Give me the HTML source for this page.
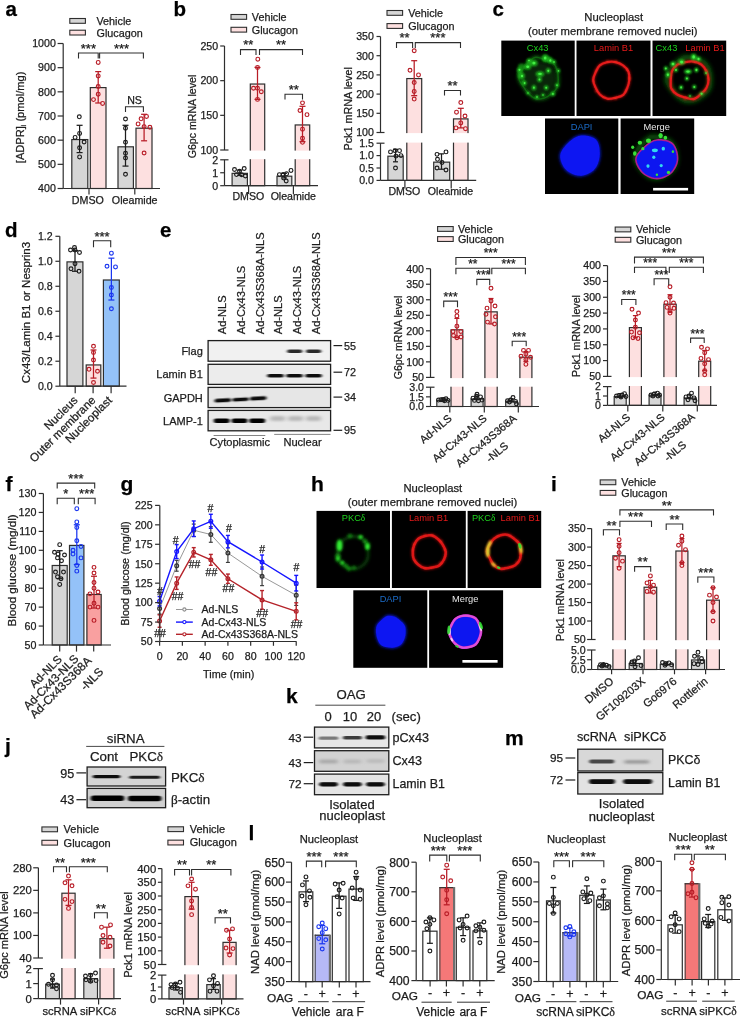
<!DOCTYPE html>
<html><head><meta charset="utf-8"><title>Figure</title>
<style>
html,body{margin:0;padding:0;background:#fff;}
body{width:740px;height:1018px;overflow:hidden;}
svg{display:block;will-change:transform;}
text{stroke-linejoin:round;}
</style></head>
<body>
<svg width="740" height="1018" viewBox="0 0 740 1018">
<defs>
<filter id="b06" x="-50%" y="-50%" width="200%" height="200%"><feGaussianBlur stdDeviation="0.6"/></filter>
<filter id="b1" x="-50%" y="-50%" width="200%" height="200%"><feGaussianBlur stdDeviation="1.0"/></filter>
<filter id="b15" x="-50%" y="-50%" width="200%" height="200%"><feGaussianBlur stdDeviation="1.5"/></filter>
<filter id="b2" x="-50%" y="-50%" width="200%" height="200%"><feGaussianBlur stdDeviation="2.2"/></filter>
<filter id="bband" x="-30%" y="-100%" width="160%" height="300%"><feGaussianBlur stdDeviation="1.6 0.7"/></filter>
<filter id="bband2" x="-30%" y="-100%" width="160%" height="300%"><feGaussianBlur stdDeviation="2.2 1.2"/></filter>
</defs>
<rect x="0" y="0" width="740" height="1018" fill="#ffffff"/>
<text x="5.5" y="16.3" style="font-family:'Liberation Sans', sans-serif;font-size:20.5px;fill:#000;stroke:#000;stroke-width:0.25px;font-weight:bold">a</text>
<rect x="69.8" y="18.5" width="15.6" height="4.8" fill="#d6d6d6" stroke="#2e2e2e" stroke-width="1.1"/>
<text x="96.5" y="24.9" style="font-family:'Liberation Sans', sans-serif;font-size:10.8px;fill:#1c1c1c;stroke:#1c1c1c;stroke-width:0.25px">Vehicle</text>
<rect x="69.8" y="30.2" width="15.6" height="4.8" fill="#fde0e0" stroke="#2e2e2e" stroke-width="1.1"/>
<text x="96.5" y="36.6" style="font-family:'Liberation Sans', sans-serif;font-size:10.8px;fill:#1c1c1c;stroke:#1c1c1c;stroke-width:0.25px">Glucagon</text>
<rect x="71.8" y="139.56" width="16" height="48.94" fill="#d6d6d6" stroke="#2e2e2e" stroke-width="1.2"/>
<rect x="90.3" y="87.6" width="15.7" height="100.9" fill="#fde0e0" stroke="#2e2e2e" stroke-width="1.2"/>
<rect x="118" y="146.81" width="15.4" height="41.69" fill="#d6d6d6" stroke="#2e2e2e" stroke-width="1.2"/>
<rect x="136" y="128.2" width="16" height="60.3" fill="#fde0e0" stroke="#2e2e2e" stroke-width="1.2"/>
<line x1="79.6" y1="125.3" x2="79.6" y2="152.6" stroke="#1c1c1c" stroke-width="1.25"/>
<line x1="76.6" y1="125.3" x2="82.6" y2="125.3" stroke="#1c1c1c" stroke-width="1.25"/>
<line x1="76.6" y1="152.6" x2="82.6" y2="152.6" stroke="#1c1c1c" stroke-width="1.25"/>
<circle cx="79.3" cy="116.8" r="1.9" fill="none" stroke="#1c1c1c" stroke-width="1.15"/>
<circle cx="75.1" cy="137.4" r="1.9" fill="none" stroke="#1c1c1c" stroke-width="1.15"/>
<circle cx="79.6" cy="133.4" r="1.9" fill="none" stroke="#1c1c1c" stroke-width="1.15"/>
<circle cx="84.1" cy="142" r="1.9" fill="none" stroke="#1c1c1c" stroke-width="1.15"/>
<circle cx="79.6" cy="147.8" r="1.9" fill="none" stroke="#1c1c1c" stroke-width="1.15"/>
<circle cx="79.6" cy="156.9" r="1.9" fill="none" stroke="#1c1c1c" stroke-width="1.15"/>
<line x1="98.2" y1="71.6" x2="98.2" y2="103" stroke="#b81c26" stroke-width="1.25"/>
<line x1="95.2" y1="71.6" x2="101.2" y2="71.6" stroke="#b81c26" stroke-width="1.25"/>
<line x1="95.2" y1="103" x2="101.2" y2="103" stroke="#b81c26" stroke-width="1.25"/>
<circle cx="98.2" cy="62.4" r="1.9" fill="none" stroke="#b81c26" stroke-width="1.15"/>
<circle cx="98.2" cy="75.9" r="1.9" fill="none" stroke="#b81c26" stroke-width="1.15"/>
<circle cx="98.2" cy="86.5" r="1.9" fill="none" stroke="#b81c26" stroke-width="1.15"/>
<circle cx="98.2" cy="94.2" r="1.9" fill="none" stroke="#b81c26" stroke-width="1.15"/>
<circle cx="93.5" cy="99.6" r="1.9" fill="none" stroke="#b81c26" stroke-width="1.15"/>
<circle cx="102.6" cy="103.4" r="1.9" fill="none" stroke="#b81c26" stroke-width="1.15"/>
<line x1="125.5" y1="125.3" x2="125.5" y2="166.1" stroke="#1c1c1c" stroke-width="1.25"/>
<line x1="122.5" y1="125.3" x2="128.5" y2="125.3" stroke="#1c1c1c" stroke-width="1.25"/>
<line x1="122.5" y1="166.1" x2="128.5" y2="166.1" stroke="#1c1c1c" stroke-width="1.25"/>
<circle cx="125.5" cy="119" r="1.9" fill="none" stroke="#1c1c1c" stroke-width="1.15"/>
<circle cx="125.5" cy="128.2" r="1.9" fill="none" stroke="#1c1c1c" stroke-width="1.15"/>
<circle cx="125.5" cy="142.2" r="1.9" fill="none" stroke="#1c1c1c" stroke-width="1.15"/>
<circle cx="125.5" cy="153.2" r="1.9" fill="none" stroke="#1c1c1c" stroke-width="1.15"/>
<circle cx="125.5" cy="158" r="1.9" fill="none" stroke="#1c1c1c" stroke-width="1.15"/>
<circle cx="125.5" cy="174.2" r="1.9" fill="none" stroke="#1c1c1c" stroke-width="1.15"/>
<line x1="144.1" y1="114.3" x2="144.1" y2="140.8" stroke="#b81c26" stroke-width="1.25"/>
<line x1="141.1" y1="114.3" x2="147.1" y2="114.3" stroke="#b81c26" stroke-width="1.25"/>
<line x1="141.1" y1="140.8" x2="147.1" y2="140.8" stroke="#b81c26" stroke-width="1.25"/>
<circle cx="146.5" cy="116.4" r="1.9" fill="none" stroke="#b81c26" stroke-width="1.15"/>
<circle cx="141.1" cy="118.8" r="1.9" fill="none" stroke="#b81c26" stroke-width="1.15"/>
<circle cx="138.1" cy="123.9" r="1.9" fill="none" stroke="#b81c26" stroke-width="1.15"/>
<circle cx="144.1" cy="126.6" r="1.9" fill="none" stroke="#b81c26" stroke-width="1.15"/>
<circle cx="149.9" cy="127.3" r="1.9" fill="none" stroke="#b81c26" stroke-width="1.15"/>
<circle cx="144.1" cy="153" r="1.9" fill="none" stroke="#b81c26" stroke-width="1.15"/>
<line x1="63.2" y1="43.5" x2="63.2" y2="188.5" stroke="#2e2e2e" stroke-width="1.2"/>
<line x1="57.6" y1="188.5" x2="63.2" y2="188.5" stroke="#2e2e2e" stroke-width="1.2"/>
<text x="55.8" y="192.29" text-anchor="end" style="font-family:'Liberation Sans', sans-serif;font-size:10.6px;fill:#1c1c1c;stroke:#1c1c1c;stroke-width:0.25px">400</text>
<line x1="57.6" y1="164.33" x2="63.2" y2="164.33" stroke="#2e2e2e" stroke-width="1.2"/>
<text x="55.8" y="168.13" text-anchor="end" style="font-family:'Liberation Sans', sans-serif;font-size:10.6px;fill:#1c1c1c;stroke:#1c1c1c;stroke-width:0.25px">500</text>
<line x1="57.6" y1="140.17" x2="63.2" y2="140.17" stroke="#2e2e2e" stroke-width="1.2"/>
<text x="55.8" y="143.96" text-anchor="end" style="font-family:'Liberation Sans', sans-serif;font-size:10.6px;fill:#1c1c1c;stroke:#1c1c1c;stroke-width:0.25px">600</text>
<line x1="57.6" y1="116" x2="63.2" y2="116" stroke="#2e2e2e" stroke-width="1.2"/>
<text x="55.8" y="119.79" text-anchor="end" style="font-family:'Liberation Sans', sans-serif;font-size:10.6px;fill:#1c1c1c;stroke:#1c1c1c;stroke-width:0.25px">700</text>
<line x1="57.6" y1="91.83" x2="63.2" y2="91.83" stroke="#2e2e2e" stroke-width="1.2"/>
<text x="55.8" y="95.63" text-anchor="end" style="font-family:'Liberation Sans', sans-serif;font-size:10.6px;fill:#1c1c1c;stroke:#1c1c1c;stroke-width:0.25px">800</text>
<line x1="57.6" y1="67.67" x2="63.2" y2="67.67" stroke="#2e2e2e" stroke-width="1.2"/>
<text x="55.8" y="71.46" text-anchor="end" style="font-family:'Liberation Sans', sans-serif;font-size:10.6px;fill:#1c1c1c;stroke:#1c1c1c;stroke-width:0.25px">900</text>
<line x1="57.6" y1="43.5" x2="63.2" y2="43.5" stroke="#2e2e2e" stroke-width="1.2"/>
<text x="55.8" y="47.29" text-anchor="end" style="font-family:'Liberation Sans', sans-serif;font-size:10.6px;fill:#1c1c1c;stroke:#1c1c1c;stroke-width:0.25px">1000</text>
<line x1="63.2" y1="188.5" x2="160" y2="188.5" stroke="#2e2e2e" stroke-width="1.2"/>
<line x1="89" y1="188.5" x2="89" y2="194.5" stroke="#2e2e2e" stroke-width="1.2"/>
<line x1="134.8" y1="188.5" x2="134.8" y2="194.5" stroke="#2e2e2e" stroke-width="1.2"/>
<text x="87.9" y="204" text-anchor="middle" style="font-family:'Liberation Sans', sans-serif;font-size:10.7px;fill:#1c1c1c;stroke:#1c1c1c;stroke-width:0.25px">DMSO</text>
<text x="134.7" y="204" text-anchor="middle" style="font-family:'Liberation Sans', sans-serif;font-size:10.7px;fill:#1c1c1c;stroke:#1c1c1c;stroke-width:0.25px">Oleamide</text>
<text transform="translate(24.2,117.4) rotate(-90)" text-anchor="middle" style="font-family:'Liberation Sans', sans-serif;font-size:11.1px;fill:#1c1c1c;stroke:#1c1c1c;stroke-width:0.25px">[ADPR]<tspan style="font-size:6.5px" dy="2">i</tspan><tspan dy="-2"> (pmol/mg)</tspan></text>
<polyline points="78.5,58.4 78.5,53 98.2,53 98.2,58.4" stroke="#2e2e2e" stroke-width="1.1" fill="none" stroke-linejoin="miter"/>
<text x="88.4" y="52.8" text-anchor="middle" style="font-family:'Liberation Sans', sans-serif;font-size:13px;fill:#1c1c1c;stroke:#1c1c1c;stroke-width:0.25px">***</text>
<polyline points="99.6,58.4 99.6,53 143.4,53 143.4,58.4" stroke="#2e2e2e" stroke-width="1.1" fill="none" stroke-linejoin="miter"/>
<text x="121.5" y="52.8" text-anchor="middle" style="font-family:'Liberation Sans', sans-serif;font-size:13px;fill:#1c1c1c;stroke:#1c1c1c;stroke-width:0.25px">***</text>
<polyline points="125.5,112 125.5,106.8 143.4,106.8 143.4,112" stroke="#2e2e2e" stroke-width="1.1" fill="none" stroke-linejoin="miter"/>
<text x="134.5" y="104.3" text-anchor="middle" style="font-family:'Liberation Sans', sans-serif;font-size:10.6px;fill:#1c1c1c;stroke:#1c1c1c;stroke-width:0.25px">NS</text>
<text x="173.5" y="15.6" style="font-family:'Liberation Sans', sans-serif;font-size:20.5px;fill:#000;stroke:#000;stroke-width:0.25px;font-weight:bold">b</text>
<rect x="231" y="14.5" width="15.6" height="4.8" fill="#d6d6d6" stroke="#2e2e2e" stroke-width="1.1"/>
<text x="251.8" y="20.9" style="font-family:'Liberation Sans', sans-serif;font-size:10.8px;fill:#1c1c1c;stroke:#1c1c1c;stroke-width:0.25px">Vehicle</text>
<rect x="231" y="27.3" width="15.6" height="4.8" fill="#fde0e0" stroke="#2e2e2e" stroke-width="1.1"/>
<text x="251.8" y="33.7" style="font-family:'Liberation Sans', sans-serif;font-size:10.8px;fill:#1c1c1c;stroke:#1c1c1c;stroke-width:0.25px">Glucagon</text>
<rect x="232.1" y="173.35" width="15.3" height="12.35" fill="#d6d6d6" stroke="#2e2e2e" stroke-width="1.2"/>
<rect x="250.3" y="84.04" width="14.4" height="101.66" fill="#fde0e0" stroke="#2e2e2e" stroke-width="1.2"/>
<rect x="277" y="176.2" width="14.8" height="9.5" fill="#d6d6d6" stroke="#2e2e2e" stroke-width="1.2"/>
<rect x="295.2" y="124.95" width="14.5" height="60.75" fill="#fde0e0" stroke="#2e2e2e" stroke-width="1.2"/>
<rect x="225.5" y="150.6" width="92.5" height="8.6" fill="#fff" stroke="none" stroke-width="1"/>
<line x1="239.8" y1="170.16" x2="239.8" y2="175.34" stroke="#1c1c1c" stroke-width="1.25"/>
<line x1="237.3" y1="170.16" x2="242.3" y2="170.16" stroke="#1c1c1c" stroke-width="1.25"/>
<line x1="237.3" y1="175.34" x2="242.3" y2="175.34" stroke="#1c1c1c" stroke-width="1.25"/>
<circle cx="234.5" cy="169.5" r="1.9" fill="none" stroke="#1c1c1c" stroke-width="1.15"/>
<circle cx="239.5" cy="171.3" r="1.9" fill="none" stroke="#1c1c1c" stroke-width="1.15"/>
<circle cx="244.2" cy="168.5" r="1.9" fill="none" stroke="#1c1c1c" stroke-width="1.15"/>
<circle cx="236.5" cy="174.6" r="1.9" fill="none" stroke="#1c1c1c" stroke-width="1.15"/>
<circle cx="241.6" cy="174.7" r="1.9" fill="none" stroke="#1c1c1c" stroke-width="1.15"/>
<circle cx="245.4" cy="176" r="1.9" fill="none" stroke="#1c1c1c" stroke-width="1.15"/>
<line x1="257.5" y1="67.49" x2="257.5" y2="99.39" stroke="#b81c26" stroke-width="1.25"/>
<line x1="254.5" y1="67.49" x2="260.5" y2="67.49" stroke="#b81c26" stroke-width="1.25"/>
<line x1="254.5" y1="99.39" x2="260.5" y2="99.39" stroke="#b81c26" stroke-width="1.25"/>
<circle cx="257.8" cy="59.17" r="1.9" fill="none" stroke="#b81c26" stroke-width="1.15"/>
<circle cx="257.5" cy="67.49" r="1.9" fill="none" stroke="#b81c26" stroke-width="1.15"/>
<circle cx="253.5" cy="88.29" r="1.9" fill="none" stroke="#b81c26" stroke-width="1.15"/>
<circle cx="257.5" cy="88.29" r="1.9" fill="none" stroke="#b81c26" stroke-width="1.15"/>
<circle cx="261.3" cy="91.76" r="1.9" fill="none" stroke="#b81c26" stroke-width="1.15"/>
<circle cx="257.5" cy="99.39" r="1.9" fill="none" stroke="#b81c26" stroke-width="1.15"/>
<line x1="284.4" y1="173.4" x2="284.4" y2="177.93" stroke="#1c1c1c" stroke-width="1.25"/>
<line x1="281.9" y1="173.4" x2="286.9" y2="173.4" stroke="#1c1c1c" stroke-width="1.25"/>
<line x1="281.9" y1="177.93" x2="286.9" y2="177.93" stroke="#1c1c1c" stroke-width="1.25"/>
<circle cx="279.4" cy="174.6" r="1.9" fill="none" stroke="#1c1c1c" stroke-width="1.15"/>
<circle cx="283.2" cy="174.4" r="1.9" fill="none" stroke="#1c1c1c" stroke-width="1.15"/>
<circle cx="286.6" cy="173.8" r="1.9" fill="none" stroke="#1c1c1c" stroke-width="1.15"/>
<circle cx="291" cy="170.4" r="1.9" fill="none" stroke="#1c1c1c" stroke-width="1.15"/>
<circle cx="283.6" cy="178" r="1.9" fill="none" stroke="#1c1c1c" stroke-width="1.15"/>
<circle cx="286.2" cy="181" r="1.9" fill="none" stroke="#1c1c1c" stroke-width="1.15"/>
<line x1="302.5" y1="106.32" x2="302.5" y2="141.68" stroke="#b81c26" stroke-width="1.25"/>
<line x1="299.5" y1="106.32" x2="305.5" y2="106.32" stroke="#b81c26" stroke-width="1.25"/>
<line x1="299.5" y1="141.68" x2="305.5" y2="141.68" stroke="#b81c26" stroke-width="1.25"/>
<circle cx="302.5" cy="102.85" r="1.9" fill="none" stroke="#b81c26" stroke-width="1.15"/>
<circle cx="300" cy="110.48" r="1.9" fill="none" stroke="#b81c26" stroke-width="1.15"/>
<circle cx="307" cy="114.64" r="1.9" fill="none" stroke="#b81c26" stroke-width="1.15"/>
<circle cx="302.5" cy="129.2" r="1.9" fill="none" stroke="#b81c26" stroke-width="1.15"/>
<circle cx="302.5" cy="138.21" r="1.9" fill="none" stroke="#b81c26" stroke-width="1.15"/>
<circle cx="302.5" cy="142.37" r="1.9" fill="none" stroke="#b81c26" stroke-width="1.15"/>
<line x1="224.5" y1="46" x2="224.5" y2="150" stroke="#2e2e2e" stroke-width="1.2"/>
<line x1="224.5" y1="159.8" x2="224.5" y2="185.7" stroke="#2e2e2e" stroke-width="1.2"/>
<line x1="220.2" y1="46" x2="224.5" y2="46" stroke="#2e2e2e" stroke-width="1.2"/>
<text x="218.1" y="49.8" text-anchor="end" style="font-family:'Liberation Sans', sans-serif;font-size:10.6px;fill:#1c1c1c;stroke:#1c1c1c;stroke-width:0.25px">250</text>
<line x1="220.2" y1="80.67" x2="224.5" y2="80.67" stroke="#2e2e2e" stroke-width="1.2"/>
<text x="218.1" y="84.47" text-anchor="end" style="font-family:'Liberation Sans', sans-serif;font-size:10.6px;fill:#1c1c1c;stroke:#1c1c1c;stroke-width:0.25px">200</text>
<line x1="220.2" y1="115.33" x2="224.5" y2="115.33" stroke="#2e2e2e" stroke-width="1.2"/>
<text x="218.1" y="119.13" text-anchor="end" style="font-family:'Liberation Sans', sans-serif;font-size:10.6px;fill:#1c1c1c;stroke:#1c1c1c;stroke-width:0.25px">150</text>
<line x1="220.2" y1="150" x2="228.5" y2="150" stroke="#2e2e2e" stroke-width="1.2"/>
<text x="218.1" y="153.8" text-anchor="end" style="font-family:'Liberation Sans', sans-serif;font-size:10.6px;fill:#1c1c1c;stroke:#1c1c1c;stroke-width:0.25px">100</text>
<line x1="220.2" y1="159.8" x2="228.5" y2="159.8" stroke="#2e2e2e" stroke-width="1.2"/>
<text x="218.1" y="163.6" text-anchor="end" style="font-family:'Liberation Sans', sans-serif;font-size:10.6px;fill:#1c1c1c;stroke:#1c1c1c;stroke-width:0.25px">2</text>
<line x1="220.2" y1="172.75" x2="224.5" y2="172.75" stroke="#2e2e2e" stroke-width="1.2"/>
<text x="218.1" y="176.55" text-anchor="end" style="font-family:'Liberation Sans', sans-serif;font-size:10.6px;fill:#1c1c1c;stroke:#1c1c1c;stroke-width:0.25px">1</text>
<line x1="220.2" y1="185.7" x2="224.5" y2="185.7" stroke="#2e2e2e" stroke-width="1.2"/>
<text x="218.1" y="189.5" text-anchor="end" style="font-family:'Liberation Sans', sans-serif;font-size:10.6px;fill:#1c1c1c;stroke:#1c1c1c;stroke-width:0.25px">0</text>
<line x1="224.5" y1="185.7" x2="318" y2="185.7" stroke="#2e2e2e" stroke-width="1.2"/>
<line x1="248.6" y1="185.7" x2="248.6" y2="194" stroke="#2e2e2e" stroke-width="1.2"/>
<line x1="293.4" y1="185.7" x2="293.4" y2="194" stroke="#2e2e2e" stroke-width="1.2"/>
<text x="248.3" y="200" text-anchor="middle" style="font-family:'Liberation Sans', sans-serif;font-size:10.6px;fill:#1c1c1c;stroke:#1c1c1c;stroke-width:0.25px">DMSO</text>
<text x="293.3" y="200" text-anchor="middle" style="font-family:'Liberation Sans', sans-serif;font-size:10.6px;fill:#1c1c1c;stroke:#1c1c1c;stroke-width:0.25px">Oleamide</text>
<text transform="translate(195.8,116.5) rotate(-90)" text-anchor="middle" style="font-family:'Liberation Sans', sans-serif;font-size:10.6px;fill:#1c1c1c;stroke:#1c1c1c;stroke-width:0.25px">G6pc mRNA level</text>
<polyline points="240.5,55.1 240.5,49.6 256,49.6 256,55.1" stroke="#2e2e2e" stroke-width="1.1" fill="none" stroke-linejoin="miter"/>
<text x="248.25" y="49.4" text-anchor="middle" style="font-family:'Liberation Sans', sans-serif;font-size:13px;fill:#1c1c1c;stroke:#1c1c1c;stroke-width:0.25px">**</text>
<polyline points="259.5,55.1 259.5,49.6 302.5,49.6 302.5,55.1" stroke="#2e2e2e" stroke-width="1.1" fill="none" stroke-linejoin="miter"/>
<text x="281" y="49.4" text-anchor="middle" style="font-family:'Liberation Sans', sans-serif;font-size:13px;fill:#1c1c1c;stroke:#1c1c1c;stroke-width:0.25px">**</text>
<polyline points="285,99.5 285,94.2 302.5,94.2 302.5,99.5" stroke="#2e2e2e" stroke-width="1.1" fill="none" stroke-linejoin="miter"/>
<text x="293.75" y="94" text-anchor="middle" style="font-family:'Liberation Sans', sans-serif;font-size:13px;fill:#1c1c1c;stroke:#1c1c1c;stroke-width:0.25px">**</text>
<rect x="387" y="10.5" width="15.6" height="4.8" fill="#d6d6d6" stroke="#2e2e2e" stroke-width="1.1"/>
<text x="408.2" y="16.9" style="font-family:'Liberation Sans', sans-serif;font-size:10.8px;fill:#1c1c1c;stroke:#1c1c1c;stroke-width:0.25px">Vehicle</text>
<rect x="387" y="23.6" width="15.6" height="4.8" fill="#fde0e0" stroke="#2e2e2e" stroke-width="1.1"/>
<text x="408.2" y="30" style="font-family:'Liberation Sans', sans-serif;font-size:10.8px;fill:#1c1c1c;stroke:#1c1c1c;stroke-width:0.25px">Glucagon</text>
<rect x="387.9" y="156.2" width="15.3" height="24.2" fill="#d6d6d6" stroke="#2e2e2e" stroke-width="1.2"/>
<rect x="406.8" y="78.57" width="14.9" height="101.83" fill="#fde0e0" stroke="#2e2e2e" stroke-width="1.2"/>
<rect x="433.7" y="162.15" width="16" height="18.25" fill="#d6d6d6" stroke="#2e2e2e" stroke-width="1.2"/>
<rect x="453.5" y="118.89" width="14.5" height="61.51" fill="#fde0e0" stroke="#2e2e2e" stroke-width="1.2"/>
<rect x="381.5" y="133.1" width="95" height="9.5" fill="#fff" stroke="none" stroke-width="1"/>
<line x1="395.5" y1="149.4" x2="395.5" y2="161.8" stroke="#1c1c1c" stroke-width="1.25"/>
<line x1="393" y1="149.4" x2="398" y2="149.4" stroke="#1c1c1c" stroke-width="1.25"/>
<line x1="393" y1="161.8" x2="398" y2="161.8" stroke="#1c1c1c" stroke-width="1.25"/>
<circle cx="390.5" cy="151.88" r="1.9" fill="none" stroke="#1c1c1c" stroke-width="1.15"/>
<circle cx="395" cy="150.64" r="1.9" fill="none" stroke="#1c1c1c" stroke-width="1.15"/>
<circle cx="399.5" cy="150.64" r="1.9" fill="none" stroke="#1c1c1c" stroke-width="1.15"/>
<circle cx="401" cy="155.6" r="1.9" fill="none" stroke="#1c1c1c" stroke-width="1.15"/>
<circle cx="396" cy="156.1" r="1.9" fill="none" stroke="#1c1c1c" stroke-width="1.15"/>
<circle cx="395.5" cy="168" r="1.9" fill="none" stroke="#1c1c1c" stroke-width="1.15"/>
<line x1="414.2" y1="60.69" x2="414.2" y2="95.64" stroke="#b81c26" stroke-width="1.25"/>
<line x1="411.2" y1="60.69" x2="417.2" y2="60.69" stroke="#b81c26" stroke-width="1.25"/>
<line x1="411.2" y1="95.64" x2="417.2" y2="95.64" stroke="#b81c26" stroke-width="1.25"/>
<circle cx="414.2" cy="50.71" r="1.9" fill="none" stroke="#b81c26" stroke-width="1.15"/>
<circle cx="410" cy="70.29" r="1.9" fill="none" stroke="#b81c26" stroke-width="1.15"/>
<circle cx="418.5" cy="74.9" r="1.9" fill="none" stroke="#b81c26" stroke-width="1.15"/>
<circle cx="414.2" cy="82.58" r="1.9" fill="none" stroke="#b81c26" stroke-width="1.15"/>
<circle cx="414.2" cy="91.41" r="1.9" fill="none" stroke="#b81c26" stroke-width="1.15"/>
<circle cx="414.2" cy="99.09" r="1.9" fill="none" stroke="#b81c26" stroke-width="1.15"/>
<line x1="441.5" y1="153.86" x2="441.5" y2="169.24" stroke="#1c1c1c" stroke-width="1.25"/>
<line x1="439" y1="153.86" x2="444" y2="153.86" stroke="#1c1c1c" stroke-width="1.25"/>
<line x1="439" y1="169.24" x2="444" y2="169.24" stroke="#1c1c1c" stroke-width="1.25"/>
<circle cx="437" cy="154.36" r="1.9" fill="none" stroke="#1c1c1c" stroke-width="1.15"/>
<circle cx="446" cy="151.88" r="1.9" fill="none" stroke="#1c1c1c" stroke-width="1.15"/>
<circle cx="437.5" cy="159.32" r="1.9" fill="none" stroke="#1c1c1c" stroke-width="1.15"/>
<circle cx="442" cy="162.54" r="1.9" fill="none" stroke="#1c1c1c" stroke-width="1.15"/>
<circle cx="437" cy="168" r="1.9" fill="none" stroke="#1c1c1c" stroke-width="1.15"/>
<circle cx="446" cy="169.98" r="1.9" fill="none" stroke="#1c1c1c" stroke-width="1.15"/>
<line x1="460.8" y1="108.31" x2="460.8" y2="127.89" stroke="#b81c26" stroke-width="1.25"/>
<line x1="457.8" y1="108.31" x2="463.8" y2="108.31" stroke="#b81c26" stroke-width="1.25"/>
<line x1="457.8" y1="127.89" x2="463.8" y2="127.89" stroke="#b81c26" stroke-width="1.25"/>
<circle cx="460.8" cy="102.55" r="1.9" fill="none" stroke="#b81c26" stroke-width="1.15"/>
<circle cx="456.5" cy="112.15" r="1.9" fill="none" stroke="#b81c26" stroke-width="1.15"/>
<circle cx="465" cy="115.99" r="1.9" fill="none" stroke="#b81c26" stroke-width="1.15"/>
<circle cx="460.8" cy="122.9" r="1.9" fill="none" stroke="#b81c26" stroke-width="1.15"/>
<circle cx="456" cy="127.89" r="1.9" fill="none" stroke="#b81c26" stroke-width="1.15"/>
<circle cx="465.5" cy="128.66" r="1.9" fill="none" stroke="#b81c26" stroke-width="1.15"/>
<line x1="380.5" y1="36.5" x2="380.5" y2="132.5" stroke="#2e2e2e" stroke-width="1.2"/>
<line x1="380.5" y1="143.2" x2="380.5" y2="180.4" stroke="#2e2e2e" stroke-width="1.2"/>
<line x1="376.5" y1="36.5" x2="380.5" y2="36.5" stroke="#2e2e2e" stroke-width="1.2"/>
<text x="373.9" y="40.3" text-anchor="end" style="font-family:'Liberation Sans', sans-serif;font-size:10.6px;fill:#1c1c1c;stroke:#1c1c1c;stroke-width:0.25px">350</text>
<line x1="376.5" y1="55.7" x2="380.5" y2="55.7" stroke="#2e2e2e" stroke-width="1.2"/>
<text x="373.9" y="59.5" text-anchor="end" style="font-family:'Liberation Sans', sans-serif;font-size:10.6px;fill:#1c1c1c;stroke:#1c1c1c;stroke-width:0.25px">300</text>
<line x1="376.5" y1="74.9" x2="380.5" y2="74.9" stroke="#2e2e2e" stroke-width="1.2"/>
<text x="373.9" y="78.7" text-anchor="end" style="font-family:'Liberation Sans', sans-serif;font-size:10.6px;fill:#1c1c1c;stroke:#1c1c1c;stroke-width:0.25px">250</text>
<line x1="376.5" y1="94.1" x2="380.5" y2="94.1" stroke="#2e2e2e" stroke-width="1.2"/>
<text x="373.9" y="97.9" text-anchor="end" style="font-family:'Liberation Sans', sans-serif;font-size:10.6px;fill:#1c1c1c;stroke:#1c1c1c;stroke-width:0.25px">200</text>
<line x1="376.5" y1="113.3" x2="380.5" y2="113.3" stroke="#2e2e2e" stroke-width="1.2"/>
<text x="373.9" y="117.1" text-anchor="end" style="font-family:'Liberation Sans', sans-serif;font-size:10.6px;fill:#1c1c1c;stroke:#1c1c1c;stroke-width:0.25px">150</text>
<line x1="376.5" y1="132.5" x2="384.5" y2="132.5" stroke="#2e2e2e" stroke-width="1.2"/>
<text x="373.9" y="136.3" text-anchor="end" style="font-family:'Liberation Sans', sans-serif;font-size:10.6px;fill:#1c1c1c;stroke:#1c1c1c;stroke-width:0.25px">100</text>
<line x1="376.5" y1="143.2" x2="384.5" y2="143.2" stroke="#2e2e2e" stroke-width="1.2"/>
<text x="373.9" y="147" text-anchor="end" style="font-family:'Liberation Sans', sans-serif;font-size:10.6px;fill:#1c1c1c;stroke:#1c1c1c;stroke-width:0.25px">1.5</text>
<line x1="376.5" y1="155.6" x2="380.5" y2="155.6" stroke="#2e2e2e" stroke-width="1.2"/>
<text x="373.9" y="159.4" text-anchor="end" style="font-family:'Liberation Sans', sans-serif;font-size:10.6px;fill:#1c1c1c;stroke:#1c1c1c;stroke-width:0.25px">1.0</text>
<line x1="376.5" y1="168" x2="380.5" y2="168" stroke="#2e2e2e" stroke-width="1.2"/>
<text x="373.9" y="171.8" text-anchor="end" style="font-family:'Liberation Sans', sans-serif;font-size:10.6px;fill:#1c1c1c;stroke:#1c1c1c;stroke-width:0.25px">0.5</text>
<line x1="376.5" y1="180.4" x2="380.5" y2="180.4" stroke="#2e2e2e" stroke-width="1.2"/>
<text x="373.9" y="184.2" text-anchor="end" style="font-family:'Liberation Sans', sans-serif;font-size:10.6px;fill:#1c1c1c;stroke:#1c1c1c;stroke-width:0.25px">0.0</text>
<line x1="380.5" y1="180.4" x2="476.2" y2="180.4" stroke="#2e2e2e" stroke-width="1.2"/>
<line x1="404.9" y1="180.4" x2="404.9" y2="188.5" stroke="#2e2e2e" stroke-width="1.2"/>
<line x1="451.2" y1="180.4" x2="451.2" y2="188.5" stroke="#2e2e2e" stroke-width="1.2"/>
<text x="404.3" y="194.6" text-anchor="middle" style="font-family:'Liberation Sans', sans-serif;font-size:10.6px;fill:#1c1c1c;stroke:#1c1c1c;stroke-width:0.25px">DMSO</text>
<text x="450.5" y="194.6" text-anchor="middle" style="font-family:'Liberation Sans', sans-serif;font-size:10.6px;fill:#1c1c1c;stroke:#1c1c1c;stroke-width:0.25px">Oleamide</text>
<text transform="translate(352,108.8) rotate(-90)" text-anchor="middle" style="font-family:'Liberation Sans', sans-serif;font-size:10.8px;fill:#1c1c1c;stroke:#1c1c1c;stroke-width:0.25px">Pck1 mRNA level</text>
<polyline points="396.5,48 396.5,42.6 412.6,42.6 412.6,48" stroke="#2e2e2e" stroke-width="1.1" fill="none" stroke-linejoin="miter"/>
<text x="404.55" y="42.4" text-anchor="middle" style="font-family:'Liberation Sans', sans-serif;font-size:13px;fill:#1c1c1c;stroke:#1c1c1c;stroke-width:0.25px">**</text>
<polyline points="415.3,48 415.3,42.6 460.5,42.6 460.5,48" stroke="#2e2e2e" stroke-width="1.1" fill="none" stroke-linejoin="miter"/>
<text x="437.9" y="42.4" text-anchor="middle" style="font-family:'Liberation Sans', sans-serif;font-size:13px;fill:#1c1c1c;stroke:#1c1c1c;stroke-width:0.25px">***</text>
<polyline points="444.5,95.5 444.5,90.5 460.5,90.5 460.5,95.5" stroke="#2e2e2e" stroke-width="1.1" fill="none" stroke-linejoin="miter"/>
<text x="452.5" y="90.3" text-anchor="middle" style="font-family:'Liberation Sans', sans-serif;font-size:13px;fill:#1c1c1c;stroke:#1c1c1c;stroke-width:0.25px">**</text>
<text x="492.5" y="16.2" style="font-family:'Liberation Sans', sans-serif;font-size:20.5px;fill:#000;stroke:#000;stroke-width:0.25px;font-weight:bold">c</text>
<text x="613.7" y="21.1" text-anchor="middle" style="font-family:'Liberation Sans', sans-serif;font-size:11.25px;fill:#1c1c1c;stroke:#1c1c1c;stroke-width:0.25px">Nucleoplast</text>
<text x="612.8" y="34.6" text-anchor="middle" style="font-family:'Liberation Sans', sans-serif;font-size:11.25px;fill:#1c1c1c;stroke:#1c1c1c;stroke-width:0.25px">(outer membrane removed nuclei)</text>
<rect x="501.3" y="40.6" width="73.4" height="75.4" fill="#000" stroke="none" stroke-width="1"/>
<path d="M556.71,78.5 C556.84,80.97 556.29,83.77 555.27,86.09 C554.25,88.42 552.56,90.73 550.61,92.43 C548.65,94.12 546.07,95.7 543.56,96.29 C541.05,96.88 538.07,96.56 535.52,95.94 C532.97,95.33 530.04,94.33 528.26,92.6 C526.48,90.87 525.78,87.92 524.83,85.57 C523.88,83.22 522.79,80.97 522.56,78.5 C522.32,76.03 522.42,73.04 523.42,70.76 C524.42,68.47 526.55,66.43 528.55,64.77 C530.56,63.11 533.01,61.22 535.46,60.78 C537.9,60.34 540.77,61.42 543.24,62.12 C545.7,62.83 548.37,63.49 550.25,65.02 C552.13,66.54 553.43,69.03 554.51,71.27 C555.58,73.52 556.58,76.03 556.71,78.5Z" fill="#0a2e0a" opacity="0.8" filter="url(#b2)"/>
<path d="M558.18,78.5 C558.21,81.34 558.37,84.53 557.28,87.06 C556.18,89.59 553.8,91.79 551.59,93.66 C549.38,95.53 546.79,97.51 544.02,98.3 C541.25,99.08 537.63,99.26 534.97,98.37 C532.3,97.47 529.97,94.91 528.01,92.9 C526.06,90.9 524.73,88.74 523.22,86.34 C521.71,83.94 519.06,81.17 518.95,78.5 C518.83,75.83 521.07,72.8 522.53,70.33 C523.98,67.86 525.65,65.82 527.68,63.68 C529.71,61.54 532,58.24 534.7,57.48 C537.41,56.72 540.96,58.34 543.92,59.12 C546.89,59.9 550.32,60.37 552.51,62.19 C554.7,64 556.14,67.31 557.08,70.03 C558.03,72.75 558.15,75.66 558.18,78.5Z" fill="none" stroke="#0b4f0b" stroke-width="4.5" opacity="0.8" filter="url(#b15)"/>
<path d="M558.18,78.5 C558.21,81.34 558.37,84.53 557.28,87.06 C556.18,89.59 553.8,91.79 551.59,93.66 C549.38,95.53 546.79,97.51 544.02,98.3 C541.25,99.08 537.63,99.26 534.97,98.37 C532.3,97.47 529.97,94.91 528.01,92.9 C526.06,90.9 524.73,88.74 523.22,86.34 C521.71,83.94 519.06,81.17 518.95,78.5 C518.83,75.83 521.07,72.8 522.53,70.33 C523.98,67.86 525.65,65.82 527.68,63.68 C529.71,61.54 532,58.24 534.7,57.48 C537.41,56.72 540.96,58.34 543.92,59.12 C546.89,59.9 550.32,60.37 552.51,62.19 C554.7,64 556.14,67.31 557.08,70.03 C558.03,72.75 558.15,75.66 558.18,78.5Z" fill="none" stroke="#128012" stroke-width="1.6" opacity="0.6" filter="url(#b06)"/>
<g fill="#149a14" opacity="0.8" filter="url(#b1)"><ellipse cx="521.5" cy="66.5" rx="3.5" ry="3"/><ellipse cx="519.5" cy="74" rx="2.5" ry="4.5"/><ellipse cx="523" cy="82" rx="2" ry="3"/><ellipse cx="530" cy="62.5" rx="4" ry="2.5"/><ellipse cx="547" cy="59" rx="4" ry="3"/></g>
<g fill="#1cae1c" opacity="1.0" filter="url(#b1)"><ellipse cx="545.2" cy="58" rx="3.19" ry="3.77"/><ellipse cx="550.3" cy="60.5" rx="2.61" ry="2.9"/><ellipse cx="533.9" cy="63.1" rx="3.77" ry="3.19"/><ellipse cx="527.7" cy="66.7" rx="3.48" ry="2.9"/><ellipse cx="519.5" cy="69.8" rx="2.61" ry="2.61"/><ellipse cx="522" cy="76" rx="2.9" ry="3.19"/><ellipse cx="540" cy="73.9" rx="4.35" ry="2.75"/><ellipse cx="548.3" cy="70.8" rx="2.46" ry="2.75"/><ellipse cx="539.5" cy="79.5" rx="2.32" ry="2.61"/><ellipse cx="533.9" cy="87.7" rx="2.32" ry="2.61"/><ellipse cx="546.2" cy="87.7" rx="2.32" ry="2.46"/><ellipse cx="552.9" cy="93.9" rx="2.46" ry="2.32"/><ellipse cx="537" cy="97" rx="2.17" ry="1.89"/><ellipse cx="524.6" cy="83.1" rx="2.17" ry="2.61"/><ellipse cx="558.5" cy="70.8" rx="1.74" ry="2.03"/><ellipse cx="557" cy="85.2" rx="1.89" ry="2.17"/><ellipse cx="529" cy="60.5" rx="2.32" ry="2.03"/><ellipse cx="554" cy="62" rx="1.89" ry="2.32"/><ellipse cx="543" cy="95" rx="2.03" ry="1.74"/><ellipse cx="528" cy="93" rx="1.74" ry="1.74"/></g>
<g fill="#50ff50" opacity="0.8" filter="url(#b06)"><ellipse cx="545.2" cy="58" rx="1.32" ry="1.56"/><ellipse cx="550.3" cy="60.5" rx="1.08" ry="1.2"/><ellipse cx="533.9" cy="63.1" rx="1.56" ry="1.32"/><ellipse cx="527.7" cy="66.7" rx="1.44" ry="1.2"/><ellipse cx="519.5" cy="69.8" rx="1.08" ry="1.08"/><ellipse cx="522" cy="76" rx="1.2" ry="1.32"/><ellipse cx="540" cy="73.9" rx="1.8" ry="1.14"/><ellipse cx="548.3" cy="70.8" rx="1.02" ry="1.14"/><ellipse cx="539.5" cy="79.5" rx="0.96" ry="1.08"/><ellipse cx="533.9" cy="87.7" rx="0.96" ry="1.08"/><ellipse cx="546.2" cy="87.7" rx="0.96" ry="1.02"/><ellipse cx="552.9" cy="93.9" rx="1.02" ry="0.96"/><ellipse cx="537" cy="97" rx="0.9" ry="0.78"/><ellipse cx="524.6" cy="83.1" rx="0.9" ry="1.08"/><ellipse cx="558.5" cy="70.8" rx="0.72" ry="0.84"/><ellipse cx="557" cy="85.2" rx="0.78" ry="0.9"/><ellipse cx="529" cy="60.5" rx="0.96" ry="0.84"/><ellipse cx="554" cy="62" rx="0.78" ry="0.96"/><ellipse cx="543" cy="95" rx="0.84" ry="0.72"/><ellipse cx="528" cy="93" rx="0.72" ry="0.72"/></g>
<text x="537.7" y="51.3" text-anchor="middle" style="font-family:'Liberation Sans', sans-serif;font-size:9.3px;fill:#1ed21e">Cx43</text>
<rect x="576.5" y="40.6" width="74" height="75.4" fill="#000" stroke="none" stroke-width="1"/>
<path d="M629.28,80 C629.09,82.65 628.38,85.21 627.38,87.69 C626.38,90.18 625.28,93.22 623.29,94.91 C621.31,96.61 618.17,97.23 615.48,97.87 C612.78,98.5 609.73,99.3 607.12,98.73 C604.52,98.17 601.77,96.35 599.84,94.49 C597.92,92.64 596.68,90.04 595.58,87.62 C594.47,85.2 593.18,82.54 593.19,80 C593.19,77.46 594.51,74.83 595.61,72.4 C596.71,69.96 597.81,67.12 599.76,65.41 C601.71,63.7 604.7,62.69 607.32,62.14 C609.94,61.59 612.87,61.55 615.49,62.1 C618.1,62.64 620.86,63.81 623.03,65.42 C625.2,67.03 627.46,69.34 628.5,71.77 C629.54,74.2 629.47,77.35 629.28,80Z" fill="none" stroke="#a01010" stroke-width="3.8" opacity="0.75" filter="url(#b1)"/>
<path d="M629.28,80 C629.09,82.65 628.38,85.21 627.38,87.69 C626.38,90.18 625.28,93.22 623.29,94.91 C621.31,96.61 618.17,97.23 615.48,97.87 C612.78,98.5 609.73,99.3 607.12,98.73 C604.52,98.17 601.77,96.35 599.84,94.49 C597.92,92.64 596.68,90.04 595.58,87.62 C594.47,85.2 593.18,82.54 593.19,80 C593.19,77.46 594.51,74.83 595.61,72.4 C596.71,69.96 597.81,67.12 599.76,65.41 C601.71,63.7 604.7,62.69 607.32,62.14 C609.94,61.59 612.87,61.55 615.49,62.1 C618.1,62.64 620.86,63.81 623.03,65.42 C625.2,67.03 627.46,69.34 628.5,71.77 C629.54,74.2 629.47,77.35 629.28,80Z" fill="none" stroke="#e41a1a" stroke-width="2.3" opacity="1.0" filter="url(#b06)"/>
<g fill="#ff3020" opacity="0.6" filter="url(#b1)"><ellipse cx="629.64" cy="78.53" rx="1.39" ry="1.47"/><ellipse cx="626.01" cy="91.08" rx="0.97" ry="1.16"/><ellipse cx="615.62" cy="98.38" rx="1.2" ry="1.3"/><ellipse cx="603.81" cy="97.17" rx="1.06" ry="0.92"/><ellipse cx="596.01" cy="91.14" rx="1.27" ry="1.08"/><ellipse cx="593.68" cy="80.72" rx="0.98" ry="0.98"/><ellipse cx="595.86" cy="70.52" rx="1.02" ry="0.99"/><ellipse cx="607.71" cy="61.51" rx="1.21" ry="1.16"/><ellipse cx="615.88" cy="61.63" rx="1.29" ry="1.47"/><ellipse cx="627.19" cy="69.59" rx="1.26" ry="1.16"/></g>
<text x="613.5" y="50.9" text-anchor="middle" style="font-family:'Liberation Sans', sans-serif;font-size:9.3px;fill:#e81a1a">Lamin B1</text>
<rect x="652.5" y="40.6" width="73.7" height="75.4" fill="#000" stroke="none" stroke-width="1"/>
<path d="M710.12,79.3 C710.15,82.4 709.99,85.92 708.69,88.64 C707.38,91.35 704.75,93.71 702.31,95.61 C699.86,97.51 697,99.3 694.04,100.05 C691.08,100.8 687.43,100.95 684.55,100.11 C681.67,99.26 679.01,97.01 676.78,95 C674.54,92.99 672.78,90.66 671.14,88.04 C669.5,85.43 667.02,82.26 666.93,79.3 C666.83,76.34 668.98,72.95 670.57,70.28 C672.17,67.61 674.21,65.38 676.51,63.26 C678.8,61.14 681.43,58.31 684.34,57.58 C687.25,56.85 690.84,58.13 693.96,58.88 C697.08,59.62 700.62,60.2 703.05,62.06 C705.47,63.92 707.35,67.17 708.53,70.04 C709.71,72.91 710.1,76.2 710.12,79.3Z" fill="none" stroke="#0c5a0c" stroke-width="5" opacity="1.0" filter="url(#b2)"/>
<path d="M708.53,79.8 C708.51,82.56 707.71,85.64 706.42,88.04 C705.13,90.44 702.91,92.38 700.79,94.2 C698.67,96.03 696.27,98.48 693.69,99.02 C691.1,99.55 688,98.13 685.28,97.42 C682.56,96.71 679.71,96.24 677.38,94.75 C675.04,93.26 672.37,90.97 671.27,88.48 C670.18,85.99 670.71,82.65 670.81,79.8 C670.91,76.95 670.8,73.93 671.87,71.41 C672.94,68.89 675.01,66.23 677.24,64.68 C679.48,63.13 682.56,62.65 685.26,62.11 C687.97,61.58 690.78,61.08 693.48,61.49 C696.18,61.89 699.28,62.88 701.46,64.55 C703.64,66.22 705.38,68.95 706.55,71.49 C707.73,74.03 708.55,77.04 708.53,79.8Z" fill="none" stroke="#a01010" stroke-width="3.8" opacity="0.75" filter="url(#b1)"/>
<path d="M708.53,79.8 C708.51,82.56 707.71,85.64 706.42,88.04 C705.13,90.44 702.91,92.38 700.79,94.2 C698.67,96.03 696.27,98.48 693.69,99.02 C691.1,99.55 688,98.13 685.28,97.42 C682.56,96.71 679.71,96.24 677.38,94.75 C675.04,93.26 672.37,90.97 671.27,88.48 C670.18,85.99 670.71,82.65 670.81,79.8 C670.91,76.95 670.8,73.93 671.87,71.41 C672.94,68.89 675.01,66.23 677.24,64.68 C679.48,63.13 682.56,62.65 685.26,62.11 C687.97,61.58 690.78,61.08 693.48,61.49 C696.18,61.89 699.28,62.88 701.46,64.55 C703.64,66.22 705.38,68.95 706.55,71.49 C707.73,74.03 708.55,77.04 708.53,79.8Z" fill="none" stroke="#e41a1a" stroke-width="2.3" opacity="1.0" filter="url(#b06)"/>
<g fill="#ff3020" opacity="0.6" filter="url(#b1)"><ellipse cx="708.51" cy="78.55" rx="1.17" ry="0.99"/><ellipse cx="705.33" cy="91.28" rx="1.18" ry="1.19"/><ellipse cx="693.63" cy="98.26" rx="1.04" ry="1.18"/><ellipse cx="685.1" cy="98.8" rx="1.34" ry="1.37"/><ellipse cx="674.04" cy="90.6" rx="0.99" ry="1.09"/><ellipse cx="669.9" cy="78.49" rx="0.97" ry="1.06"/><ellipse cx="675.21" cy="66.21" rx="1.23" ry="1.21"/><ellipse cx="683.05" cy="62.24" rx="0.92" ry="1.09"/><ellipse cx="694.66" cy="61.68" rx="1.14" ry="1.36"/><ellipse cx="706.39" cy="70.52" rx="1.29" ry="1.31"/></g>
<g fill="#22c022" opacity="1.0" filter="url(#b1)"><ellipse cx="693.7" cy="56.9" rx="2.75" ry="3.25"/><ellipse cx="681.6" cy="62.1" rx="3.25" ry="2.75"/><ellipse cx="688" cy="71.6" rx="3.75" ry="2.38"/><ellipse cx="696.4" cy="70" rx="2.12" ry="2.38"/><ellipse cx="686.9" cy="78.5" rx="2" ry="2.25"/><ellipse cx="681.1" cy="87.4" rx="2" ry="2.25"/><ellipse cx="694.3" cy="86.9" rx="2" ry="2.12"/><ellipse cx="667.9" cy="74.8" rx="2.25" ry="2.75"/><ellipse cx="665.8" cy="68.5" rx="2" ry="2.25"/><ellipse cx="701.6" cy="93.7" rx="2.12" ry="2"/><ellipse cx="698.5" cy="59" rx="2.25" ry="2.5"/><ellipse cx="673" cy="64" rx="2.75" ry="2.5"/><ellipse cx="676" cy="70" rx="2" ry="2"/><ellipse cx="706" cy="73" rx="1.5" ry="1.75"/><ellipse cx="690" cy="96" rx="1.5" ry="1.5"/></g>
<g fill="#50ff50" opacity="0.8" filter="url(#b06)"><ellipse cx="693.7" cy="56.9" rx="1.32" ry="1.56"/><ellipse cx="681.6" cy="62.1" rx="1.56" ry="1.32"/><ellipse cx="688" cy="71.6" rx="1.8" ry="1.14"/><ellipse cx="696.4" cy="70" rx="1.02" ry="1.14"/><ellipse cx="686.9" cy="78.5" rx="0.96" ry="1.08"/><ellipse cx="681.1" cy="87.4" rx="0.96" ry="1.08"/><ellipse cx="694.3" cy="86.9" rx="0.96" ry="1.02"/><ellipse cx="667.9" cy="74.8" rx="1.08" ry="1.32"/><ellipse cx="665.8" cy="68.5" rx="0.96" ry="1.08"/><ellipse cx="701.6" cy="93.7" rx="1.02" ry="0.96"/><ellipse cx="698.5" cy="59" rx="1.08" ry="1.2"/><ellipse cx="673" cy="64" rx="1.32" ry="1.2"/><ellipse cx="676" cy="70" rx="0.96" ry="0.96"/><ellipse cx="706" cy="73" rx="0.72" ry="0.84"/><ellipse cx="690" cy="96" rx="0.72" ry="0.72"/></g>
<text x="655.6" y="50.9" style="font-family:'Liberation Sans', sans-serif;font-size:9.3px;fill:#1ed21e">Cx43</text>
<text x="685.3" y="50.9" style="font-family:'Liberation Sans', sans-serif;font-size:9.3px;fill:#e81a1a">Lamin B1</text>
<rect x="545" y="118.5" width="73.3" height="75.5" fill="#000" stroke="none" stroke-width="1"/>
<path d="M600.5,155.7 C600.17,160.86 598.08,166.73 594.7,170.2 C591.31,173.66 585.07,176.46 580.2,176.5 C575.33,176.54 568.96,173.87 565.49,170.41 C562.03,166.94 559.11,160.31 559.4,155.7 C559.69,151.09 563.79,146.23 567.26,142.76 C570.73,139.29 575.3,135.49 580.2,134.9 C585.1,134.31 593.29,135.76 596.68,139.22 C600.06,142.69 600.83,150.54 600.5,155.7Z" fill="#0a12c0" filter="url(#b15)"/>
<path d="M599.7,155.7 C599.37,160.67 597.38,166.3 594.13,169.63 C590.88,172.96 584.88,175.66 580.2,175.7 C575.52,175.74 569.39,173.18 566.06,169.84 C562.72,166.51 559.91,160.12 560.2,155.7 C560.49,151.28 564.49,146.66 567.83,143.33 C571.16,139.99 575.49,136.29 580.2,135.7 C584.91,135.11 592.86,136.46 596.11,139.79 C599.36,143.12 600.03,150.73 599.7,155.7Z" fill="#0a14f2" filter="url(#b06)"/>
<text x="581.6" y="129.9" text-anchor="middle" style="font-family:'Liberation Sans', sans-serif;font-size:9.3px;fill:#1c6cc8">DAPI</text>
<rect x="620.6" y="118.5" width="73.6" height="75.5" fill="#000" stroke="none" stroke-width="1"/>
<path d="M676.06,157.5 C676.08,160.45 675.92,163.81 674.68,166.4 C673.44,168.99 670.92,171.23 668.59,173.04 C666.26,174.85 663.53,176.55 660.71,177.27 C657.89,177.98 654.42,178.12 651.68,177.32 C648.94,176.52 646.4,174.38 644.27,172.46 C642.14,170.55 640.46,168.33 638.89,165.84 C637.33,163.34 634.96,160.32 634.87,157.5 C634.78,154.68 636.82,151.45 638.35,148.9 C639.87,146.36 641.82,144.23 644.01,142.22 C646.2,140.2 648.71,137.51 651.48,136.82 C654.25,136.12 657.67,137.34 660.64,138.05 C663.61,138.76 666.98,139.31 669.3,141.08 C671.61,142.85 673.4,145.94 674.53,148.67 C675.66,151.41 676.03,154.55 676.06,157.5Z" fill="none" stroke="#0c5a0c" stroke-width="4.5" opacity="1.0" filter="url(#b2)"/>
<path d="M678.4,159 C678.16,164.09 675.13,170.17 671.57,173.57 C668,176.97 661.86,179.4 657,179.4 C652.14,179.4 646.08,176.97 642.43,173.57 C638.78,170.17 634.81,163.56 635.1,159 C635.39,154.44 640.55,149.5 644.2,146.2 C647.85,142.9 652.2,139.73 657,139.2 C661.8,138.67 669.41,139.72 672.98,143.02 C676.55,146.32 678.64,153.91 678.4,159Z" fill="#b01c90" filter="url(#b06)"/>
<path d="M676.8,159 C676.56,163.71 673.74,169.3 670.44,172.44 C667.14,175.57 661.48,177.8 657,177.8 C652.52,177.8 646.95,175.57 643.56,172.44 C640.18,169.3 636.41,163.18 636.7,159 C636.99,154.82 641.95,150.37 645.33,147.33 C648.72,144.3 652.58,141.33 657,140.8 C661.42,140.27 668.55,141.12 671.85,144.15 C675.15,147.18 677.04,154.29 676.8,159Z" fill="#0a14f0" filter="url(#b06)"/>
<g fill="#30d8f0" opacity="1.0" filter="url(#b06)"><ellipse cx="654.9" cy="150.3" rx="3" ry="1.9"/><ellipse cx="663.3" cy="148.7" rx="1.7" ry="1.9"/><ellipse cx="653.8" cy="157.2" rx="1.6" ry="1.8"/><ellipse cx="648" cy="166.1" rx="1.6" ry="1.8"/><ellipse cx="661.2" cy="165.6" rx="1.6" ry="1.7"/></g>
<g fill="#38e038" opacity="1.0" filter="url(#b06)"><ellipse cx="660.6" cy="135.6" rx="2.2" ry="2.6"/><ellipse cx="648.5" cy="140.8" rx="2.6" ry="2.2"/><ellipse cx="634.8" cy="153.5" rx="1.8" ry="2.2"/><ellipse cx="632.7" cy="147.2" rx="1.6" ry="1.8"/><ellipse cx="668.5" cy="172.4" rx="1.7" ry="1.6"/><ellipse cx="665.4" cy="137.7" rx="1.8" ry="2"/><ellipse cx="639.9" cy="142.7" rx="2.2" ry="2"/><ellipse cx="642.9" cy="148.7" rx="1.6" ry="1.6"/><ellipse cx="672.9" cy="151.7" rx="1.2" ry="1.4"/><ellipse cx="656.9" cy="174.7" rx="1.2" ry="1.2"/></g>
<text x="656.8" y="129.9" text-anchor="middle" style="font-family:'Liberation Sans', sans-serif;font-size:9.3px;fill:#e8e8e8">Merge</text>
<rect x="653.1" y="187.9" width="35" height="2.6" fill="#fff" stroke="none" stroke-width="1"/>
<text x="5" y="236.5" style="font-family:'Liberation Sans', sans-serif;font-size:20.5px;fill:#000;stroke:#000;stroke-width:0.25px;font-weight:bold">d</text>
<rect x="67" y="261.88" width="15.9" height="124.32" fill="#d6d6d6" stroke="#2e2e2e" stroke-width="1.2"/>
<rect x="86.2" y="364.94" width="14.6" height="21.26" fill="#fde0e0" stroke="#2e2e2e" stroke-width="1.2"/>
<rect x="103.4" y="280" width="15.9" height="106.2" fill="#94c2f8" stroke="#2e2e2e" stroke-width="1.2"/>
<line x1="75" y1="250.67" x2="75" y2="271.28" stroke="#1c1c1c" stroke-width="1.25"/>
<line x1="72" y1="250.67" x2="78" y2="250.67" stroke="#1c1c1c" stroke-width="1.25"/>
<line x1="72" y1="271.28" x2="78" y2="271.28" stroke="#1c1c1c" stroke-width="1.25"/>
<circle cx="70.5" cy="250.04" r="1.9" fill="none" stroke="#1c1c1c" stroke-width="1.15"/>
<circle cx="74.5" cy="247.54" r="1.9" fill="none" stroke="#1c1c1c" stroke-width="1.15"/>
<circle cx="79.5" cy="252.54" r="1.9" fill="none" stroke="#1c1c1c" stroke-width="1.15"/>
<circle cx="75" cy="263.78" r="1.9" fill="none" stroke="#1c1c1c" stroke-width="1.15"/>
<circle cx="71" cy="268.78" r="1.9" fill="none" stroke="#1c1c1c" stroke-width="1.15"/>
<circle cx="79" cy="271.28" r="1.9" fill="none" stroke="#1c1c1c" stroke-width="1.15"/>
<circle cx="75" cy="250.04" r="1.9" fill="none" stroke="#1c1c1c" stroke-width="1.15"/>
<line x1="93.5" y1="349.97" x2="93.5" y2="378.08" stroke="#b81c26" stroke-width="1.25"/>
<line x1="90.5" y1="349.97" x2="96.5" y2="349.97" stroke="#b81c26" stroke-width="1.25"/>
<line x1="90.5" y1="378.08" x2="96.5" y2="378.08" stroke="#b81c26" stroke-width="1.25"/>
<circle cx="93.5" cy="346.23" r="1.9" fill="none" stroke="#b81c26" stroke-width="1.15"/>
<circle cx="93.5" cy="352.47" r="1.9" fill="none" stroke="#b81c26" stroke-width="1.15"/>
<circle cx="93.5" cy="359.97" r="1.9" fill="none" stroke="#b81c26" stroke-width="1.15"/>
<circle cx="89" cy="369.34" r="1.9" fill="none" stroke="#b81c26" stroke-width="1.15"/>
<circle cx="97.5" cy="371.21" r="1.9" fill="none" stroke="#b81c26" stroke-width="1.15"/>
<circle cx="93.5" cy="382.45" r="1.9" fill="none" stroke="#b81c26" stroke-width="1.15"/>
<line x1="111.4" y1="258.16" x2="111.4" y2="300.01" stroke="#1a36f0" stroke-width="1.25"/>
<line x1="108.4" y1="258.16" x2="114.4" y2="258.16" stroke="#1a36f0" stroke-width="1.25"/>
<line x1="108.4" y1="300.01" x2="114.4" y2="300.01" stroke="#1a36f0" stroke-width="1.25"/>
<circle cx="111.4" cy="253.16" r="1.9" fill="none" stroke="#1a36f0" stroke-width="1.15"/>
<circle cx="107" cy="266.28" r="1.9" fill="none" stroke="#1a36f0" stroke-width="1.15"/>
<circle cx="115.5" cy="266.9" r="1.9" fill="none" stroke="#1a36f0" stroke-width="1.15"/>
<circle cx="111.4" cy="287.52" r="1.9" fill="none" stroke="#1a36f0" stroke-width="1.15"/>
<circle cx="111.4" cy="295.01" r="1.9" fill="none" stroke="#1a36f0" stroke-width="1.15"/>
<circle cx="111.4" cy="308.75" r="1.9" fill="none" stroke="#1a36f0" stroke-width="1.15"/>
<line x1="59.8" y1="236.3" x2="59.8" y2="386.2" stroke="#2e2e2e" stroke-width="1.2"/>
<line x1="55.4" y1="236.3" x2="59.8" y2="236.3" stroke="#2e2e2e" stroke-width="1.2"/>
<text x="52.7" y="240.09" text-anchor="end" style="font-family:'Liberation Sans', sans-serif;font-size:10.6px;fill:#1c1c1c;stroke:#1c1c1c;stroke-width:0.25px">1.2</text>
<line x1="55.4" y1="261.28" x2="59.8" y2="261.28" stroke="#2e2e2e" stroke-width="1.2"/>
<text x="52.7" y="265.08" text-anchor="end" style="font-family:'Liberation Sans', sans-serif;font-size:10.6px;fill:#1c1c1c;stroke:#1c1c1c;stroke-width:0.25px">1.0</text>
<line x1="55.4" y1="286.27" x2="59.8" y2="286.27" stroke="#2e2e2e" stroke-width="1.2"/>
<text x="52.7" y="290.06" text-anchor="end" style="font-family:'Liberation Sans', sans-serif;font-size:10.6px;fill:#1c1c1c;stroke:#1c1c1c;stroke-width:0.25px">0.8</text>
<line x1="55.4" y1="311.25" x2="59.8" y2="311.25" stroke="#2e2e2e" stroke-width="1.2"/>
<text x="52.7" y="315.04" text-anchor="end" style="font-family:'Liberation Sans', sans-serif;font-size:10.6px;fill:#1c1c1c;stroke:#1c1c1c;stroke-width:0.25px">0.6</text>
<line x1="55.4" y1="336.23" x2="59.8" y2="336.23" stroke="#2e2e2e" stroke-width="1.2"/>
<text x="52.7" y="340.03" text-anchor="end" style="font-family:'Liberation Sans', sans-serif;font-size:10.6px;fill:#1c1c1c;stroke:#1c1c1c;stroke-width:0.25px">0.4</text>
<line x1="55.4" y1="361.22" x2="59.8" y2="361.22" stroke="#2e2e2e" stroke-width="1.2"/>
<text x="52.7" y="365.01" text-anchor="end" style="font-family:'Liberation Sans', sans-serif;font-size:10.6px;fill:#1c1c1c;stroke:#1c1c1c;stroke-width:0.25px">0.2</text>
<line x1="55.4" y1="386.2" x2="59.8" y2="386.2" stroke="#2e2e2e" stroke-width="1.2"/>
<text x="52.7" y="389.99" text-anchor="end" style="font-family:'Liberation Sans', sans-serif;font-size:10.6px;fill:#1c1c1c;stroke:#1c1c1c;stroke-width:0.25px">0.0</text>
<line x1="59.8" y1="386.2" x2="126.5" y2="386.2" stroke="#2e2e2e" stroke-width="1.2"/>
<line x1="75.2" y1="386.2" x2="75.2" y2="393.3" stroke="#2e2e2e" stroke-width="1.2"/>
<line x1="93.1" y1="386.2" x2="93.1" y2="393.3" stroke="#2e2e2e" stroke-width="1.2"/>
<line x1="111.1" y1="386.2" x2="111.1" y2="393.3" stroke="#2e2e2e" stroke-width="1.2"/>
<polyline points="93.5,247.2 93.5,240.7 110.7,240.7 110.7,247.2" stroke="#2e2e2e" stroke-width="1.1" fill="none" stroke-linejoin="miter"/>
<text x="102.1" y="240.5" text-anchor="middle" style="font-family:'Liberation Sans', sans-serif;font-size:13px;fill:#1c1c1c;stroke:#1c1c1c;stroke-width:0.25px">***</text>
<text transform="translate(30,312.5) rotate(-90)" text-anchor="middle" style="font-family:'Liberation Sans', sans-serif;font-size:11.5px;fill:#1c1c1c;stroke:#1c1c1c;stroke-width:0.25px">Cx43/Lamin B1 or Nesprin3</text>
<text transform="translate(78.4,401) rotate(-45)" text-anchor="end" style="font-family:'Liberation Sans', sans-serif;font-size:11.6px;fill:#1c1c1c;stroke:#1c1c1c;stroke-width:0.25px">Nucleus</text>
<text transform="translate(96.3,401) rotate(-45)" text-anchor="end" style="font-family:'Liberation Sans', sans-serif;font-size:11.6px;fill:#1c1c1c;stroke:#1c1c1c;stroke-width:0.25px">Outer membrane</text>
<text transform="translate(112.8,401) rotate(-45)" text-anchor="end" style="font-family:'Liberation Sans', sans-serif;font-size:11.6px;fill:#1c1c1c;stroke:#1c1c1c;stroke-width:0.25px">Nucleoplast</text>
<text x="160" y="236.5" style="font-family:'Liberation Sans', sans-serif;font-size:20.5px;fill:#000;stroke:#000;stroke-width:0.25px;font-weight:bold">e</text>
<text transform="translate(225.6,334.2) rotate(-90)" style="font-family:'Liberation Sans', sans-serif;font-size:11.1px;fill:#1c1c1c;stroke:#1c1c1c;stroke-width:0.25px">Ad-NLS</text>
<text transform="translate(244.55,334.2) rotate(-90)" style="font-family:'Liberation Sans', sans-serif;font-size:11.1px;fill:#1c1c1c;stroke:#1c1c1c;stroke-width:0.25px">Ad-Cx43-NLS</text>
<text transform="translate(263.5,334.2) rotate(-90)" style="font-family:'Liberation Sans', sans-serif;font-size:11.1px;fill:#1c1c1c;stroke:#1c1c1c;stroke-width:0.25px">Ad-Cx43S368A-NLS</text>
<text transform="translate(282.45,334.2) rotate(-90)" style="font-family:'Liberation Sans', sans-serif;font-size:11.1px;fill:#1c1c1c;stroke:#1c1c1c;stroke-width:0.25px">Ad-NLS</text>
<text transform="translate(301.4,334.2) rotate(-90)" style="font-family:'Liberation Sans', sans-serif;font-size:11.1px;fill:#1c1c1c;stroke:#1c1c1c;stroke-width:0.25px">Ad-Cx43-NLS</text>
<text transform="translate(320.35,334.2) rotate(-90)" style="font-family:'Liberation Sans', sans-serif;font-size:11.1px;fill:#1c1c1c;stroke:#1c1c1c;stroke-width:0.25px">Ad-Cx43S368A-NLS</text>
<rect x="208.1" y="340.6" width="122.5" height="20.6" fill="#f1f1f1" stroke="#1e1e1e" stroke-width="1.3"/>
<text x="202.8" y="354.9" text-anchor="end" style="font-family:'Liberation Sans', sans-serif;font-size:11px;fill:#1c1c1c;stroke:#1c1c1c;stroke-width:0.25px">Flag</text>
<rect x="208.1" y="364.3" width="122.5" height="20.1" fill="#ececec" stroke="#1e1e1e" stroke-width="1.3"/>
<text x="202.8" y="378.35" text-anchor="end" style="font-family:'Liberation Sans', sans-serif;font-size:11px;fill:#1c1c1c;stroke:#1c1c1c;stroke-width:0.25px">Lamin B1</text>
<rect x="208.1" y="387.4" width="122.5" height="20.2" fill="#e6e6e6" stroke="#1e1e1e" stroke-width="1.3"/>
<text x="202.8" y="401.5" text-anchor="end" style="font-family:'Liberation Sans', sans-serif;font-size:11px;fill:#1c1c1c;stroke:#1c1c1c;stroke-width:0.25px">GAPDH</text>
<rect x="208.1" y="410.4" width="122.5" height="20.4" fill="#e8e8e8" stroke="#1e1e1e" stroke-width="1.3"/>
<text x="202.8" y="424.6" text-anchor="end" style="font-family:'Liberation Sans', sans-serif;font-size:11px;fill:#1c1c1c;stroke:#1c1c1c;stroke-width:0.25px">LAMP-1</text>
<rect x="287.2" y="349.6" width="15" height="3.4" rx="1.7" fill="#2a2a2a" opacity="1.0" filter="url(#bband)"/>
<rect x="306.1" y="349.6" width="15" height="3.4" rx="1.7" fill="#2a2a2a" opacity="1.0" filter="url(#bband)"/>
<rect x="267.25" y="374" width="16.5" height="3.6" rx="1.8" fill="#0e0e0e" opacity="1.0" filter="url(#bband)"/>
<rect x="286.25" y="374" width="16.5" height="3.6" rx="1.8" fill="#0e0e0e" opacity="1.0" filter="url(#bband)"/>
<rect x="305.35" y="374" width="16.5" height="3.6" rx="1.8" fill="#0e0e0e" opacity="1.0" filter="url(#bband)"/>
<rect x="214.55" y="398.6" width="16.5" height="3.6" rx="1.8" fill="#0a0a0a" opacity="1.0" filter="url(#bband)" transform="rotate(-3 222.8 400.4)"/>
<rect x="232.35" y="397.7" width="16.5" height="3.6" rx="1.8" fill="#0a0a0a" opacity="1.0" filter="url(#bband)" transform="rotate(-3 240.6 399.5)"/>
<rect x="249.95" y="396.6" width="16.5" height="3.6" rx="1.8" fill="#0a0a0a" opacity="1.0" filter="url(#bband)" transform="rotate(-3 258.2 398.4)"/>
<rect x="213.7" y="418.5" width="16" height="4.4" rx="2.2" fill="#050505" opacity="1.0" filter="url(#bband)"/>
<rect x="231.5" y="418.5" width="16" height="4.4" rx="2.2" fill="#050505" opacity="1.0" filter="url(#bband)"/>
<rect x="249.2" y="418.5" width="16" height="4.4" rx="2.2" fill="#050505" opacity="1.0" filter="url(#bband)"/>
<rect x="270.1" y="416.1" width="15" height="5" rx="2.5" fill="#9a9a9a" opacity="0.6" filter="url(#bband2)"/>
<rect x="288" y="416.1" width="15" height="5" rx="2.5" fill="#9a9a9a" opacity="0.6" filter="url(#bband2)"/>
<rect x="306" y="416.1" width="15" height="5" rx="2.5" fill="#9a9a9a" opacity="0.6" filter="url(#bband2)"/>
<line x1="333.5" y1="345.6" x2="342.2" y2="345.6" stroke="#1e1e1e" stroke-width="1.2"/>
<text x="344" y="349.7" style="font-family:'Liberation Sans', sans-serif;font-size:10.8px;fill:#1c1c1c;stroke:#1c1c1c;stroke-width:0.25px">55</text>
<line x1="333.5" y1="372.2" x2="342.2" y2="372.2" stroke="#1e1e1e" stroke-width="1.2"/>
<text x="344" y="376.3" style="font-family:'Liberation Sans', sans-serif;font-size:10.8px;fill:#1c1c1c;stroke:#1c1c1c;stroke-width:0.25px">72</text>
<line x1="333.5" y1="397.1" x2="342.2" y2="397.1" stroke="#1e1e1e" stroke-width="1.2"/>
<text x="344" y="401.2" style="font-family:'Liberation Sans', sans-serif;font-size:10.8px;fill:#1c1c1c;stroke:#1c1c1c;stroke-width:0.25px">34</text>
<line x1="333.5" y1="430.3" x2="342.2" y2="430.3" stroke="#1e1e1e" stroke-width="1.2"/>
<text x="344" y="434.4" style="font-family:'Liberation Sans', sans-serif;font-size:10.8px;fill:#1c1c1c;stroke:#1c1c1c;stroke-width:0.25px">95</text>
<line x1="213.6" y1="435.5" x2="265.3" y2="435.5" stroke="#777" stroke-width="0.9"/>
<line x1="274.2" y1="434.4" x2="330.5" y2="434.4" stroke="#777" stroke-width="0.9"/>
<text x="239.8" y="446.3" text-anchor="middle" style="font-family:'Liberation Sans', sans-serif;font-size:11.1px;fill:#1c1c1c;stroke:#1c1c1c;stroke-width:0.25px">Cytoplasmic</text>
<text x="302.5" y="446.3" text-anchor="middle" style="font-family:'Liberation Sans', sans-serif;font-size:11.1px;fill:#1c1c1c;stroke:#1c1c1c;stroke-width:0.25px">Nuclear</text>
<rect x="437.6" y="226.55" width="15.6" height="4.8" fill="#d6d6d6" stroke="#2e2e2e" stroke-width="1.1"/>
<text x="457.9" y="232.95" style="font-family:'Liberation Sans', sans-serif;font-size:10.8px;fill:#1c1c1c;stroke:#1c1c1c;stroke-width:0.25px">Vehicle</text>
<rect x="437.6" y="236.65" width="15.6" height="4.8" fill="#fde0e0" stroke="#2e2e2e" stroke-width="1.1"/>
<text x="457.9" y="243.05" style="font-family:'Liberation Sans', sans-serif;font-size:10.8px;fill:#1c1c1c;stroke:#1c1c1c;stroke-width:0.25px">Glucagon</text>
<rect x="436.8" y="400.35" width="12" height="6.15" fill="#d6d6d6" stroke="#2e2e2e" stroke-width="1.2"/>
<rect x="451" y="329.86" width="11.8" height="76.64" fill="#fde0e0" stroke="#2e2e2e" stroke-width="1.2"/>
<rect x="471.1" y="399.06" width="12" height="7.44" fill="#d6d6d6" stroke="#2e2e2e" stroke-width="1.2"/>
<rect x="484.9" y="311.85" width="12.3" height="94.65" fill="#fde0e0" stroke="#2e2e2e" stroke-width="1.2"/>
<rect x="505.7" y="401.31" width="11.8" height="5.19" fill="#d6d6d6" stroke="#2e2e2e" stroke-width="1.2"/>
<rect x="519.9" y="357.19" width="12" height="49.31" fill="#fde0e0" stroke="#2e2e2e" stroke-width="1.2"/>
<rect x="431.5" y="378.1" width="108" height="8.6" fill="#fff" stroke="none" stroke-width="1"/>
<line x1="456.9" y1="318.39" x2="456.9" y2="337.65" stroke="#b81c26" stroke-width="1.25"/>
<line x1="454.4" y1="318.39" x2="459.4" y2="318.39" stroke="#b81c26" stroke-width="1.25"/>
<line x1="454.4" y1="337.65" x2="459.4" y2="337.65" stroke="#b81c26" stroke-width="1.25"/>
<circle cx="456.9" cy="311.56" r="1.9" fill="none" stroke="#b81c26" stroke-width="1.15"/>
<circle cx="456.9" cy="315.91" r="1.9" fill="none" stroke="#b81c26" stroke-width="1.15"/>
<circle cx="456.9" cy="326.16" r="1.9" fill="none" stroke="#b81c26" stroke-width="1.15"/>
<circle cx="453" cy="331.44" r="1.9" fill="none" stroke="#b81c26" stroke-width="1.15"/>
<circle cx="460.8" cy="331.44" r="1.9" fill="none" stroke="#b81c26" stroke-width="1.15"/>
<circle cx="453.5" cy="335.47" r="1.9" fill="none" stroke="#b81c26" stroke-width="1.15"/>
<circle cx="461" cy="337.03" r="1.9" fill="none" stroke="#b81c26" stroke-width="1.15"/>
<circle cx="456.9" cy="337.65" r="1.9" fill="none" stroke="#b81c26" stroke-width="1.15"/>
<line x1="491" y1="298.51" x2="491" y2="323.98" stroke="#b81c26" stroke-width="1.25"/>
<line x1="488.5" y1="298.51" x2="493.5" y2="298.51" stroke="#b81c26" stroke-width="1.25"/>
<line x1="488.5" y1="323.98" x2="493.5" y2="323.98" stroke="#b81c26" stroke-width="1.25"/>
<circle cx="491" cy="288.27" r="1.9" fill="none" stroke="#b81c26" stroke-width="1.15"/>
<circle cx="491" cy="301" r="1.9" fill="none" stroke="#b81c26" stroke-width="1.15"/>
<circle cx="487" cy="308.14" r="1.9" fill="none" stroke="#b81c26" stroke-width="1.15"/>
<circle cx="495" cy="305.97" r="1.9" fill="none" stroke="#b81c26" stroke-width="1.15"/>
<circle cx="486" cy="314.35" r="1.9" fill="none" stroke="#b81c26" stroke-width="1.15"/>
<circle cx="495.5" cy="316.84" r="1.9" fill="none" stroke="#b81c26" stroke-width="1.15"/>
<circle cx="487.5" cy="322.12" r="1.9" fill="none" stroke="#b81c26" stroke-width="1.15"/>
<circle cx="494.5" cy="323.98" r="1.9" fill="none" stroke="#b81c26" stroke-width="1.15"/>
<line x1="525.9" y1="351.62" x2="525.9" y2="361.56" stroke="#b81c26" stroke-width="1.25"/>
<line x1="523.4" y1="351.62" x2="528.4" y2="351.62" stroke="#b81c26" stroke-width="1.25"/>
<line x1="523.4" y1="361.56" x2="528.4" y2="361.56" stroke="#b81c26" stroke-width="1.25"/>
<circle cx="523.5" cy="350.38" r="1.9" fill="none" stroke="#b81c26" stroke-width="1.15"/>
<circle cx="528.5" cy="350.38" r="1.9" fill="none" stroke="#b81c26" stroke-width="1.15"/>
<circle cx="525.9" cy="354.11" r="1.9" fill="none" stroke="#b81c26" stroke-width="1.15"/>
<circle cx="521" cy="356.28" r="1.9" fill="none" stroke="#b81c26" stroke-width="1.15"/>
<circle cx="530.5" cy="357.21" r="1.9" fill="none" stroke="#b81c26" stroke-width="1.15"/>
<circle cx="525.9" cy="359.39" r="1.9" fill="none" stroke="#b81c26" stroke-width="1.15"/>
<circle cx="525.9" cy="364.36" r="1.9" fill="none" stroke="#b81c26" stroke-width="1.15"/>
<line x1="442.8" y1="398.14" x2="442.8" y2="401.35" stroke="#1c1c1c" stroke-width="1.25"/>
<line x1="440.8" y1="398.14" x2="444.8" y2="398.14" stroke="#1c1c1c" stroke-width="1.25"/>
<line x1="440.8" y1="401.35" x2="444.8" y2="401.35" stroke="#1c1c1c" stroke-width="1.25"/>
<line x1="477.1" y1="396.53" x2="477.1" y2="399.75" stroke="#1c1c1c" stroke-width="1.25"/>
<line x1="475.1" y1="396.53" x2="479.1" y2="396.53" stroke="#1c1c1c" stroke-width="1.25"/>
<line x1="475.1" y1="399.75" x2="479.1" y2="399.75" stroke="#1c1c1c" stroke-width="1.25"/>
<line x1="511.6" y1="398.78" x2="511.6" y2="402" stroke="#1c1c1c" stroke-width="1.25"/>
<line x1="509.6" y1="398.78" x2="513.6" y2="398.78" stroke="#1c1c1c" stroke-width="1.25"/>
<line x1="509.6" y1="402" x2="513.6" y2="402" stroke="#1c1c1c" stroke-width="1.25"/>
<circle cx="438.5" cy="400.07" r="1.9" fill="none" stroke="#1c1c1c" stroke-width="1.15"/>
<circle cx="441" cy="399.75" r="1.9" fill="none" stroke="#1c1c1c" stroke-width="1.15"/>
<circle cx="443.5" cy="399.42" r="1.9" fill="none" stroke="#1c1c1c" stroke-width="1.15"/>
<circle cx="446" cy="398.78" r="1.9" fill="none" stroke="#1c1c1c" stroke-width="1.15"/>
<circle cx="448" cy="400.39" r="1.9" fill="none" stroke="#1c1c1c" stroke-width="1.15"/>
<circle cx="444.5" cy="400.71" r="1.9" fill="none" stroke="#1c1c1c" stroke-width="1.15"/>
<circle cx="473" cy="398.14" r="1.9" fill="none" stroke="#1c1c1c" stroke-width="1.15"/>
<circle cx="477" cy="394.28" r="1.9" fill="none" stroke="#1c1c1c" stroke-width="1.15"/>
<circle cx="480.5" cy="396.85" r="1.9" fill="none" stroke="#1c1c1c" stroke-width="1.15"/>
<circle cx="474.5" cy="400.39" r="1.9" fill="none" stroke="#1c1c1c" stroke-width="1.15"/>
<circle cx="478.5" cy="400.71" r="1.9" fill="none" stroke="#1c1c1c" stroke-width="1.15"/>
<circle cx="482" cy="400.07" r="1.9" fill="none" stroke="#1c1c1c" stroke-width="1.15"/>
<circle cx="476.5" cy="396.21" r="1.9" fill="none" stroke="#1c1c1c" stroke-width="1.15"/>
<circle cx="507.5" cy="400.71" r="1.9" fill="none" stroke="#1c1c1c" stroke-width="1.15"/>
<circle cx="510.5" cy="400.07" r="1.9" fill="none" stroke="#1c1c1c" stroke-width="1.15"/>
<circle cx="513" cy="397.49" r="1.9" fill="none" stroke="#1c1c1c" stroke-width="1.15"/>
<circle cx="515.5" cy="401.35" r="1.9" fill="none" stroke="#1c1c1c" stroke-width="1.15"/>
<circle cx="509.5" cy="402" r="1.9" fill="none" stroke="#1c1c1c" stroke-width="1.15"/>
<circle cx="516.5" cy="403.93" r="1.9" fill="none" stroke="#1c1c1c" stroke-width="1.15"/>
<line x1="430.5" y1="268.7" x2="430.5" y2="377.4" stroke="#2e2e2e" stroke-width="1.2"/>
<line x1="430.5" y1="387.2" x2="430.5" y2="406.5" stroke="#2e2e2e" stroke-width="1.2"/>
<line x1="426" y1="268.7" x2="430.5" y2="268.7" stroke="#2e2e2e" stroke-width="1.2"/>
<text x="424" y="272.5" text-anchor="end" style="font-family:'Liberation Sans', sans-serif;font-size:10.6px;fill:#1c1c1c;stroke:#1c1c1c;stroke-width:0.25px">400</text>
<line x1="426" y1="284.23" x2="430.5" y2="284.23" stroke="#2e2e2e" stroke-width="1.2"/>
<text x="424" y="288.03" text-anchor="end" style="font-family:'Liberation Sans', sans-serif;font-size:10.6px;fill:#1c1c1c;stroke:#1c1c1c;stroke-width:0.25px">350</text>
<line x1="426" y1="299.76" x2="430.5" y2="299.76" stroke="#2e2e2e" stroke-width="1.2"/>
<text x="424" y="303.56" text-anchor="end" style="font-family:'Liberation Sans', sans-serif;font-size:10.6px;fill:#1c1c1c;stroke:#1c1c1c;stroke-width:0.25px">300</text>
<line x1="426" y1="315.29" x2="430.5" y2="315.29" stroke="#2e2e2e" stroke-width="1.2"/>
<text x="424" y="319.09" text-anchor="end" style="font-family:'Liberation Sans', sans-serif;font-size:10.6px;fill:#1c1c1c;stroke:#1c1c1c;stroke-width:0.25px">250</text>
<line x1="426" y1="330.81" x2="430.5" y2="330.81" stroke="#2e2e2e" stroke-width="1.2"/>
<text x="424" y="334.61" text-anchor="end" style="font-family:'Liberation Sans', sans-serif;font-size:10.6px;fill:#1c1c1c;stroke:#1c1c1c;stroke-width:0.25px">200</text>
<line x1="426" y1="346.34" x2="430.5" y2="346.34" stroke="#2e2e2e" stroke-width="1.2"/>
<text x="424" y="350.14" text-anchor="end" style="font-family:'Liberation Sans', sans-serif;font-size:10.6px;fill:#1c1c1c;stroke:#1c1c1c;stroke-width:0.25px">150</text>
<line x1="426" y1="361.87" x2="430.5" y2="361.87" stroke="#2e2e2e" stroke-width="1.2"/>
<text x="424" y="365.67" text-anchor="end" style="font-family:'Liberation Sans', sans-serif;font-size:10.6px;fill:#1c1c1c;stroke:#1c1c1c;stroke-width:0.25px">100</text>
<line x1="426" y1="377.4" x2="434.5" y2="377.4" stroke="#2e2e2e" stroke-width="1.2"/>
<text x="424" y="381.2" text-anchor="end" style="font-family:'Liberation Sans', sans-serif;font-size:10.6px;fill:#1c1c1c;stroke:#1c1c1c;stroke-width:0.25px">50</text>
<line x1="426" y1="387.2" x2="434.5" y2="387.2" stroke="#2e2e2e" stroke-width="1.2"/>
<text x="424" y="391" text-anchor="end" style="font-family:'Liberation Sans', sans-serif;font-size:10.6px;fill:#1c1c1c;stroke:#1c1c1c;stroke-width:0.25px">3.0</text>
<line x1="426" y1="396.85" x2="430.5" y2="396.85" stroke="#2e2e2e" stroke-width="1.2"/>
<text x="424" y="400.65" text-anchor="end" style="font-family:'Liberation Sans', sans-serif;font-size:10.6px;fill:#1c1c1c;stroke:#1c1c1c;stroke-width:0.25px">1.5</text>
<line x1="426" y1="406.5" x2="430.5" y2="406.5" stroke="#2e2e2e" stroke-width="1.2"/>
<text x="424" y="410.3" text-anchor="end" style="font-family:'Liberation Sans', sans-serif;font-size:10.6px;fill:#1c1c1c;stroke:#1c1c1c;stroke-width:0.25px">0.0</text>
<line x1="430.5" y1="406.5" x2="539" y2="406.5" stroke="#2e2e2e" stroke-width="1.2"/>
<line x1="449.8" y1="406.5" x2="449.8" y2="412.6" stroke="#2e2e2e" stroke-width="1.2"/>
<line x1="484.3" y1="406.5" x2="484.3" y2="412.6" stroke="#2e2e2e" stroke-width="1.2"/>
<line x1="518.3" y1="406.5" x2="518.3" y2="412.6" stroke="#2e2e2e" stroke-width="1.2"/>
<text transform="translate(402,337.5) rotate(-90)" text-anchor="middle" style="font-family:'Liberation Sans', sans-serif;font-size:10.6px;fill:#1c1c1c;stroke:#1c1c1c;stroke-width:0.25px">G6pc mRNA level</text>
<text transform="translate(452.6,419.5) rotate(-40)" text-anchor="end" style="font-family:'Liberation Sans', sans-serif;font-size:10.9px;fill:#1c1c1c;stroke:#1c1c1c;stroke-width:0.25px">Ad-NLS</text>
<text transform="translate(487.6,419.5) rotate(-40)" text-anchor="end" style="font-family:'Liberation Sans', sans-serif;font-size:10.9px;fill:#1c1c1c;stroke:#1c1c1c;stroke-width:0.25px">Ad-Cx43-NLS</text>
<text transform="translate(517.2,419.5) rotate(-40)" text-anchor="end" style="font-family:'Liberation Sans', sans-serif;font-size:10.9px;fill:#1c1c1c;stroke:#1c1c1c;stroke-width:0.25px">Ad-Cx43S368A</text>
<text transform="translate(509,447) rotate(-40)" text-anchor="end" style="font-family:'Liberation Sans', sans-serif;font-size:10.9px;fill:#1c1c1c;stroke:#1c1c1c;stroke-width:0.25px">-NLS</text>
<polyline points="455.9,265 455.9,257.5 525.4,257.5 525.4,265" stroke="#2e2e2e" stroke-width="1.1" fill="none" stroke-linejoin="miter"/>
<text x="490.65" y="257.3" text-anchor="middle" style="font-family:'Liberation Sans', sans-serif;font-size:12px;fill:#1c1c1c;stroke:#1c1c1c;stroke-width:0.25px">***</text>
<polyline points="455.9,274.3 455.9,268.2 489.7,268.2 489.7,274.3" stroke="#2e2e2e" stroke-width="1.1" fill="none" stroke-linejoin="miter"/>
<text x="472.8" y="268" text-anchor="middle" style="font-family:'Liberation Sans', sans-serif;font-size:12px;fill:#1c1c1c;stroke:#1c1c1c;stroke-width:0.25px">**</text>
<polyline points="491.8,274.3 491.8,268.2 525.4,268.2 525.4,274.3" stroke="#2e2e2e" stroke-width="1.1" fill="none" stroke-linejoin="miter"/>
<text x="508.6" y="268" text-anchor="middle" style="font-family:'Liberation Sans', sans-serif;font-size:12px;fill:#1c1c1c;stroke:#1c1c1c;stroke-width:0.25px">***</text>
<polyline points="476.8,285.3 476.8,279.4 489.7,279.4 489.7,285.3" stroke="#2e2e2e" stroke-width="1.1" fill="none" stroke-linejoin="miter"/>
<text x="483.25" y="279.2" text-anchor="middle" style="font-family:'Liberation Sans', sans-serif;font-size:12px;fill:#1c1c1c;stroke:#1c1c1c;stroke-width:0.25px">***</text>
<polyline points="443.7,307.2 443.7,301.1 457.5,301.1 457.5,307.2" stroke="#2e2e2e" stroke-width="1.1" fill="none" stroke-linejoin="miter"/>
<text x="450.6" y="300.9" text-anchor="middle" style="font-family:'Liberation Sans', sans-serif;font-size:12px;fill:#1c1c1c;stroke:#1c1c1c;stroke-width:0.25px">***</text>
<polyline points="512.2,346.2 512.2,341.2 526.2,341.2 526.2,346.2" stroke="#2e2e2e" stroke-width="1.1" fill="none" stroke-linejoin="miter"/>
<text x="519.2" y="341" text-anchor="middle" style="font-family:'Liberation Sans', sans-serif;font-size:12px;fill:#1c1c1c;stroke:#1c1c1c;stroke-width:0.25px">***</text>
<rect x="615.2" y="227.05" width="15.6" height="4.8" fill="#d6d6d6" stroke="#2e2e2e" stroke-width="1.1"/>
<text x="635.9" y="233.45" style="font-family:'Liberation Sans', sans-serif;font-size:10.8px;fill:#1c1c1c;stroke:#1c1c1c;stroke-width:0.25px">Vehicle</text>
<rect x="615.2" y="237.35" width="15.6" height="4.8" fill="#fde0e0" stroke="#2e2e2e" stroke-width="1.1"/>
<text x="635.9" y="243.75" style="font-family:'Liberation Sans', sans-serif;font-size:10.8px;fill:#1c1c1c;stroke:#1c1c1c;stroke-width:0.25px">Glucagon</text>
<rect x="614.2" y="396.6" width="12" height="8.8" fill="#d6d6d6" stroke="#2e2e2e" stroke-width="1.2"/>
<rect x="629.4" y="327.61" width="12" height="77.79" fill="#fde0e0" stroke="#2e2e2e" stroke-width="1.2"/>
<rect x="649.1" y="395.19" width="11.9" height="10.21" fill="#d6d6d6" stroke="#2e2e2e" stroke-width="1.2"/>
<rect x="663.9" y="304.19" width="12.3" height="101.21" fill="#fde0e0" stroke="#2e2e2e" stroke-width="1.2"/>
<rect x="684.1" y="398.01" width="12" height="7.39" fill="#d6d6d6" stroke="#2e2e2e" stroke-width="1.2"/>
<rect x="698.7" y="361.17" width="12" height="44.23" fill="#fde0e0" stroke="#2e2e2e" stroke-width="1.2"/>
<rect x="608.5" y="377.1" width="110" height="8.9" fill="#fff" stroke="none" stroke-width="1"/>
<line x1="635.4" y1="315.62" x2="635.4" y2="337.78" stroke="#b81c26" stroke-width="1.25"/>
<line x1="632.9" y1="315.62" x2="637.9" y2="315.62" stroke="#b81c26" stroke-width="1.25"/>
<line x1="632.9" y1="337.78" x2="637.9" y2="337.78" stroke="#b81c26" stroke-width="1.25"/>
<circle cx="632" cy="309.29" r="1.9" fill="none" stroke="#b81c26" stroke-width="1.15"/>
<circle cx="638.5" cy="313.09" r="1.9" fill="none" stroke="#b81c26" stroke-width="1.15"/>
<circle cx="635.4" cy="320.05" r="1.9" fill="none" stroke="#b81c26" stroke-width="1.15"/>
<circle cx="635.4" cy="327.33" r="1.9" fill="none" stroke="#b81c26" stroke-width="1.15"/>
<circle cx="631.5" cy="332.08" r="1.9" fill="none" stroke="#b81c26" stroke-width="1.15"/>
<circle cx="639.5" cy="332.71" r="1.9" fill="none" stroke="#b81c26" stroke-width="1.15"/>
<circle cx="633" cy="337.78" r="1.9" fill="none" stroke="#b81c26" stroke-width="1.15"/>
<circle cx="638" cy="338.41" r="1.9" fill="none" stroke="#b81c26" stroke-width="1.15"/>
<line x1="670" y1="294.72" x2="670" y2="312.14" stroke="#b81c26" stroke-width="1.25"/>
<line x1="667.5" y1="294.72" x2="672.5" y2="294.72" stroke="#b81c26" stroke-width="1.25"/>
<line x1="667.5" y1="312.14" x2="672.5" y2="312.14" stroke="#b81c26" stroke-width="1.25"/>
<circle cx="670" cy="286.81" r="1.9" fill="none" stroke="#b81c26" stroke-width="1.15"/>
<circle cx="670" cy="297.26" r="1.9" fill="none" stroke="#b81c26" stroke-width="1.15"/>
<circle cx="666" cy="302.64" r="1.9" fill="none" stroke="#b81c26" stroke-width="1.15"/>
<circle cx="673.5" cy="302.96" r="1.9" fill="none" stroke="#b81c26" stroke-width="1.15"/>
<circle cx="667" cy="307.39" r="1.9" fill="none" stroke="#b81c26" stroke-width="1.15"/>
<circle cx="674" cy="308.34" r="1.9" fill="none" stroke="#b81c26" stroke-width="1.15"/>
<circle cx="670" cy="310.87" r="1.9" fill="none" stroke="#b81c26" stroke-width="1.15"/>
<circle cx="670" cy="313.09" r="1.9" fill="none" stroke="#b81c26" stroke-width="1.15"/>
<line x1="704.7" y1="350.44" x2="704.7" y2="370.7" stroke="#b81c26" stroke-width="1.25"/>
<line x1="702.2" y1="350.44" x2="707.2" y2="350.44" stroke="#b81c26" stroke-width="1.25"/>
<line x1="702.2" y1="370.7" x2="707.2" y2="370.7" stroke="#b81c26" stroke-width="1.25"/>
<circle cx="701.5" cy="347.28" r="1.9" fill="none" stroke="#b81c26" stroke-width="1.15"/>
<circle cx="707.5" cy="348.86" r="1.9" fill="none" stroke="#b81c26" stroke-width="1.15"/>
<circle cx="704.7" cy="352.66" r="1.9" fill="none" stroke="#b81c26" stroke-width="1.15"/>
<circle cx="701" cy="358.36" r="1.9" fill="none" stroke="#b81c26" stroke-width="1.15"/>
<circle cx="708.5" cy="359.62" r="1.9" fill="none" stroke="#b81c26" stroke-width="1.15"/>
<circle cx="704.7" cy="363.74" r="1.9" fill="none" stroke="#b81c26" stroke-width="1.15"/>
<circle cx="704.7" cy="370.7" r="1.9" fill="none" stroke="#b81c26" stroke-width="1.15"/>
<circle cx="704.7" cy="374.82" r="1.9" fill="none" stroke="#b81c26" stroke-width="1.15"/>
<line x1="620.2" y1="393.65" x2="620.2" y2="397.41" stroke="#1c1c1c" stroke-width="1.25"/>
<line x1="618.2" y1="393.65" x2="622.2" y2="393.65" stroke="#1c1c1c" stroke-width="1.25"/>
<line x1="618.2" y1="397.41" x2="622.2" y2="397.41" stroke="#1c1c1c" stroke-width="1.25"/>
<line x1="655" y1="392.24" x2="655" y2="396" stroke="#1c1c1c" stroke-width="1.25"/>
<line x1="653" y1="392.24" x2="657" y2="392.24" stroke="#1c1c1c" stroke-width="1.25"/>
<line x1="653" y1="396" x2="657" y2="396" stroke="#1c1c1c" stroke-width="1.25"/>
<line x1="690.1" y1="395.06" x2="690.1" y2="398.82" stroke="#1c1c1c" stroke-width="1.25"/>
<line x1="688.1" y1="395.06" x2="692.1" y2="395.06" stroke="#1c1c1c" stroke-width="1.25"/>
<line x1="688.1" y1="398.82" x2="692.1" y2="398.82" stroke="#1c1c1c" stroke-width="1.25"/>
<circle cx="616.5" cy="396" r="1.9" fill="none" stroke="#1c1c1c" stroke-width="1.15"/>
<circle cx="619" cy="395.53" r="1.9" fill="none" stroke="#1c1c1c" stroke-width="1.15"/>
<circle cx="622" cy="395.06" r="1.9" fill="none" stroke="#1c1c1c" stroke-width="1.15"/>
<circle cx="624.5" cy="393.65" r="1.9" fill="none" stroke="#1c1c1c" stroke-width="1.15"/>
<circle cx="626" cy="396.47" r="1.9" fill="none" stroke="#1c1c1c" stroke-width="1.15"/>
<circle cx="621" cy="396.94" r="1.9" fill="none" stroke="#1c1c1c" stroke-width="1.15"/>
<circle cx="651" cy="395.06" r="1.9" fill="none" stroke="#1c1c1c" stroke-width="1.15"/>
<circle cx="654" cy="394.12" r="1.9" fill="none" stroke="#1c1c1c" stroke-width="1.15"/>
<circle cx="657.5" cy="393.18" r="1.9" fill="none" stroke="#1c1c1c" stroke-width="1.15"/>
<circle cx="659.5" cy="395.06" r="1.9" fill="none" stroke="#1c1c1c" stroke-width="1.15"/>
<circle cx="653" cy="396" r="1.9" fill="none" stroke="#1c1c1c" stroke-width="1.15"/>
<circle cx="658" cy="396" r="1.9" fill="none" stroke="#1c1c1c" stroke-width="1.15"/>
<circle cx="686" cy="396.94" r="1.9" fill="none" stroke="#1c1c1c" stroke-width="1.15"/>
<circle cx="689" cy="396" r="1.9" fill="none" stroke="#1c1c1c" stroke-width="1.15"/>
<circle cx="691.5" cy="393.18" r="1.9" fill="none" stroke="#1c1c1c" stroke-width="1.15"/>
<circle cx="694" cy="397.88" r="1.9" fill="none" stroke="#1c1c1c" stroke-width="1.15"/>
<circle cx="688" cy="399.76" r="1.9" fill="none" stroke="#1c1c1c" stroke-width="1.15"/>
<circle cx="695" cy="400.7" r="1.9" fill="none" stroke="#1c1c1c" stroke-width="1.15"/>
<line x1="607.5" y1="265.6" x2="607.5" y2="376.4" stroke="#2e2e2e" stroke-width="1.2"/>
<line x1="607.5" y1="386.6" x2="607.5" y2="405.4" stroke="#2e2e2e" stroke-width="1.2"/>
<line x1="603" y1="265.6" x2="607.5" y2="265.6" stroke="#2e2e2e" stroke-width="1.2"/>
<text x="601" y="269.4" text-anchor="end" style="font-family:'Liberation Sans', sans-serif;font-size:10.6px;fill:#1c1c1c;stroke:#1c1c1c;stroke-width:0.25px">400</text>
<line x1="603" y1="281.43" x2="607.5" y2="281.43" stroke="#2e2e2e" stroke-width="1.2"/>
<text x="601" y="285.23" text-anchor="end" style="font-family:'Liberation Sans', sans-serif;font-size:10.6px;fill:#1c1c1c;stroke:#1c1c1c;stroke-width:0.25px">350</text>
<line x1="603" y1="297.26" x2="607.5" y2="297.26" stroke="#2e2e2e" stroke-width="1.2"/>
<text x="601" y="301.06" text-anchor="end" style="font-family:'Liberation Sans', sans-serif;font-size:10.6px;fill:#1c1c1c;stroke:#1c1c1c;stroke-width:0.25px">300</text>
<line x1="603" y1="313.09" x2="607.5" y2="313.09" stroke="#2e2e2e" stroke-width="1.2"/>
<text x="601" y="316.89" text-anchor="end" style="font-family:'Liberation Sans', sans-serif;font-size:10.6px;fill:#1c1c1c;stroke:#1c1c1c;stroke-width:0.25px">250</text>
<line x1="603" y1="328.91" x2="607.5" y2="328.91" stroke="#2e2e2e" stroke-width="1.2"/>
<text x="601" y="332.71" text-anchor="end" style="font-family:'Liberation Sans', sans-serif;font-size:10.6px;fill:#1c1c1c;stroke:#1c1c1c;stroke-width:0.25px">200</text>
<line x1="603" y1="344.74" x2="607.5" y2="344.74" stroke="#2e2e2e" stroke-width="1.2"/>
<text x="601" y="348.54" text-anchor="end" style="font-family:'Liberation Sans', sans-serif;font-size:10.6px;fill:#1c1c1c;stroke:#1c1c1c;stroke-width:0.25px">150</text>
<line x1="603" y1="360.57" x2="607.5" y2="360.57" stroke="#2e2e2e" stroke-width="1.2"/>
<text x="601" y="364.37" text-anchor="end" style="font-family:'Liberation Sans', sans-serif;font-size:10.6px;fill:#1c1c1c;stroke:#1c1c1c;stroke-width:0.25px">100</text>
<line x1="603" y1="376.4" x2="611.5" y2="376.4" stroke="#2e2e2e" stroke-width="1.2"/>
<text x="601" y="380.2" text-anchor="end" style="font-family:'Liberation Sans', sans-serif;font-size:10.6px;fill:#1c1c1c;stroke:#1c1c1c;stroke-width:0.25px">50</text>
<line x1="603" y1="386.6" x2="611.5" y2="386.6" stroke="#2e2e2e" stroke-width="1.2"/>
<text x="601" y="390.4" text-anchor="end" style="font-family:'Liberation Sans', sans-serif;font-size:10.6px;fill:#1c1c1c;stroke:#1c1c1c;stroke-width:0.25px">2</text>
<line x1="603" y1="396" x2="607.5" y2="396" stroke="#2e2e2e" stroke-width="1.2"/>
<text x="601" y="399.8" text-anchor="end" style="font-family:'Liberation Sans', sans-serif;font-size:10.6px;fill:#1c1c1c;stroke:#1c1c1c;stroke-width:0.25px">1</text>
<line x1="603" y1="405.4" x2="607.5" y2="405.4" stroke="#2e2e2e" stroke-width="1.2"/>
<text x="601" y="409.2" text-anchor="end" style="font-family:'Liberation Sans', sans-serif;font-size:10.6px;fill:#1c1c1c;stroke:#1c1c1c;stroke-width:0.25px">0</text>
<line x1="607.5" y1="405.4" x2="717" y2="405.4" stroke="#2e2e2e" stroke-width="1.2"/>
<line x1="627.8" y1="405.4" x2="627.8" y2="411.5" stroke="#2e2e2e" stroke-width="1.2"/>
<line x1="662.8" y1="405.4" x2="662.8" y2="411.5" stroke="#2e2e2e" stroke-width="1.2"/>
<line x1="697.3" y1="405.4" x2="697.3" y2="411.5" stroke="#2e2e2e" stroke-width="1.2"/>
<text transform="translate(580.2,336) rotate(-90)" text-anchor="middle" style="font-family:'Liberation Sans', sans-serif;font-size:10.6px;fill:#1c1c1c;stroke:#1c1c1c;stroke-width:0.25px">Pck1 mRNA level</text>
<text transform="translate(631,418.5) rotate(-40)" text-anchor="end" style="font-family:'Liberation Sans', sans-serif;font-size:10.9px;fill:#1c1c1c;stroke:#1c1c1c;stroke-width:0.25px">Ad-NLS</text>
<text transform="translate(665.5,418.5) rotate(-40)" text-anchor="end" style="font-family:'Liberation Sans', sans-serif;font-size:10.9px;fill:#1c1c1c;stroke:#1c1c1c;stroke-width:0.25px">Ad-Cx43-NLS</text>
<text transform="translate(695.5,418) rotate(-40)" text-anchor="end" style="font-family:'Liberation Sans', sans-serif;font-size:10.9px;fill:#1c1c1c;stroke:#1c1c1c;stroke-width:0.25px">Ad-Cx43S368A</text>
<text transform="translate(687,446) rotate(-40)" text-anchor="end" style="font-family:'Liberation Sans', sans-serif;font-size:10.9px;fill:#1c1c1c;stroke:#1c1c1c;stroke-width:0.25px">-NLS</text>
<polyline points="634.5,263.6 634.5,257.1 703.4,257.1 703.4,263.6" stroke="#2e2e2e" stroke-width="1.1" fill="none" stroke-linejoin="miter"/>
<text x="668.95" y="256.9" text-anchor="middle" style="font-family:'Liberation Sans', sans-serif;font-size:12px;fill:#1c1c1c;stroke:#1c1c1c;stroke-width:0.25px">***</text>
<polyline points="634.5,273.1 634.5,267.2 665.9,267.2 665.9,273.1" stroke="#2e2e2e" stroke-width="1.1" fill="none" stroke-linejoin="miter"/>
<text x="650.2" y="267" text-anchor="middle" style="font-family:'Liberation Sans', sans-serif;font-size:12px;fill:#1c1c1c;stroke:#1c1c1c;stroke-width:0.25px">***</text>
<polyline points="669.3,273.1 669.3,267.2 703.4,267.2 703.4,273.1" stroke="#2e2e2e" stroke-width="1.1" fill="none" stroke-linejoin="miter"/>
<text x="686.35" y="267" text-anchor="middle" style="font-family:'Liberation Sans', sans-serif;font-size:12px;fill:#1c1c1c;stroke:#1c1c1c;stroke-width:0.25px">***</text>
<polyline points="654.1,285.3 654.1,278.8 668.7,278.8 668.7,285.3" stroke="#2e2e2e" stroke-width="1.1" fill="none" stroke-linejoin="miter"/>
<text x="661.4" y="278.6" text-anchor="middle" style="font-family:'Liberation Sans', sans-serif;font-size:12px;fill:#1c1c1c;stroke:#1c1c1c;stroke-width:0.25px">***</text>
<polyline points="621.7,305.1 621.7,299.5 635.9,299.5 635.9,305.1" stroke="#2e2e2e" stroke-width="1.1" fill="none" stroke-linejoin="miter"/>
<text x="628.8" y="299.3" text-anchor="middle" style="font-family:'Liberation Sans', sans-serif;font-size:12px;fill:#1c1c1c;stroke:#1c1c1c;stroke-width:0.25px">***</text>
<polyline points="690.6,343 690.6,338.1 704.2,338.1 704.2,343" stroke="#2e2e2e" stroke-width="1.1" fill="none" stroke-linejoin="miter"/>
<text x="697.4" y="337.9" text-anchor="middle" style="font-family:'Liberation Sans', sans-serif;font-size:12px;fill:#1c1c1c;stroke:#1c1c1c;stroke-width:0.25px">***</text>
<text x="5.5" y="490.8" style="font-family:'Liberation Sans', sans-serif;font-size:21px;fill:#000;stroke:#000;stroke-width:0.25px;font-weight:bold">f</text>
<rect x="52.2" y="565.49" width="15" height="79.51" fill="#d6d6d6" stroke="#2e2e2e" stroke-width="1.2"/>
<rect x="69.5" y="545.42" width="14.4" height="99.58" fill="#94c2f8" stroke="#2e2e2e" stroke-width="1.2"/>
<rect x="86.9" y="594.47" width="14.3" height="50.53" fill="#f9a0a0" stroke="#2e2e2e" stroke-width="1.2"/>
<line x1="59.7" y1="550.69" x2="59.7" y2="578.72" stroke="#1c1c1c" stroke-width="1.25"/>
<line x1="56.7" y1="550.69" x2="62.7" y2="550.69" stroke="#1c1c1c" stroke-width="1.25"/>
<line x1="56.7" y1="578.72" x2="62.7" y2="578.72" stroke="#1c1c1c" stroke-width="1.25"/>
<circle cx="59.7" cy="544.63" r="1.9" fill="none" stroke="#1c1c1c" stroke-width="1.15"/>
<circle cx="54.5" cy="552.21" r="1.9" fill="none" stroke="#1c1c1c" stroke-width="1.15"/>
<circle cx="58" cy="554.1" r="1.9" fill="none" stroke="#1c1c1c" stroke-width="1.15"/>
<circle cx="64.5" cy="555.05" r="1.9" fill="none" stroke="#1c1c1c" stroke-width="1.15"/>
<circle cx="57.5" cy="557.89" r="1.9" fill="none" stroke="#1c1c1c" stroke-width="1.15"/>
<circle cx="61.5" cy="560.73" r="1.9" fill="none" stroke="#1c1c1c" stroke-width="1.15"/>
<circle cx="63.5" cy="572.09" r="1.9" fill="none" stroke="#1c1c1c" stroke-width="1.15"/>
<circle cx="55.5" cy="572.09" r="1.9" fill="none" stroke="#1c1c1c" stroke-width="1.15"/>
<circle cx="57.5" cy="576.83" r="1.9" fill="none" stroke="#1c1c1c" stroke-width="1.15"/>
<circle cx="61" cy="578.72" r="1.9" fill="none" stroke="#1c1c1c" stroke-width="1.15"/>
<circle cx="59.7" cy="584.4" r="1.9" fill="none" stroke="#1c1c1c" stroke-width="1.15"/>
<line x1="76.8" y1="524.75" x2="76.8" y2="564.52" stroke="#1a36f0" stroke-width="1.25"/>
<line x1="73.8" y1="524.75" x2="79.8" y2="524.75" stroke="#1a36f0" stroke-width="1.25"/>
<line x1="73.8" y1="564.52" x2="79.8" y2="564.52" stroke="#1a36f0" stroke-width="1.25"/>
<circle cx="76.8" cy="508.65" r="1.9" fill="none" stroke="#1a36f0" stroke-width="1.15"/>
<circle cx="76.8" cy="521.91" r="1.9" fill="none" stroke="#1a36f0" stroke-width="1.15"/>
<circle cx="76.8" cy="527.59" r="1.9" fill="none" stroke="#1a36f0" stroke-width="1.15"/>
<circle cx="76.8" cy="540.84" r="1.9" fill="none" stroke="#1a36f0" stroke-width="1.15"/>
<circle cx="81" cy="546.52" r="1.9" fill="none" stroke="#1a36f0" stroke-width="1.15"/>
<circle cx="73" cy="550.31" r="1.9" fill="none" stroke="#1a36f0" stroke-width="1.15"/>
<circle cx="73" cy="554.1" r="1.9" fill="none" stroke="#1a36f0" stroke-width="1.15"/>
<circle cx="81" cy="557.89" r="1.9" fill="none" stroke="#1a36f0" stroke-width="1.15"/>
<circle cx="76.8" cy="565.46" r="1.9" fill="none" stroke="#1a36f0" stroke-width="1.15"/>
<circle cx="76.8" cy="571.14" r="1.9" fill="none" stroke="#1a36f0" stroke-width="1.15"/>
<line x1="94" y1="576.26" x2="94" y2="608.07" stroke="#b81c26" stroke-width="1.25"/>
<line x1="91" y1="576.26" x2="97" y2="576.26" stroke="#b81c26" stroke-width="1.25"/>
<line x1="91" y1="608.07" x2="97" y2="608.07" stroke="#b81c26" stroke-width="1.25"/>
<circle cx="94" cy="567.36" r="1.9" fill="none" stroke="#b81c26" stroke-width="1.15"/>
<circle cx="94" cy="573.04" r="1.9" fill="none" stroke="#b81c26" stroke-width="1.15"/>
<circle cx="94" cy="582.51" r="1.9" fill="none" stroke="#b81c26" stroke-width="1.15"/>
<circle cx="94" cy="588.19" r="1.9" fill="none" stroke="#b81c26" stroke-width="1.15"/>
<circle cx="98" cy="591.98" r="1.9" fill="none" stroke="#b81c26" stroke-width="1.15"/>
<circle cx="90" cy="593.87" r="1.9" fill="none" stroke="#b81c26" stroke-width="1.15"/>
<circle cx="94" cy="603.34" r="1.9" fill="none" stroke="#b81c26" stroke-width="1.15"/>
<circle cx="90" cy="607.12" r="1.9" fill="none" stroke="#b81c26" stroke-width="1.15"/>
<circle cx="98" cy="607.12" r="1.9" fill="none" stroke="#b81c26" stroke-width="1.15"/>
<circle cx="94" cy="620.38" r="1.9" fill="none" stroke="#b81c26" stroke-width="1.15"/>
<line x1="43.4" y1="493.5" x2="43.4" y2="645" stroke="#2e2e2e" stroke-width="1.2"/>
<line x1="38.7" y1="493.5" x2="43.4" y2="493.5" stroke="#2e2e2e" stroke-width="1.2"/>
<text x="36.4" y="497.33" text-anchor="end" style="font-family:'Liberation Sans', sans-serif;font-size:10.7px;fill:#1c1c1c;stroke:#1c1c1c;stroke-width:0.25px">130</text>
<line x1="38.7" y1="512.44" x2="43.4" y2="512.44" stroke="#2e2e2e" stroke-width="1.2"/>
<text x="36.4" y="516.27" text-anchor="end" style="font-family:'Liberation Sans', sans-serif;font-size:10.7px;fill:#1c1c1c;stroke:#1c1c1c;stroke-width:0.25px">120</text>
<line x1="38.7" y1="531.38" x2="43.4" y2="531.38" stroke="#2e2e2e" stroke-width="1.2"/>
<text x="36.4" y="535.21" text-anchor="end" style="font-family:'Liberation Sans', sans-serif;font-size:10.7px;fill:#1c1c1c;stroke:#1c1c1c;stroke-width:0.25px">110</text>
<line x1="38.7" y1="550.31" x2="43.4" y2="550.31" stroke="#2e2e2e" stroke-width="1.2"/>
<text x="36.4" y="554.14" text-anchor="end" style="font-family:'Liberation Sans', sans-serif;font-size:10.7px;fill:#1c1c1c;stroke:#1c1c1c;stroke-width:0.25px">100</text>
<line x1="38.7" y1="569.25" x2="43.4" y2="569.25" stroke="#2e2e2e" stroke-width="1.2"/>
<text x="36.4" y="573.08" text-anchor="end" style="font-family:'Liberation Sans', sans-serif;font-size:10.7px;fill:#1c1c1c;stroke:#1c1c1c;stroke-width:0.25px">90</text>
<line x1="38.7" y1="588.19" x2="43.4" y2="588.19" stroke="#2e2e2e" stroke-width="1.2"/>
<text x="36.4" y="592.02" text-anchor="end" style="font-family:'Liberation Sans', sans-serif;font-size:10.7px;fill:#1c1c1c;stroke:#1c1c1c;stroke-width:0.25px">80</text>
<line x1="38.7" y1="607.12" x2="43.4" y2="607.12" stroke="#2e2e2e" stroke-width="1.2"/>
<text x="36.4" y="610.96" text-anchor="end" style="font-family:'Liberation Sans', sans-serif;font-size:10.7px;fill:#1c1c1c;stroke:#1c1c1c;stroke-width:0.25px">70</text>
<line x1="38.7" y1="626.06" x2="43.4" y2="626.06" stroke="#2e2e2e" stroke-width="1.2"/>
<text x="36.4" y="629.89" text-anchor="end" style="font-family:'Liberation Sans', sans-serif;font-size:10.7px;fill:#1c1c1c;stroke:#1c1c1c;stroke-width:0.25px">60</text>
<line x1="38.7" y1="645" x2="43.4" y2="645" stroke="#2e2e2e" stroke-width="1.2"/>
<text x="36.4" y="648.83" text-anchor="end" style="font-family:'Liberation Sans', sans-serif;font-size:10.7px;fill:#1c1c1c;stroke:#1c1c1c;stroke-width:0.25px">50</text>
<line x1="43.4" y1="645" x2="111" y2="645" stroke="#2e2e2e" stroke-width="1.2"/>
<line x1="59.7" y1="645" x2="59.7" y2="651.6" stroke="#2e2e2e" stroke-width="1.2"/>
<line x1="76.5" y1="645" x2="76.5" y2="651.6" stroke="#2e2e2e" stroke-width="1.2"/>
<line x1="93.7" y1="645" x2="93.7" y2="651.6" stroke="#2e2e2e" stroke-width="1.2"/>
<text transform="translate(15.8,570.5) rotate(-90)" text-anchor="middle" style="font-family:'Liberation Sans', sans-serif;font-size:11.6px;fill:#1c1c1c;stroke:#1c1c1c;stroke-width:0.25px">Blood glucose (mg/dl)</text>
<polyline points="57.2,488.6 57.2,483.1 94.7,483.1 94.7,488.6" stroke="#2e2e2e" stroke-width="1.1" fill="none" stroke-linejoin="miter"/>
<text x="75.95" y="482.9" text-anchor="middle" style="font-family:'Liberation Sans', sans-serif;font-size:13px;fill:#1c1c1c;stroke:#1c1c1c;stroke-width:0.25px">***</text>
<polyline points="57.2,504.2 57.2,498.2 74.3,498.2 74.3,504.2" stroke="#2e2e2e" stroke-width="1.1" fill="none" stroke-linejoin="miter"/>
<text x="65.75" y="498" text-anchor="middle" style="font-family:'Liberation Sans', sans-serif;font-size:13px;fill:#1c1c1c;stroke:#1c1c1c;stroke-width:0.25px">*</text>
<polyline points="78.3,504.2 78.3,498.2 95.1,498.2 95.1,504.2" stroke="#2e2e2e" stroke-width="1.1" fill="none" stroke-linejoin="miter"/>
<text x="86.7" y="498" text-anchor="middle" style="font-family:'Liberation Sans', sans-serif;font-size:13px;fill:#1c1c1c;stroke:#1c1c1c;stroke-width:0.25px">***</text>
<text transform="translate(62.8,660) rotate(-45)" text-anchor="end" style="font-family:'Liberation Sans', sans-serif;font-size:11.5px;fill:#1c1c1c;stroke:#1c1c1c;stroke-width:0.25px">Ad-NLS</text>
<text transform="translate(79.2,659.6) rotate(-45)" text-anchor="end" style="font-family:'Liberation Sans', sans-serif;font-size:11.7px;fill:#1c1c1c;stroke:#1c1c1c;stroke-width:0.25px">Ad-Cx43-NLS</text>
<text transform="translate(92.3,661.5) rotate(-45)" text-anchor="end" style="font-family:'Liberation Sans', sans-serif;font-size:11.8px;fill:#1c1c1c;stroke:#1c1c1c;stroke-width:0.25px">Ad-Cx43S368A</text>
<text transform="translate(104,672.5) rotate(-45)" text-anchor="end" style="font-family:'Liberation Sans', sans-serif;font-size:11.7px;fill:#1c1c1c;stroke:#1c1c1c;stroke-width:0.25px">-NLS</text>
<text x="120.5" y="491" style="font-family:'Liberation Sans', sans-serif;font-size:21px;fill:#000;stroke:#000;stroke-width:0.25px;font-weight:bold">g</text>
<polyline points="159.6,608.6 176.68,565.75 193.75,530.29 210.83,534.49 227.91,553.07 262.06,576.33 296.22,595.3" stroke="#8c8c8c" stroke-width="0.9" fill="none" stroke-linejoin="miter"/>
<line x1="159.6" y1="603.16" x2="159.6" y2="614.05" stroke="#333" stroke-width="1.1"/>
<line x1="157.6" y1="603.16" x2="161.6" y2="603.16" stroke="#333" stroke-width="1.1"/>
<line x1="157.6" y1="614.05" x2="161.6" y2="614.05" stroke="#333" stroke-width="1.1"/>
<line x1="176.68" y1="560.31" x2="176.68" y2="571.19" stroke="#333" stroke-width="1.1"/>
<line x1="174.68" y1="560.31" x2="178.68" y2="560.31" stroke="#333" stroke-width="1.1"/>
<line x1="174.68" y1="571.19" x2="178.68" y2="571.19" stroke="#333" stroke-width="1.1"/>
<line x1="193.75" y1="524.07" x2="193.75" y2="536.51" stroke="#333" stroke-width="1.1"/>
<line x1="191.75" y1="524.07" x2="195.75" y2="524.07" stroke="#333" stroke-width="1.1"/>
<line x1="191.75" y1="536.51" x2="195.75" y2="536.51" stroke="#333" stroke-width="1.1"/>
<line x1="210.83" y1="526.71" x2="210.83" y2="542.26" stroke="#333" stroke-width="1.1"/>
<line x1="208.83" y1="526.71" x2="212.83" y2="526.71" stroke="#333" stroke-width="1.1"/>
<line x1="208.83" y1="542.26" x2="212.83" y2="542.26" stroke="#333" stroke-width="1.1"/>
<line x1="227.91" y1="543.74" x2="227.91" y2="562.41" stroke="#333" stroke-width="1.1"/>
<line x1="225.91" y1="543.74" x2="229.91" y2="543.74" stroke="#333" stroke-width="1.1"/>
<line x1="225.91" y1="562.41" x2="229.91" y2="562.41" stroke="#333" stroke-width="1.1"/>
<line x1="262.06" y1="566.99" x2="262.06" y2="585.66" stroke="#333" stroke-width="1.1"/>
<line x1="260.06" y1="566.99" x2="264.06" y2="566.99" stroke="#333" stroke-width="1.1"/>
<line x1="260.06" y1="585.66" x2="264.06" y2="585.66" stroke="#333" stroke-width="1.1"/>
<line x1="296.22" y1="585.19" x2="296.22" y2="605.41" stroke="#333" stroke-width="1.1"/>
<line x1="294.22" y1="585.19" x2="298.22" y2="585.19" stroke="#333" stroke-width="1.1"/>
<line x1="294.22" y1="605.41" x2="298.22" y2="605.41" stroke="#333" stroke-width="1.1"/>
<circle cx="159.6" cy="608.6" r="1.85" fill="none" stroke="#333" stroke-width="1.3"/>
<circle cx="176.68" cy="565.75" r="1.85" fill="none" stroke="#333" stroke-width="1.3"/>
<circle cx="193.75" cy="530.29" r="1.85" fill="none" stroke="#333" stroke-width="1.3"/>
<circle cx="210.83" cy="534.49" r="1.85" fill="none" stroke="#333" stroke-width="1.3"/>
<circle cx="227.91" cy="553.07" r="1.85" fill="none" stroke="#333" stroke-width="1.3"/>
<circle cx="262.06" cy="576.33" r="1.85" fill="none" stroke="#333" stroke-width="1.3"/>
<circle cx="296.22" cy="595.3" r="1.85" fill="none" stroke="#333" stroke-width="1.3"/>
<polyline points="159.6,601.21 176.68,551.6 193.75,528.73 210.83,521.27 227.91,541.64 262.06,562.02 296.22,583.17" stroke="#1515ff" stroke-width="1.4" fill="none" stroke-linejoin="miter"/>
<line x1="159.6" y1="596.55" x2="159.6" y2="605.88" stroke="#1515ff" stroke-width="1.4"/>
<line x1="157.6" y1="596.55" x2="161.6" y2="596.55" stroke="#1515ff" stroke-width="1.4"/>
<line x1="157.6" y1="605.88" x2="161.6" y2="605.88" stroke="#1515ff" stroke-width="1.4"/>
<line x1="176.68" y1="544.6" x2="176.68" y2="558.6" stroke="#1515ff" stroke-width="1.4"/>
<line x1="174.68" y1="544.6" x2="178.68" y2="544.6" stroke="#1515ff" stroke-width="1.4"/>
<line x1="174.68" y1="558.6" x2="178.68" y2="558.6" stroke="#1515ff" stroke-width="1.4"/>
<line x1="193.75" y1="520.95" x2="193.75" y2="536.51" stroke="#1515ff" stroke-width="1.4"/>
<line x1="191.75" y1="520.95" x2="195.75" y2="520.95" stroke="#1515ff" stroke-width="1.4"/>
<line x1="191.75" y1="536.51" x2="195.75" y2="536.51" stroke="#1515ff" stroke-width="1.4"/>
<line x1="210.83" y1="514.27" x2="210.83" y2="528.26" stroke="#1515ff" stroke-width="1.4"/>
<line x1="208.83" y1="514.27" x2="212.83" y2="514.27" stroke="#1515ff" stroke-width="1.4"/>
<line x1="208.83" y1="528.26" x2="212.83" y2="528.26" stroke="#1515ff" stroke-width="1.4"/>
<line x1="227.91" y1="535.42" x2="227.91" y2="547.86" stroke="#1515ff" stroke-width="1.4"/>
<line x1="225.91" y1="535.42" x2="229.91" y2="535.42" stroke="#1515ff" stroke-width="1.4"/>
<line x1="225.91" y1="547.86" x2="229.91" y2="547.86" stroke="#1515ff" stroke-width="1.4"/>
<line x1="262.06" y1="555.02" x2="262.06" y2="569.02" stroke="#1515ff" stroke-width="1.4"/>
<line x1="260.06" y1="555.02" x2="264.06" y2="555.02" stroke="#1515ff" stroke-width="1.4"/>
<line x1="260.06" y1="569.02" x2="264.06" y2="569.02" stroke="#1515ff" stroke-width="1.4"/>
<line x1="296.22" y1="575.39" x2="296.22" y2="590.95" stroke="#1515ff" stroke-width="1.4"/>
<line x1="294.22" y1="575.39" x2="298.22" y2="575.39" stroke="#1515ff" stroke-width="1.4"/>
<line x1="294.22" y1="590.95" x2="298.22" y2="590.95" stroke="#1515ff" stroke-width="1.4"/>
<circle cx="159.6" cy="601.21" r="1.85" fill="none" stroke="#1515ff" stroke-width="1.3"/>
<circle cx="176.68" cy="551.6" r="1.85" fill="none" stroke="#1515ff" stroke-width="1.3"/>
<circle cx="193.75" cy="528.73" r="1.85" fill="none" stroke="#1515ff" stroke-width="1.3"/>
<circle cx="210.83" cy="521.27" r="1.85" fill="none" stroke="#1515ff" stroke-width="1.3"/>
<circle cx="227.91" cy="541.64" r="1.85" fill="none" stroke="#1515ff" stroke-width="1.3"/>
<circle cx="262.06" cy="562.02" r="1.85" fill="none" stroke="#1515ff" stroke-width="1.3"/>
<circle cx="296.22" cy="583.17" r="1.85" fill="none" stroke="#1515ff" stroke-width="1.3"/>
<polyline points="159.6,621.05 176.68,583.17 193.75,552.3 210.83,559.84 227.91,578.74 262.06,599.89 296.22,611.32" stroke="#b5232a" stroke-width="1.4" fill="none" stroke-linejoin="miter"/>
<line x1="159.6" y1="614.82" x2="159.6" y2="627.27" stroke="#b5232a" stroke-width="1.4"/>
<line x1="157.6" y1="614.82" x2="161.6" y2="614.82" stroke="#b5232a" stroke-width="1.4"/>
<line x1="157.6" y1="627.27" x2="161.6" y2="627.27" stroke="#b5232a" stroke-width="1.4"/>
<line x1="176.68" y1="576.95" x2="176.68" y2="589.39" stroke="#b5232a" stroke-width="1.4"/>
<line x1="174.68" y1="576.95" x2="178.68" y2="576.95" stroke="#b5232a" stroke-width="1.4"/>
<line x1="174.68" y1="589.39" x2="178.68" y2="589.39" stroke="#b5232a" stroke-width="1.4"/>
<line x1="193.75" y1="547.63" x2="193.75" y2="556.96" stroke="#b5232a" stroke-width="1.4"/>
<line x1="191.75" y1="547.63" x2="195.75" y2="547.63" stroke="#b5232a" stroke-width="1.4"/>
<line x1="191.75" y1="556.96" x2="195.75" y2="556.96" stroke="#b5232a" stroke-width="1.4"/>
<line x1="210.83" y1="554.4" x2="210.83" y2="565.28" stroke="#b5232a" stroke-width="1.4"/>
<line x1="208.83" y1="554.4" x2="212.83" y2="554.4" stroke="#b5232a" stroke-width="1.4"/>
<line x1="208.83" y1="565.28" x2="212.83" y2="565.28" stroke="#b5232a" stroke-width="1.4"/>
<line x1="227.91" y1="574.07" x2="227.91" y2="583.4" stroke="#b5232a" stroke-width="1.4"/>
<line x1="225.91" y1="574.07" x2="229.91" y2="574.07" stroke="#b5232a" stroke-width="1.4"/>
<line x1="225.91" y1="583.4" x2="229.91" y2="583.4" stroke="#b5232a" stroke-width="1.4"/>
<line x1="262.06" y1="590.56" x2="262.06" y2="609.22" stroke="#b5232a" stroke-width="1.4"/>
<line x1="260.06" y1="590.56" x2="264.06" y2="590.56" stroke="#b5232a" stroke-width="1.4"/>
<line x1="260.06" y1="609.22" x2="264.06" y2="609.22" stroke="#b5232a" stroke-width="1.4"/>
<line x1="296.22" y1="602.77" x2="296.22" y2="619.88" stroke="#b5232a" stroke-width="1.4"/>
<line x1="294.22" y1="602.77" x2="298.22" y2="602.77" stroke="#b5232a" stroke-width="1.4"/>
<line x1="294.22" y1="619.88" x2="298.22" y2="619.88" stroke="#b5232a" stroke-width="1.4"/>
<circle cx="159.6" cy="621.05" r="1.85" fill="none" stroke="#b5232a" stroke-width="1.3"/>
<circle cx="176.68" cy="583.17" r="1.85" fill="none" stroke="#b5232a" stroke-width="1.3"/>
<circle cx="193.75" cy="552.3" r="1.85" fill="none" stroke="#b5232a" stroke-width="1.3"/>
<circle cx="210.83" cy="559.84" r="1.85" fill="none" stroke="#b5232a" stroke-width="1.3"/>
<circle cx="227.91" cy="578.74" r="1.85" fill="none" stroke="#b5232a" stroke-width="1.3"/>
<circle cx="262.06" cy="599.89" r="1.85" fill="none" stroke="#b5232a" stroke-width="1.3"/>
<circle cx="296.22" cy="611.32" r="1.85" fill="none" stroke="#b5232a" stroke-width="1.3"/>
<line x1="159.8" y1="505.4" x2="159.8" y2="641.5" stroke="#2e2e2e" stroke-width="1.2"/>
<line x1="155.1" y1="505.4" x2="159.8" y2="505.4" stroke="#2e2e2e" stroke-width="1.2"/>
<text x="152.6" y="509.19" text-anchor="end" style="font-family:'Liberation Sans', sans-serif;font-size:10.6px;fill:#1c1c1c;stroke:#1c1c1c;stroke-width:0.25px">225</text>
<line x1="155.1" y1="524.84" x2="159.8" y2="524.84" stroke="#2e2e2e" stroke-width="1.2"/>
<text x="152.6" y="528.64" text-anchor="end" style="font-family:'Liberation Sans', sans-serif;font-size:10.6px;fill:#1c1c1c;stroke:#1c1c1c;stroke-width:0.25px">200</text>
<line x1="155.1" y1="544.29" x2="159.8" y2="544.29" stroke="#2e2e2e" stroke-width="1.2"/>
<text x="152.6" y="548.08" text-anchor="end" style="font-family:'Liberation Sans', sans-serif;font-size:10.6px;fill:#1c1c1c;stroke:#1c1c1c;stroke-width:0.25px">175</text>
<line x1="155.1" y1="563.73" x2="159.8" y2="563.73" stroke="#2e2e2e" stroke-width="1.2"/>
<text x="152.6" y="567.52" text-anchor="end" style="font-family:'Liberation Sans', sans-serif;font-size:10.6px;fill:#1c1c1c;stroke:#1c1c1c;stroke-width:0.25px">150</text>
<line x1="155.1" y1="583.17" x2="159.8" y2="583.17" stroke="#2e2e2e" stroke-width="1.2"/>
<text x="152.6" y="586.97" text-anchor="end" style="font-family:'Liberation Sans', sans-serif;font-size:10.6px;fill:#1c1c1c;stroke:#1c1c1c;stroke-width:0.25px">125</text>
<line x1="155.1" y1="602.61" x2="159.8" y2="602.61" stroke="#2e2e2e" stroke-width="1.2"/>
<text x="152.6" y="606.41" text-anchor="end" style="font-family:'Liberation Sans', sans-serif;font-size:10.6px;fill:#1c1c1c;stroke:#1c1c1c;stroke-width:0.25px">100</text>
<line x1="155.1" y1="622.06" x2="159.8" y2="622.06" stroke="#2e2e2e" stroke-width="1.2"/>
<text x="152.6" y="625.85" text-anchor="end" style="font-family:'Liberation Sans', sans-serif;font-size:10.6px;fill:#1c1c1c;stroke:#1c1c1c;stroke-width:0.25px">75</text>
<line x1="155.1" y1="641.5" x2="159.8" y2="641.5" stroke="#2e2e2e" stroke-width="1.2"/>
<text x="152.6" y="645.29" text-anchor="end" style="font-family:'Liberation Sans', sans-serif;font-size:10.6px;fill:#1c1c1c;stroke:#1c1c1c;stroke-width:0.25px">50</text>
<line x1="159.8" y1="641.5" x2="296.5" y2="641.5" stroke="#2e2e2e" stroke-width="1.2"/>
<line x1="159.6" y1="641.5" x2="159.6" y2="645.8" stroke="#2e2e2e" stroke-width="1.2"/>
<text x="159.6" y="659.6" text-anchor="middle" style="font-family:'Liberation Sans', sans-serif;font-size:10.6px;fill:#1c1c1c;stroke:#1c1c1c;stroke-width:0.25px">0</text>
<line x1="182.37" y1="641.5" x2="182.37" y2="645.8" stroke="#2e2e2e" stroke-width="1.2"/>
<text x="182.37" y="659.6" text-anchor="middle" style="font-family:'Liberation Sans', sans-serif;font-size:10.6px;fill:#1c1c1c;stroke:#1c1c1c;stroke-width:0.25px">20</text>
<line x1="205.14" y1="641.5" x2="205.14" y2="645.8" stroke="#2e2e2e" stroke-width="1.2"/>
<text x="205.14" y="659.6" text-anchor="middle" style="font-family:'Liberation Sans', sans-serif;font-size:10.6px;fill:#1c1c1c;stroke:#1c1c1c;stroke-width:0.25px">40</text>
<line x1="227.91" y1="641.5" x2="227.91" y2="645.8" stroke="#2e2e2e" stroke-width="1.2"/>
<text x="227.91" y="659.6" text-anchor="middle" style="font-family:'Liberation Sans', sans-serif;font-size:10.6px;fill:#1c1c1c;stroke:#1c1c1c;stroke-width:0.25px">60</text>
<line x1="250.68" y1="641.5" x2="250.68" y2="645.8" stroke="#2e2e2e" stroke-width="1.2"/>
<text x="250.68" y="659.6" text-anchor="middle" style="font-family:'Liberation Sans', sans-serif;font-size:10.6px;fill:#1c1c1c;stroke:#1c1c1c;stroke-width:0.25px">80</text>
<line x1="273.45" y1="641.5" x2="273.45" y2="645.8" stroke="#2e2e2e" stroke-width="1.2"/>
<text x="273.45" y="659.6" text-anchor="middle" style="font-family:'Liberation Sans', sans-serif;font-size:10.6px;fill:#1c1c1c;stroke:#1c1c1c;stroke-width:0.25px">100</text>
<line x1="296.22" y1="641.5" x2="296.22" y2="645.8" stroke="#2e2e2e" stroke-width="1.2"/>
<text x="296.22" y="659.6" text-anchor="middle" style="font-family:'Liberation Sans', sans-serif;font-size:10.6px;fill:#1c1c1c;stroke:#1c1c1c;stroke-width:0.25px">120</text>
<text x="228.7" y="678" text-anchor="middle" style="font-family:'Liberation Sans', sans-serif;font-size:10.8px;fill:#1c1c1c;stroke:#1c1c1c;stroke-width:0.25px">Time (min)</text>
<text transform="translate(129.3,573.5) rotate(-90)" text-anchor="middle" style="font-family:'Liberation Sans', sans-serif;font-size:10.8px;fill:#1c1c1c;stroke:#1c1c1c;stroke-width:0.25px">Blood glucose (mg/dl)</text>
<line x1="176" y1="609.5" x2="192.8" y2="609.5" stroke="#8c8c8c" stroke-width="0.9"/>
<circle cx="184.4" cy="609.5" r="1.6" fill="#fff" stroke="#8c8c8c" stroke-width="1.1"/>
<text x="201.6" y="613.2" style="font-family:'Liberation Sans', sans-serif;font-size:10.5px;fill:#1c1c1c;stroke:#1c1c1c;stroke-width:0.25px">Ad-NLS</text>
<line x1="176" y1="622.1" x2="192.8" y2="622.1" stroke="#1515ff" stroke-width="1.4"/>
<circle cx="184.4" cy="622.1" r="1.6" fill="#fff" stroke="#1515ff" stroke-width="1.1"/>
<text x="201.6" y="625.8" style="font-family:'Liberation Sans', sans-serif;font-size:10.5px;fill:#1c1c1c;stroke:#1c1c1c;stroke-width:0.25px">Ad-Cx43-NLS</text>
<line x1="176" y1="634.3" x2="192.8" y2="634.3" stroke="#b5232a" stroke-width="1.4"/>
<circle cx="184.4" cy="634.3" r="1.6" fill="#fff" stroke="#b5232a" stroke-width="1.1"/>
<text x="201.6" y="638" style="font-family:'Liberation Sans', sans-serif;font-size:10.5px;fill:#1c1c1c;stroke:#1c1c1c;stroke-width:0.25px">Ad-Cx43S368A-NLS</text>
<text x="160" y="595" text-anchor="middle" style="font-family:'Liberation Sans', sans-serif;font-size:10.5px;fill:#1c1c1c;stroke:#1c1c1c;stroke-width:0.25px">#</text>
<text x="160" y="637" text-anchor="middle" style="font-family:'Liberation Sans', sans-serif;font-size:10.5px;fill:#1c1c1c;stroke:#1c1c1c;stroke-width:0.25px">##</text>
<text x="175.7" y="544" text-anchor="middle" style="font-family:'Liberation Sans', sans-serif;font-size:10.5px;fill:#1c1c1c;stroke:#1c1c1c;stroke-width:0.25px">#</text>
<text x="177.6" y="600" text-anchor="middle" style="font-family:'Liberation Sans', sans-serif;font-size:10.5px;fill:#1c1c1c;stroke:#1c1c1c;stroke-width:0.25px">##</text>
<text x="194.6" y="567.5" text-anchor="middle" style="font-family:'Liberation Sans', sans-serif;font-size:10.5px;fill:#1c1c1c;stroke:#1c1c1c;stroke-width:0.25px">##</text>
<text x="210.5" y="512" text-anchor="middle" style="font-family:'Liberation Sans', sans-serif;font-size:10.5px;fill:#1c1c1c;stroke:#1c1c1c;stroke-width:0.25px">#</text>
<text x="211.4" y="575.7" text-anchor="middle" style="font-family:'Liberation Sans', sans-serif;font-size:10.5px;fill:#1c1c1c;stroke:#1c1c1c;stroke-width:0.25px">##</text>
<text x="228.9" y="532.4" text-anchor="middle" style="font-family:'Liberation Sans', sans-serif;font-size:10.5px;fill:#1c1c1c;stroke:#1c1c1c;stroke-width:0.25px">#</text>
<text x="228.4" y="592.4" text-anchor="middle" style="font-family:'Liberation Sans', sans-serif;font-size:10.5px;fill:#1c1c1c;stroke:#1c1c1c;stroke-width:0.25px">##</text>
<text x="262.2" y="553" text-anchor="middle" style="font-family:'Liberation Sans', sans-serif;font-size:10.5px;fill:#1c1c1c;stroke:#1c1c1c;stroke-width:0.25px">#</text>
<text x="262.2" y="616.7" text-anchor="middle" style="font-family:'Liberation Sans', sans-serif;font-size:10.5px;fill:#1c1c1c;stroke:#1c1c1c;stroke-width:0.25px">##</text>
<text x="296.5" y="570.8" text-anchor="middle" style="font-family:'Liberation Sans', sans-serif;font-size:10.5px;fill:#1c1c1c;stroke:#1c1c1c;stroke-width:0.25px">#</text>
<text x="296.5" y="627.5" text-anchor="middle" style="font-family:'Liberation Sans', sans-serif;font-size:10.5px;fill:#1c1c1c;stroke:#1c1c1c;stroke-width:0.25px">##</text>
<text x="311" y="491.4" style="font-family:'Liberation Sans', sans-serif;font-size:21px;fill:#000;stroke:#000;stroke-width:0.25px;font-weight:bold">h</text>
<text x="432.8" y="492.3" text-anchor="middle" style="font-family:'Liberation Sans', sans-serif;font-size:11.25px;fill:#1c1c1c;stroke:#1c1c1c;stroke-width:0.25px">Nucleoplast</text>
<text x="432.5" y="505.5" text-anchor="middle" style="font-family:'Liberation Sans', sans-serif;font-size:11.25px;fill:#1c1c1c;stroke:#1c1c1c;stroke-width:0.25px">(outer membrane removed nuclei)</text>
<rect x="316.5" y="510.9" width="73.5" height="77.1" fill="#000" stroke="none" stroke-width="1"/>
<path d="M368.08,552.5 C368.2,554.75 368.16,557.29 367.34,559.4 C366.51,561.52 364.92,563.7 363.14,565.21 C361.36,566.73 358.94,568.01 356.65,568.51 C354.37,569 351.74,568.69 349.42,568.17 C347.1,567.65 344.55,566.82 342.73,565.37 C340.92,563.92 339.4,561.61 338.53,559.47 C337.66,557.32 337.43,554.8 337.48,552.5 C337.54,550.2 337.92,547.75 338.87,545.7 C339.82,543.64 341.41,541.62 343.18,540.19 C344.95,538.75 347.25,537.7 349.49,537.1 C351.73,536.51 354.35,536.18 356.62,536.63 C358.89,537.09 361.43,538.29 363.1,539.84 C364.77,541.39 365.8,543.82 366.64,545.93 C367.47,548.04 367.97,550.25 368.08,552.5Z" fill="none" stroke="#0a4a0a" stroke-width="3" opacity="0.8" filter="url(#b15)"/>
<g fill="#18a818" opacity="1.0" filter="url(#b15)"><ellipse cx="339.5" cy="545.5" rx="3.2" ry="6.5"/><ellipse cx="338" cy="556.5" rx="2.4" ry="3"/><ellipse cx="367.5" cy="546" rx="2.6" ry="4"/><ellipse cx="360.6" cy="537" rx="2.6" ry="2"/><ellipse cx="350" cy="535.8" rx="2.6" ry="1.6"/><ellipse cx="337.8" cy="559.6" rx="2.2" ry="2.2"/><ellipse cx="342.3" cy="562.7" rx="2.2" ry="2.2"/><ellipse cx="345.9" cy="565.7" rx="2" ry="2"/><ellipse cx="348.9" cy="568.8" rx="2" ry="2"/><ellipse cx="354" cy="567.8" rx="1.8" ry="1.8"/><ellipse cx="365" cy="541" rx="2" ry="2"/></g>
<g fill="#38f038" opacity="1.0" filter="url(#b1)"><ellipse cx="339.5" cy="545.5" rx="2" ry="4.8"/><ellipse cx="367.5" cy="546.5" rx="1.6" ry="2.8"/><ellipse cx="360.6" cy="537" rx="1.5" ry="1.2"/><ellipse cx="342.3" cy="562.7" rx="1.3" ry="1.3"/><ellipse cx="338" cy="558.5" rx="1.3" ry="1.3"/></g>
<text x="353.5" y="521" text-anchor="middle" style="font-family:'Liberation Sans', sans-serif;font-size:9.3px;fill:#1ed21e">PKC<tspan style="font-family:'Liberation Serif', serif">δ</tspan></text>
<rect x="391.9" y="510.9" width="73.9" height="77.1" fill="#000" stroke="none" stroke-width="1"/>
<path d="M445.7,551.8 C445.91,554.19 445.16,557.01 444.11,559.27 C443.06,561.52 441.37,563.95 439.38,565.32 C437.39,566.69 434.6,566.98 432.18,567.48 C429.75,567.98 427.14,568.77 424.83,568.31 C422.52,567.85 420.16,566.27 418.3,564.71 C416.45,563.15 414.63,561.12 413.71,558.97 C412.8,556.82 412.72,554.15 412.81,551.8 C412.89,549.45 413.3,547.03 414.22,544.87 C415.13,542.72 416.49,540.36 418.28,538.86 C420.07,537.37 422.63,536.46 424.97,535.9 C427.31,535.34 430.06,534.93 432.32,535.51 C434.57,536.1 436.73,537.84 438.48,539.41 C440.23,540.98 441.62,542.88 442.83,544.95 C444.03,547.01 445.48,549.41 445.7,551.8Z" fill="none" stroke="#900c0c" stroke-width="4.2" opacity="0.75" filter="url(#b1)"/>
<path d="M445.7,551.8 C445.91,554.19 445.16,557.01 444.11,559.27 C443.06,561.52 441.37,563.95 439.38,565.32 C437.39,566.69 434.6,566.98 432.18,567.48 C429.75,567.98 427.14,568.77 424.83,568.31 C422.52,567.85 420.16,566.27 418.3,564.71 C416.45,563.15 414.63,561.12 413.71,558.97 C412.8,556.82 412.72,554.15 412.81,551.8 C412.89,549.45 413.3,547.03 414.22,544.87 C415.13,542.72 416.49,540.36 418.28,538.86 C420.07,537.37 422.63,536.46 424.97,535.9 C427.31,535.34 430.06,534.93 432.32,535.51 C434.57,536.1 436.73,537.84 438.48,539.41 C440.23,540.98 441.62,542.88 442.83,544.95 C444.03,547.01 445.48,549.41 445.7,551.8Z" fill="none" stroke="#dc1616" stroke-width="2.6" opacity="1.0" filter="url(#b06)"/>
<g fill="#ff3020" opacity="0.6" filter="url(#b1)"><ellipse cx="444.45" cy="549.61" rx="1.1" ry="0.93"/><ellipse cx="440.28" cy="562.92" rx="1.17" ry="1.09"/><ellipse cx="431.93" cy="567.9" rx="1.07" ry="1"/><ellipse cx="424.85" cy="567.64" rx="1.12" ry="0.93"/><ellipse cx="415.41" cy="561.03" rx="1.06" ry="1.04"/><ellipse cx="412.72" cy="549.81" rx="0.97" ry="1.08"/><ellipse cx="413.73" cy="543.78" rx="1.19" ry="1.08"/><ellipse cx="425.08" cy="535.11" rx="1.07" ry="1.2"/><ellipse cx="432.3" cy="535.32" rx="1.16" ry="1.31"/><ellipse cx="441.24" cy="541.25" rx="1.28" ry="1.29"/></g>
<text x="428.6" y="521.1" text-anchor="middle" style="font-family:'Liberation Sans', sans-serif;font-size:9.3px;fill:#e81a1a">Lamin B1</text>
<rect x="467.6" y="510.9" width="73.6" height="77.1" fill="#000" stroke="none" stroke-width="1"/>
<path d="M520.7,551.6 C520.76,554.09 520.89,556.87 519.96,559.14 C519.04,561.41 517.16,563.8 515.16,565.22 C513.16,566.64 510.43,567.09 507.97,567.68 C505.51,568.27 502.77,569.22 500.38,568.77 C498,568.31 495.39,566.66 493.66,564.95 C491.92,563.24 491.08,560.73 489.97,558.5 C488.85,556.28 487,553.93 486.95,551.6 C486.89,549.27 488.47,546.69 489.65,544.54 C490.82,542.39 492.19,540.25 494,538.69 C495.82,537.13 498.2,535.8 500.55,535.17 C502.9,534.54 505.8,534.27 508.11,534.9 C510.42,535.53 512.49,537.37 514.41,538.93 C516.32,540.48 518.55,542.12 519.6,544.23 C520.65,546.34 520.64,549.11 520.7,551.6Z" fill="none" stroke="#900c0c" stroke-width="4.2" opacity="0.75" filter="url(#b1)"/>
<path d="M520.7,551.6 C520.76,554.09 520.89,556.87 519.96,559.14 C519.04,561.41 517.16,563.8 515.16,565.22 C513.16,566.64 510.43,567.09 507.97,567.68 C505.51,568.27 502.77,569.22 500.38,568.77 C498,568.31 495.39,566.66 493.66,564.95 C491.92,563.24 491.08,560.73 489.97,558.5 C488.85,556.28 487,553.93 486.95,551.6 C486.89,549.27 488.47,546.69 489.65,544.54 C490.82,542.39 492.19,540.25 494,538.69 C495.82,537.13 498.2,535.8 500.55,535.17 C502.9,534.54 505.8,534.27 508.11,534.9 C510.42,535.53 512.49,537.37 514.41,538.93 C516.32,540.48 518.55,542.12 519.6,544.23 C520.65,546.34 520.64,549.11 520.7,551.6Z" fill="none" stroke="#dc1616" stroke-width="2.6" opacity="1.0" filter="url(#b06)"/>
<g fill="#ff3020" opacity="0.6" filter="url(#b1)"><ellipse cx="520.51" cy="553.6" rx="1.3" ry="1.2"/><ellipse cx="516.89" cy="562.45" rx="1.2" ry="1.26"/><ellipse cx="511.81" cy="567" rx="0.98" ry="0.98"/><ellipse cx="497.59" cy="567.3" rx="1.28" ry="1.17"/><ellipse cx="491.15" cy="561.45" rx="1.15" ry="0.98"/><ellipse cx="488.05" cy="549.47" rx="1.2" ry="1.22"/><ellipse cx="490.35" cy="541.67" rx="1.22" ry="1.35"/><ellipse cx="497.81" cy="536.33" rx="0.93" ry="1.03"/><ellipse cx="509.73" cy="535.98" rx="1.13" ry="1.14"/><ellipse cx="517.78" cy="541.46" rx="1.39" ry="1.31"/></g>
<g fill="#d8e030" opacity="0.95" filter="url(#b1)"><ellipse cx="487.7" cy="551.6" rx="6" ry="2" transform="rotate(270 487.7 551.6)"/><ellipse cx="489.26" cy="544.42" rx="4" ry="1.75" transform="rotate(295 489.26 544.42)"/><ellipse cx="520.65" cy="548.65" rx="5" ry="1.75" transform="rotate(80 520.65 548.65)"/><ellipse cx="493.63" cy="564.62" rx="3" ry="1.5" transform="rotate(220 493.63 564.62)"/></g>
<g fill="#30e030" opacity="0.9" filter="url(#b06)"><ellipse cx="519.9" cy="545.79" rx="3" ry="1.5" transform="rotate(70 519.9 545.79)"/><ellipse cx="498.62" cy="567.57" rx="2" ry="1.25" transform="rotate(200 498.62 567.57)"/></g>
<text x="471.9" y="521.1" style="font-family:'Liberation Sans', sans-serif;font-size:9.3px;fill:#1ed21e">PKC<tspan style="font-family:'Liberation Serif', serif">δ</tspan></text>
<text x="500.6" y="521.1" style="font-family:'Liberation Sans', sans-serif;font-size:9.3px;fill:#e81a1a">Lamin B1</text>
<rect x="353.3" y="590.3" width="74" height="77.5" fill="#000" stroke="none" stroke-width="1"/>
<path d="M406.49,632.2 C406.44,634.55 406.06,636.97 405.2,639.18 C404.34,641.4 403.11,643.98 401.31,645.5 C399.5,647.02 396.75,647.86 394.37,648.3 C392,648.73 389.43,648.61 387.07,648.12 C384.7,647.64 381.94,646.89 380.2,645.36 C378.46,643.84 377.45,641.17 376.62,638.98 C375.8,636.79 375.35,634.5 375.26,632.2 C375.17,629.9 375.16,627.24 376.07,625.16 C376.98,623.07 378.94,621.36 380.73,619.69 C382.52,618.03 384.52,615.83 386.81,615.16 C389.1,614.5 392.17,614.94 394.46,615.71 C396.76,616.49 398.75,618.24 400.58,619.81 C402.41,621.37 404.46,623.03 405.45,625.1 C406.43,627.16 406.53,629.85 406.49,632.2Z" fill="#0a12c0" opacity="1.0" filter="url(#b15)"/>
<path d="M405.68,632.2 C405.64,634.43 405.28,636.72 404.47,638.83 C403.65,640.94 402.5,643.4 400.79,644.85 C399.08,646.3 396.46,647.12 394.2,647.54 C391.94,647.96 389.48,647.84 387.24,647.37 C384.99,646.9 382.37,646.18 380.71,644.72 C379.06,643.27 378.11,640.72 377.33,638.64 C376.56,636.55 376.14,634.39 376.05,632.2 C375.96,630.01 375.95,627.49 376.81,625.51 C377.67,623.53 379.52,621.9 381.21,620.3 C382.91,618.71 384.82,616.6 387,615.97 C389.17,615.33 392.1,615.75 394.28,616.49 C396.47,617.24 398.36,618.92 400.1,620.41 C401.83,621.91 403.77,623.49 404.7,625.46 C405.63,627.42 405.71,629.97 405.68,632.2Z" fill="#0a14f2" opacity="1.0" filter="url(#b06)"/>
<text x="390.5" y="602.3" text-anchor="middle" style="font-family:'Liberation Sans', sans-serif;font-size:9.3px;fill:#1c6cc8">DAPI</text>
<rect x="429.1" y="590.3" width="74" height="77.5" fill="#000" stroke="none" stroke-width="1"/>
<path d="M482.37,631.5 C482.37,633.94 481.51,636.51 480.52,638.83 C479.53,641.16 478.32,643.86 476.42,645.45 C474.53,647.03 471.65,647.81 469.14,648.34 C466.64,648.87 463.81,649.22 461.39,648.64 C458.97,648.07 456.51,646.53 454.61,644.9 C452.71,643.27 451.15,641.11 449.99,638.87 C448.83,636.64 447.59,633.93 447.66,631.5 C447.72,629.07 449.23,626.56 450.37,624.31 C451.52,622.06 452.67,619.58 454.52,617.99 C456.37,616.39 459.04,615.32 461.48,614.75 C463.92,614.18 466.65,614.14 469.16,614.58 C471.68,615.02 474.66,615.79 476.56,617.39 C478.45,618.99 479.54,621.83 480.5,624.18 C481.47,626.53 482.36,629.06 482.37,631.5Z" fill="#c020c0" opacity="1.0" filter="url(#b06)"/>
<path d="M480.96,631.5 C480.96,633.74 480.19,636.09 479.29,638.24 C478.39,640.38 477.3,642.89 475.56,644.37 C473.82,645.84 471.17,646.59 468.86,647.09 C466.54,647.59 463.91,647.91 461.68,647.37 C459.44,646.83 457.18,645.38 455.44,643.87 C453.7,642.35 452.28,640.34 451.23,638.28 C450.17,636.22 449.05,633.73 449.11,631.5 C449.17,629.27 450.54,626.97 451.58,624.89 C452.62,622.82 453.66,620.52 455.36,619.03 C457.05,617.55 459.51,616.53 461.76,615.99 C464.01,615.46 466.55,615.42 468.88,615.84 C471.2,616.25 473.95,616.99 475.68,618.48 C477.42,619.97 478.39,622.6 479.27,624.77 C480.15,626.94 480.96,629.26 480.96,631.5Z" fill="none" stroke="#e050d8" stroke-width="2.2" opacity="1.0" filter="url(#b06)"/>
<path d="M479.55,631.5 C479.56,633.54 478.86,635.68 478.05,637.64 C477.23,639.6 476.25,641.89 474.66,643.24 C473.08,644.59 470.66,645.29 468.55,645.75 C466.44,646.21 464.03,646.5 461.99,646 C459.95,645.51 457.89,644.17 456.3,642.78 C454.72,641.4 453.44,639.55 452.48,637.67 C451.52,635.79 450.51,633.53 450.56,631.5 C450.62,629.47 451.86,627.38 452.8,625.48 C453.75,623.59 454.68,621.48 456.23,620.12 C457.77,618.76 460.01,617.82 462.07,617.33 C464.12,616.84 466.45,616.8 468.57,617.18 C470.69,617.57 473.2,618.25 474.78,619.62 C476.35,620.98 477.23,623.39 478.03,625.37 C478.83,627.35 479.55,629.46 479.55,631.5Z" fill="#0a14f0" opacity="1.0" filter="url(#b06)"/>
<g fill="#ffffff" opacity="0.7" filter="url(#b06)"><ellipse cx="449.7" cy="631.5" rx="3.5" ry="1.25" transform="rotate(270 449.7 631.5)"/><ellipse cx="480.37" cy="627.28" rx="4" ry="1.25" transform="rotate(75 480.37 627.28)"/><ellipse cx="451.79" cy="639.65" rx="2" ry="1" transform="rotate(240 451.79 639.65)"/></g>
<g fill="#30e030" opacity="0.9" filter="url(#b06)"><ellipse cx="448.76" cy="629.99" rx="4.5" ry="1.5" transform="rotate(275 448.76 629.99)"/><ellipse cx="480.9" cy="625.58" rx="4" ry="1.5" transform="rotate(70 480.9 625.58)"/><ellipse cx="457" cy="646.48" rx="2" ry="1" transform="rotate(210 457 646.48)"/></g>
<text x="465.2" y="602.3" text-anchor="middle" style="font-family:'Liberation Sans', sans-serif;font-size:9.3px;fill:#e8e8e8">Merge</text>
<rect x="462.4" y="660" width="35.2" height="2.7" fill="#fff" stroke="none" stroke-width="1"/>
<text x="551" y="490.8" style="font-family:'Liberation Sans', sans-serif;font-size:21px;fill:#000;stroke:#000;stroke-width:0.25px;font-weight:bold">i</text>
<rect x="600.2" y="479.9" width="15.6" height="4.8" fill="#d6d6d6" stroke="#2e2e2e" stroke-width="1.1"/>
<text x="621.3" y="486.3" style="font-family:'Liberation Sans', sans-serif;font-size:10.8px;fill:#1c1c1c;stroke:#1c1c1c;stroke-width:0.25px">Vehicle</text>
<rect x="600.2" y="490.45" width="15.6" height="4.8" fill="#fde0e0" stroke="#2e2e2e" stroke-width="1.1"/>
<text x="621.3" y="496.85" style="font-family:'Liberation Sans', sans-serif;font-size:10.8px;fill:#1c1c1c;stroke:#1c1c1c;stroke-width:0.25px">Glucagon</text>
<rect x="597.8" y="665.81" width="12.7" height="3.69" fill="#d6d6d6" stroke="#2e2e2e" stroke-width="1.2"/>
<rect x="612.9" y="555.82" width="12.4" height="113.68" fill="#fde0e0" stroke="#2e2e2e" stroke-width="1.2"/>
<rect x="629.2" y="663.47" width="12.9" height="6.03" fill="#d6d6d6" stroke="#2e2e2e" stroke-width="1.2"/>
<rect x="644.1" y="587.24" width="12.6" height="82.26" fill="#fde0e0" stroke="#2e2e2e" stroke-width="1.2"/>
<rect x="660.3" y="664.25" width="12.9" height="5.25" fill="#d6d6d6" stroke="#2e2e2e" stroke-width="1.2"/>
<rect x="675.9" y="551.01" width="12" height="118.49" fill="#fde0e0" stroke="#2e2e2e" stroke-width="1.2"/>
<rect x="691.5" y="659.96" width="13.1" height="9.54" fill="#d6d6d6" stroke="#2e2e2e" stroke-width="1.2"/>
<rect x="706.6" y="600.18" width="12.8" height="69.32" fill="#fde0e0" stroke="#2e2e2e" stroke-width="1.2"/>
<rect x="592.6" y="640.2" width="140" height="9.1" fill="#fff" stroke="none" stroke-width="1"/>
<line x1="619.1" y1="543.39" x2="619.1" y2="566.68" stroke="#b81c26" stroke-width="1.25"/>
<line x1="616.6" y1="543.39" x2="621.6" y2="543.39" stroke="#b81c26" stroke-width="1.25"/>
<line x1="616.6" y1="566.68" x2="621.6" y2="566.68" stroke="#b81c26" stroke-width="1.25"/>
<circle cx="619.1" cy="539.69" r="1.9" fill="none" stroke="#b81c26" stroke-width="1.15"/>
<circle cx="619.1" cy="546.34" r="1.9" fill="none" stroke="#b81c26" stroke-width="1.15"/>
<circle cx="619.1" cy="552.63" r="1.9" fill="none" stroke="#b81c26" stroke-width="1.15"/>
<circle cx="615.5" cy="558.17" r="1.9" fill="none" stroke="#b81c26" stroke-width="1.15"/>
<circle cx="622.5" cy="561.13" r="1.9" fill="none" stroke="#b81c26" stroke-width="1.15"/>
<circle cx="619.1" cy="568.15" r="1.9" fill="none" stroke="#b81c26" stroke-width="1.15"/>
<line x1="650.4" y1="580.35" x2="650.4" y2="592.92" stroke="#b81c26" stroke-width="1.25"/>
<line x1="647.9" y1="580.35" x2="652.9" y2="580.35" stroke="#b81c26" stroke-width="1.25"/>
<line x1="647.9" y1="592.92" x2="652.9" y2="592.92" stroke="#b81c26" stroke-width="1.25"/>
<circle cx="650.4" cy="575.92" r="1.9" fill="none" stroke="#b81c26" stroke-width="1.15"/>
<circle cx="647" cy="582.94" r="1.9" fill="none" stroke="#b81c26" stroke-width="1.15"/>
<circle cx="653.5" cy="585.16" r="1.9" fill="none" stroke="#b81c26" stroke-width="1.15"/>
<circle cx="650.4" cy="587.01" r="1.9" fill="none" stroke="#b81c26" stroke-width="1.15"/>
<circle cx="647" cy="591.44" r="1.9" fill="none" stroke="#b81c26" stroke-width="1.15"/>
<circle cx="653.5" cy="592.18" r="1.9" fill="none" stroke="#b81c26" stroke-width="1.15"/>
<line x1="681.9" y1="538.58" x2="681.9" y2="562.61" stroke="#b81c26" stroke-width="1.25"/>
<line x1="679.4" y1="538.58" x2="684.4" y2="538.58" stroke="#b81c26" stroke-width="1.25"/>
<line x1="679.4" y1="562.61" x2="684.4" y2="562.61" stroke="#b81c26" stroke-width="1.25"/>
<circle cx="681.9" cy="535.99" r="1.9" fill="none" stroke="#b81c26" stroke-width="1.15"/>
<circle cx="681.9" cy="541.17" r="1.9" fill="none" stroke="#b81c26" stroke-width="1.15"/>
<circle cx="678.5" cy="545.24" r="1.9" fill="none" stroke="#b81c26" stroke-width="1.15"/>
<circle cx="685.5" cy="549.67" r="1.9" fill="none" stroke="#b81c26" stroke-width="1.15"/>
<circle cx="681.9" cy="562.61" r="1.9" fill="none" stroke="#b81c26" stroke-width="1.15"/>
<circle cx="681.9" cy="565.57" r="1.9" fill="none" stroke="#b81c26" stroke-width="1.15"/>
<line x1="713" y1="587.75" x2="713" y2="611.77" stroke="#b81c26" stroke-width="1.25"/>
<line x1="710.5" y1="587.75" x2="715.5" y2="587.75" stroke="#b81c26" stroke-width="1.25"/>
<line x1="710.5" y1="611.77" x2="715.5" y2="611.77" stroke="#b81c26" stroke-width="1.25"/>
<circle cx="713" cy="587.75" r="1.9" fill="none" stroke="#b81c26" stroke-width="1.15"/>
<circle cx="709.5" cy="595.14" r="1.9" fill="none" stroke="#b81c26" stroke-width="1.15"/>
<circle cx="716.5" cy="596.99" r="1.9" fill="none" stroke="#b81c26" stroke-width="1.15"/>
<circle cx="713" cy="602.53" r="1.9" fill="none" stroke="#b81c26" stroke-width="1.15"/>
<circle cx="713" cy="611.77" r="1.9" fill="none" stroke="#b81c26" stroke-width="1.15"/>
<circle cx="713" cy="621.02" r="1.9" fill="none" stroke="#b81c26" stroke-width="1.15"/>
<line x1="604.1" y1="663.65" x2="604.1" y2="666.77" stroke="#1c1c1c" stroke-width="1.25"/>
<line x1="602.1" y1="663.65" x2="606.1" y2="663.65" stroke="#1c1c1c" stroke-width="1.25"/>
<line x1="602.1" y1="666.77" x2="606.1" y2="666.77" stroke="#1c1c1c" stroke-width="1.25"/>
<line x1="635.6" y1="660.14" x2="635.6" y2="665.6" stroke="#1c1c1c" stroke-width="1.25"/>
<line x1="633.6" y1="660.14" x2="637.6" y2="660.14" stroke="#1c1c1c" stroke-width="1.25"/>
<line x1="633.6" y1="665.6" x2="637.6" y2="665.6" stroke="#1c1c1c" stroke-width="1.25"/>
<line x1="666.7" y1="662.09" x2="666.7" y2="665.21" stroke="#1c1c1c" stroke-width="1.25"/>
<line x1="664.7" y1="662.09" x2="668.7" y2="662.09" stroke="#1c1c1c" stroke-width="1.25"/>
<line x1="664.7" y1="665.21" x2="668.7" y2="665.21" stroke="#1c1c1c" stroke-width="1.25"/>
<line x1="698" y1="655.85" x2="698" y2="662.87" stroke="#1c1c1c" stroke-width="1.25"/>
<line x1="696" y1="655.85" x2="700" y2="655.85" stroke="#1c1c1c" stroke-width="1.25"/>
<line x1="696" y1="662.87" x2="700" y2="662.87" stroke="#1c1c1c" stroke-width="1.25"/>
<circle cx="600.5" cy="664.82" r="1.9" fill="none" stroke="#1c1c1c" stroke-width="1.15"/>
<circle cx="603.5" cy="664.43" r="1.9" fill="none" stroke="#1c1c1c" stroke-width="1.15"/>
<circle cx="606.5" cy="665.21" r="1.9" fill="none" stroke="#1c1c1c" stroke-width="1.15"/>
<circle cx="609" cy="666.38" r="1.9" fill="none" stroke="#1c1c1c" stroke-width="1.15"/>
<circle cx="602" cy="665.99" r="1.9" fill="none" stroke="#1c1c1c" stroke-width="1.15"/>
<circle cx="631.5" cy="663.65" r="1.9" fill="none" stroke="#1c1c1c" stroke-width="1.15"/>
<circle cx="634.5" cy="660.92" r="1.9" fill="none" stroke="#1c1c1c" stroke-width="1.15"/>
<circle cx="638.5" cy="657.8" r="1.9" fill="none" stroke="#1c1c1c" stroke-width="1.15"/>
<circle cx="641" cy="665.6" r="1.9" fill="none" stroke="#1c1c1c" stroke-width="1.15"/>
<circle cx="635" cy="666.77" r="1.9" fill="none" stroke="#1c1c1c" stroke-width="1.15"/>
<circle cx="632" cy="662.09" r="1.9" fill="none" stroke="#1c1c1c" stroke-width="1.15"/>
<circle cx="662.5" cy="662.48" r="1.9" fill="none" stroke="#1c1c1c" stroke-width="1.15"/>
<circle cx="665.5" cy="663.65" r="1.9" fill="none" stroke="#1c1c1c" stroke-width="1.15"/>
<circle cx="669" cy="662.87" r="1.9" fill="none" stroke="#1c1c1c" stroke-width="1.15"/>
<circle cx="671.5" cy="664.82" r="1.9" fill="none" stroke="#1c1c1c" stroke-width="1.15"/>
<circle cx="665" cy="665.21" r="1.9" fill="none" stroke="#1c1c1c" stroke-width="1.15"/>
<circle cx="694.5" cy="656.24" r="1.9" fill="none" stroke="#1c1c1c" stroke-width="1.15"/>
<circle cx="698" cy="652.34" r="1.9" fill="none" stroke="#1c1c1c" stroke-width="1.15"/>
<circle cx="701.5" cy="658.58" r="1.9" fill="none" stroke="#1c1c1c" stroke-width="1.15"/>
<circle cx="694" cy="663.65" r="1.9" fill="none" stroke="#1c1c1c" stroke-width="1.15"/>
<circle cx="698" cy="664.43" r="1.9" fill="none" stroke="#1c1c1c" stroke-width="1.15"/>
<circle cx="702" cy="661.7" r="1.9" fill="none" stroke="#1c1c1c" stroke-width="1.15"/>
<line x1="591.6" y1="528.6" x2="591.6" y2="639.5" stroke="#2e2e2e" stroke-width="1.2"/>
<line x1="591.6" y1="650" x2="591.6" y2="669.5" stroke="#2e2e2e" stroke-width="1.2"/>
<line x1="587.1" y1="528.6" x2="591.6" y2="528.6" stroke="#2e2e2e" stroke-width="1.2"/>
<text x="585.7" y="532.4" text-anchor="end" style="font-family:'Liberation Sans', sans-serif;font-size:10.6px;fill:#1c1c1c;stroke:#1c1c1c;stroke-width:0.25px">350</text>
<line x1="587.1" y1="547.08" x2="591.6" y2="547.08" stroke="#2e2e2e" stroke-width="1.2"/>
<text x="585.7" y="550.88" text-anchor="end" style="font-family:'Liberation Sans', sans-serif;font-size:10.6px;fill:#1c1c1c;stroke:#1c1c1c;stroke-width:0.25px">300</text>
<line x1="587.1" y1="565.57" x2="591.6" y2="565.57" stroke="#2e2e2e" stroke-width="1.2"/>
<text x="585.7" y="569.37" text-anchor="end" style="font-family:'Liberation Sans', sans-serif;font-size:10.6px;fill:#1c1c1c;stroke:#1c1c1c;stroke-width:0.25px">250</text>
<line x1="587.1" y1="584.05" x2="591.6" y2="584.05" stroke="#2e2e2e" stroke-width="1.2"/>
<text x="585.7" y="587.85" text-anchor="end" style="font-family:'Liberation Sans', sans-serif;font-size:10.6px;fill:#1c1c1c;stroke:#1c1c1c;stroke-width:0.25px">200</text>
<line x1="587.1" y1="602.53" x2="591.6" y2="602.53" stroke="#2e2e2e" stroke-width="1.2"/>
<text x="585.7" y="606.33" text-anchor="end" style="font-family:'Liberation Sans', sans-serif;font-size:10.6px;fill:#1c1c1c;stroke:#1c1c1c;stroke-width:0.25px">150</text>
<line x1="587.1" y1="621.02" x2="591.6" y2="621.02" stroke="#2e2e2e" stroke-width="1.2"/>
<text x="585.7" y="624.82" text-anchor="end" style="font-family:'Liberation Sans', sans-serif;font-size:10.6px;fill:#1c1c1c;stroke:#1c1c1c;stroke-width:0.25px">100</text>
<line x1="587.1" y1="639.5" x2="595.6" y2="639.5" stroke="#2e2e2e" stroke-width="1.2"/>
<text x="585.7" y="643.3" text-anchor="end" style="font-family:'Liberation Sans', sans-serif;font-size:10.6px;fill:#1c1c1c;stroke:#1c1c1c;stroke-width:0.25px">50</text>
<line x1="587.1" y1="650" x2="595.6" y2="650" stroke="#2e2e2e" stroke-width="1.2"/>
<text x="585.7" y="653.8" text-anchor="end" style="font-family:'Liberation Sans', sans-serif;font-size:10.6px;fill:#1c1c1c;stroke:#1c1c1c;stroke-width:0.25px">5.0</text>
<line x1="587.1" y1="659.75" x2="591.6" y2="659.75" stroke="#2e2e2e" stroke-width="1.2"/>
<text x="585.7" y="663.55" text-anchor="end" style="font-family:'Liberation Sans', sans-serif;font-size:10.6px;fill:#1c1c1c;stroke:#1c1c1c;stroke-width:0.25px">2.5</text>
<line x1="587.1" y1="669.5" x2="591.6" y2="669.5" stroke="#2e2e2e" stroke-width="1.2"/>
<text x="585.7" y="673.3" text-anchor="end" style="font-family:'Liberation Sans', sans-serif;font-size:10.6px;fill:#1c1c1c;stroke:#1c1c1c;stroke-width:0.25px">0.0</text>
<line x1="591.6" y1="669.5" x2="725" y2="669.5" stroke="#2e2e2e" stroke-width="1.2"/>
<line x1="611.6" y1="669.5" x2="611.6" y2="674.3" stroke="#2e2e2e" stroke-width="1.2"/>
<line x1="643" y1="669.5" x2="643" y2="674.3" stroke="#2e2e2e" stroke-width="1.2"/>
<line x1="674.5" y1="669.5" x2="674.5" y2="674.3" stroke="#2e2e2e" stroke-width="1.2"/>
<line x1="705.6" y1="669.5" x2="705.6" y2="674.3" stroke="#2e2e2e" stroke-width="1.2"/>
<text transform="translate(564.2,600) rotate(-90)" text-anchor="middle" style="font-family:'Liberation Sans', sans-serif;font-size:10.6px;fill:#1c1c1c;stroke:#1c1c1c;stroke-width:0.25px">Pck1 mRNA level</text>
<text transform="translate(614.5,682.5) rotate(-40)" text-anchor="end" style="font-family:'Liberation Sans', sans-serif;font-size:11.2px;fill:#1c1c1c;stroke:#1c1c1c;stroke-width:0.25px">DMSO</text>
<text transform="translate(646,682.5) rotate(-40)" text-anchor="end" style="font-family:'Liberation Sans', sans-serif;font-size:11.2px;fill:#1c1c1c;stroke:#1c1c1c;stroke-width:0.25px">GF109203X</text>
<text transform="translate(677.5,682.5) rotate(-40)" text-anchor="end" style="font-family:'Liberation Sans', sans-serif;font-size:11.2px;fill:#1c1c1c;stroke:#1c1c1c;stroke-width:0.25px">Go6976</text>
<text transform="translate(708.5,682.5) rotate(-40)" text-anchor="end" style="font-family:'Liberation Sans', sans-serif;font-size:11.2px;fill:#1c1c1c;stroke:#1c1c1c;stroke-width:0.25px">Rottlerin</text>
<polyline points="619.9,515.5 619.9,509.9 713.5,509.9 713.5,515.5" stroke="#2e2e2e" stroke-width="1.1" fill="none" stroke-linejoin="miter"/>
<text x="666.7" y="509.7" text-anchor="middle" style="font-family:'Liberation Sans', sans-serif;font-size:13px;fill:#1c1c1c;stroke:#1c1c1c;stroke-width:0.25px">**</text>
<polyline points="619.9,526.9 619.9,521.2 651.5,521.2 651.5,526.9" stroke="#2e2e2e" stroke-width="1.1" fill="none" stroke-linejoin="miter"/>
<text x="635.7" y="521" text-anchor="middle" style="font-family:'Liberation Sans', sans-serif;font-size:13px;fill:#1c1c1c;stroke:#1c1c1c;stroke-width:0.25px">***</text>
<polyline points="603.4,535.4 603.4,529.7 619.5,529.7 619.5,535.4" stroke="#2e2e2e" stroke-width="1.1" fill="none" stroke-linejoin="miter"/>
<text x="611.45" y="529.5" text-anchor="middle" style="font-family:'Liberation Sans', sans-serif;font-size:13px;fill:#1c1c1c;stroke:#1c1c1c;stroke-width:0.25px">**</text>
<polyline points="666.2,530.1 666.2,524 682.7,524 682.7,530.1" stroke="#2e2e2e" stroke-width="1.1" fill="none" stroke-linejoin="miter"/>
<text x="674.45" y="523.8" text-anchor="middle" style="font-family:'Liberation Sans', sans-serif;font-size:13px;fill:#1c1c1c;stroke:#1c1c1c;stroke-width:0.25px">**</text>
<polyline points="634.6,571.7 634.6,566.6 650.7,566.6 650.7,571.7" stroke="#2e2e2e" stroke-width="1.1" fill="none" stroke-linejoin="miter"/>
<text x="642.65" y="566.4" text-anchor="middle" style="font-family:'Liberation Sans', sans-serif;font-size:13px;fill:#1c1c1c;stroke:#1c1c1c;stroke-width:0.25px">**</text>
<polyline points="697.8,582.7 697.8,577 713.9,577 713.9,582.7" stroke="#2e2e2e" stroke-width="1.1" fill="none" stroke-linejoin="miter"/>
<text x="705.85" y="576.8" text-anchor="middle" style="font-family:'Liberation Sans', sans-serif;font-size:13px;fill:#1c1c1c;stroke:#1c1c1c;stroke-width:0.25px">***</text>
<text x="5" y="753.3" style="font-family:'Liberation Sans', sans-serif;font-size:21px;fill:#000;stroke:#000;stroke-width:0.25px;font-weight:bold">j</text>
<text x="125.7" y="743.2" text-anchor="middle" style="font-family:'Liberation Sans', sans-serif;font-size:13.3px;fill:#1c1c1c;stroke:#1c1c1c;stroke-width:0.25px">siRNA</text>
<line x1="86.2" y1="746.4" x2="164.4" y2="746.4" stroke="#333" stroke-width="0.9"/>
<text x="104" y="760.7" text-anchor="middle" style="font-family:'Liberation Sans', sans-serif;font-size:13.3px;fill:#1c1c1c;stroke:#1c1c1c;stroke-width:0.25px">Cont</text>
<text x="146.2" y="760.7" text-anchor="middle" style="font-family:'Liberation Sans', sans-serif;font-size:13.3px;fill:#1c1c1c;stroke:#1c1c1c;stroke-width:0.25px">PKC<tspan style="font-family:'Liberation Serif', serif">δ</tspan></text>
<rect x="87.1" y="767" width="78.5" height="19" fill="#d4d4d4" stroke="#1e1e1e" stroke-width="1.3"/>
<rect x="87.1" y="788.4" width="78.5" height="19.3" fill="#d0d0d0" stroke="#1e1e1e" stroke-width="1.3"/>
<rect x="92.75" y="774.9" width="27.5" height="3.4" rx="1.7" fill="#0c0c0c" opacity="1.0" filter="url(#bband)"/>
<rect x="129.35" y="775.7" width="30.5" height="3" rx="1.5" fill="#1a1a1a" opacity="1.0" filter="url(#bband)"/>
<rect x="90.75" y="795.6" width="33.5" height="5.4" rx="2.7" fill="#030303" opacity="1.0" filter="url(#bband)"/>
<rect x="127.95" y="795.8" width="33.5" height="5.4" rx="2.7" fill="#030303" opacity="1.0" filter="url(#bband)"/>
<line x1="76.4" y1="772.9" x2="86.2" y2="772.9" stroke="#1e1e1e" stroke-width="1.2"/>
<text x="74.3" y="777.5" text-anchor="end" style="font-family:'Liberation Sans', sans-serif;font-size:12.6px;fill:#1c1c1c;stroke:#1c1c1c;stroke-width:0.25px">95</text>
<line x1="76.4" y1="799.7" x2="86.2" y2="799.7" stroke="#1e1e1e" stroke-width="1.2"/>
<text x="74.3" y="804.3" text-anchor="end" style="font-family:'Liberation Sans', sans-serif;font-size:12.6px;fill:#1c1c1c;stroke:#1c1c1c;stroke-width:0.25px">43</text>
<text x="170.9" y="782.4" style="font-family:'Liberation Sans', sans-serif;font-size:13.3px;fill:#1c1c1c;stroke:#1c1c1c;stroke-width:0.25px">PKC<tspan style="font-family:'Liberation Serif', serif">δ</tspan></text>
<text x="170.9" y="803.6" style="font-family:'Liberation Sans', sans-serif;font-size:13.3px;fill:#1c1c1c;stroke:#1c1c1c;stroke-width:0.25px"><tspan style="font-family:'Liberation Serif', serif">β</tspan>-actin</text>
<rect x="41.9" y="826.95" width="15.6" height="4.8" fill="#d6d6d6" stroke="#2e2e2e" stroke-width="1.1"/>
<text x="63.6" y="833.25" style="font-family:'Liberation Sans', sans-serif;font-size:11px;fill:#1c1c1c;stroke:#1c1c1c;stroke-width:0.25px">Vehicle</text>
<rect x="41.9" y="840.3" width="15.6" height="4.8" fill="#fde0e0" stroke="#2e2e2e" stroke-width="1.1"/>
<text x="63.6" y="846.6" style="font-family:'Liberation Sans', sans-serif;font-size:11px;fill:#1c1c1c;stroke:#1c1c1c;stroke-width:0.25px">Glucagon</text>
<rect x="45.7" y="984.2" width="13.7" height="14.4" fill="#d6d6d6" stroke="#2e2e2e" stroke-width="1.2"/>
<rect x="61.9" y="893.21" width="13.2" height="105.4" fill="#fde0e0" stroke="#2e2e2e" stroke-width="1.2"/>
<rect x="83.8" y="978.65" width="13.7" height="19.95" fill="#d6d6d6" stroke="#2e2e2e" stroke-width="1.2"/>
<rect x="100" y="938.68" width="13.9" height="59.92" fill="#fde0e0" stroke="#2e2e2e" stroke-width="1.2"/>
<rect x="39.4" y="958.7" width="82" height="9.3" fill="#fff" stroke="none" stroke-width="1"/>
<line x1="52.5" y1="979.1" x2="52.5" y2="988.1" stroke="#1c1c1c" stroke-width="1.25"/>
<line x1="50" y1="979.1" x2="55" y2="979.1" stroke="#1c1c1c" stroke-width="1.25"/>
<line x1="50" y1="988.1" x2="55" y2="988.1" stroke="#1c1c1c" stroke-width="1.25"/>
<circle cx="52.5" cy="975.35" r="1.9" fill="none" stroke="#1c1c1c" stroke-width="1.15"/>
<circle cx="52.5" cy="979.85" r="1.9" fill="none" stroke="#1c1c1c" stroke-width="1.15"/>
<circle cx="48.5" cy="984.35" r="1.9" fill="none" stroke="#1c1c1c" stroke-width="1.15"/>
<circle cx="52.5" cy="985.85" r="1.9" fill="none" stroke="#1c1c1c" stroke-width="1.15"/>
<circle cx="56.5" cy="985.1" r="1.9" fill="none" stroke="#1c1c1c" stroke-width="1.15"/>
<circle cx="56.5" cy="988.85" r="1.9" fill="none" stroke="#1c1c1c" stroke-width="1.15"/>
<line x1="68.5" y1="879.83" x2="68.5" y2="905.38" stroke="#b81c26" stroke-width="1.25"/>
<line x1="65.5" y1="879.83" x2="71.5" y2="879.83" stroke="#b81c26" stroke-width="1.25"/>
<line x1="65.5" y1="905.38" x2="71.5" y2="905.38" stroke="#b81c26" stroke-width="1.25"/>
<circle cx="68.5" cy="876.07" r="1.9" fill="none" stroke="#b81c26" stroke-width="1.15"/>
<circle cx="65" cy="882.83" r="1.9" fill="none" stroke="#b81c26" stroke-width="1.15"/>
<circle cx="72" cy="885.84" r="1.9" fill="none" stroke="#b81c26" stroke-width="1.15"/>
<circle cx="65" cy="899.37" r="1.9" fill="none" stroke="#b81c26" stroke-width="1.15"/>
<circle cx="72" cy="901.62" r="1.9" fill="none" stroke="#b81c26" stroke-width="1.15"/>
<circle cx="68.5" cy="908.39" r="1.9" fill="none" stroke="#b81c26" stroke-width="1.15"/>
<line x1="90.6" y1="973.85" x2="90.6" y2="982.1" stroke="#1c1c1c" stroke-width="1.25"/>
<line x1="88.1" y1="973.85" x2="93.1" y2="973.85" stroke="#1c1c1c" stroke-width="1.25"/>
<line x1="88.1" y1="982.1" x2="93.1" y2="982.1" stroke="#1c1c1c" stroke-width="1.25"/>
<circle cx="85.5" cy="976.1" r="1.9" fill="none" stroke="#1c1c1c" stroke-width="1.15"/>
<circle cx="90.6" cy="975.35" r="1.9" fill="none" stroke="#1c1c1c" stroke-width="1.15"/>
<circle cx="95.5" cy="973.1" r="1.9" fill="none" stroke="#1c1c1c" stroke-width="1.15"/>
<circle cx="86" cy="979.85" r="1.9" fill="none" stroke="#1c1c1c" stroke-width="1.15"/>
<circle cx="90.6" cy="981.35" r="1.9" fill="none" stroke="#1c1c1c" stroke-width="1.15"/>
<circle cx="96" cy="980.6" r="1.9" fill="none" stroke="#1c1c1c" stroke-width="1.15"/>
<line x1="106.9" y1="927.18" x2="106.9" y2="948.23" stroke="#b81c26" stroke-width="1.25"/>
<line x1="103.9" y1="927.18" x2="109.9" y2="927.18" stroke="#b81c26" stroke-width="1.25"/>
<line x1="103.9" y1="948.23" x2="109.9" y2="948.23" stroke="#b81c26" stroke-width="1.25"/>
<circle cx="101.5" cy="927.18" r="1.9" fill="none" stroke="#b81c26" stroke-width="1.15"/>
<circle cx="110.5" cy="924.93" r="1.9" fill="none" stroke="#b81c26" stroke-width="1.15"/>
<circle cx="103" cy="935.45" r="1.9" fill="none" stroke="#b81c26" stroke-width="1.15"/>
<circle cx="110" cy="937.33" r="1.9" fill="none" stroke="#b81c26" stroke-width="1.15"/>
<circle cx="103" cy="942.22" r="1.9" fill="none" stroke="#b81c26" stroke-width="1.15"/>
<circle cx="110" cy="945.97" r="1.9" fill="none" stroke="#b81c26" stroke-width="1.15"/>
<line x1="38.4" y1="867.8" x2="38.4" y2="958" stroke="#2e2e2e" stroke-width="1.2"/>
<line x1="38.4" y1="968.6" x2="38.4" y2="998.6" stroke="#2e2e2e" stroke-width="1.2"/>
<line x1="33.2" y1="867.8" x2="38.4" y2="867.8" stroke="#2e2e2e" stroke-width="1.2"/>
<text x="31.8" y="871.8" text-anchor="end" style="font-family:'Liberation Sans', sans-serif;font-size:11.3px;fill:#1c1c1c;stroke:#1c1c1c;stroke-width:0.25px">280</text>
<line x1="33.2" y1="890.35" x2="38.4" y2="890.35" stroke="#2e2e2e" stroke-width="1.2"/>
<text x="31.8" y="894.35" text-anchor="end" style="font-family:'Liberation Sans', sans-serif;font-size:11.3px;fill:#1c1c1c;stroke:#1c1c1c;stroke-width:0.25px">220</text>
<line x1="33.2" y1="912.9" x2="38.4" y2="912.9" stroke="#2e2e2e" stroke-width="1.2"/>
<text x="31.8" y="916.9" text-anchor="end" style="font-family:'Liberation Sans', sans-serif;font-size:11.3px;fill:#1c1c1c;stroke:#1c1c1c;stroke-width:0.25px">160</text>
<line x1="33.2" y1="935.45" x2="38.4" y2="935.45" stroke="#2e2e2e" stroke-width="1.2"/>
<text x="31.8" y="939.45" text-anchor="end" style="font-family:'Liberation Sans', sans-serif;font-size:11.3px;fill:#1c1c1c;stroke:#1c1c1c;stroke-width:0.25px">100</text>
<line x1="33.2" y1="958" x2="42.9" y2="958" stroke="#2e2e2e" stroke-width="1.2"/>
<text x="31.8" y="962" text-anchor="end" style="font-family:'Liberation Sans', sans-serif;font-size:11.3px;fill:#1c1c1c;stroke:#1c1c1c;stroke-width:0.25px">40</text>
<line x1="33.2" y1="968.6" x2="42.9" y2="968.6" stroke="#2e2e2e" stroke-width="1.2"/>
<text x="31.8" y="972.6" text-anchor="end" style="font-family:'Liberation Sans', sans-serif;font-size:11.3px;fill:#1c1c1c;stroke:#1c1c1c;stroke-width:0.25px">2</text>
<line x1="33.2" y1="983.6" x2="38.4" y2="983.6" stroke="#2e2e2e" stroke-width="1.2"/>
<text x="31.8" y="987.6" text-anchor="end" style="font-family:'Liberation Sans', sans-serif;font-size:11.3px;fill:#1c1c1c;stroke:#1c1c1c;stroke-width:0.25px">1</text>
<line x1="33.2" y1="998.6" x2="38.4" y2="998.6" stroke="#2e2e2e" stroke-width="1.2"/>
<text x="31.8" y="1002.6" text-anchor="end" style="font-family:'Liberation Sans', sans-serif;font-size:11.3px;fill:#1c1c1c;stroke:#1c1c1c;stroke-width:0.25px">0</text>
<line x1="38.4" y1="998.6" x2="121" y2="998.6" stroke="#2e2e2e" stroke-width="1.2"/>
<line x1="60.5" y1="998.6" x2="60.5" y2="1004.6" stroke="#2e2e2e" stroke-width="1.2"/>
<line x1="98.6" y1="998.6" x2="98.6" y2="1004.6" stroke="#2e2e2e" stroke-width="1.2"/>
<text x="59.8" y="1014.5" text-anchor="middle" style="font-family:'Liberation Sans', sans-serif;font-size:11.2px;fill:#1c1c1c;stroke:#1c1c1c;stroke-width:0.25px">scRNA</text>
<text x="98.2" y="1014.5" text-anchor="middle" style="font-family:'Liberation Sans', sans-serif;font-size:11.2px;fill:#1c1c1c;stroke:#1c1c1c;stroke-width:0.25px">siPKC<tspan style="font-family:'Liberation Serif', serif">δ</tspan></text>
<text transform="translate(7.5,935) rotate(-90)" text-anchor="middle" style="font-family:'Liberation Sans', sans-serif;font-size:11.1px;fill:#1c1c1c;stroke:#1c1c1c;stroke-width:0.25px">G6pc mRNA level</text>
<polyline points="53.5,872.2 53.5,866.7 66.5,866.7 66.5,872.2" stroke="#2e2e2e" stroke-width="1.1" fill="none" stroke-linejoin="miter"/>
<text x="60" y="866.5" text-anchor="middle" style="font-family:'Liberation Sans', sans-serif;font-size:13px;fill:#1c1c1c;stroke:#1c1c1c;stroke-width:0.25px">**</text>
<polyline points="69.4,872.2 69.4,866.7 107.3,866.7 107.3,872.2" stroke="#2e2e2e" stroke-width="1.1" fill="none" stroke-linejoin="miter"/>
<text x="88.35" y="866.5" text-anchor="middle" style="font-family:'Liberation Sans', sans-serif;font-size:13px;fill:#1c1c1c;stroke:#1c1c1c;stroke-width:0.25px">***</text>
<polyline points="94.5,918.5 94.5,912.8 107.3,912.8 107.3,918.5" stroke="#2e2e2e" stroke-width="1.1" fill="none" stroke-linejoin="miter"/>
<text x="100.9" y="912.6" text-anchor="middle" style="font-family:'Liberation Sans', sans-serif;font-size:13px;fill:#1c1c1c;stroke:#1c1c1c;stroke-width:0.25px">**</text>
<rect x="167.9" y="826.8" width="15.6" height="4.8" fill="#d6d6d6" stroke="#2e2e2e" stroke-width="1.1"/>
<text x="189.7" y="833.1" style="font-family:'Liberation Sans', sans-serif;font-size:11px;fill:#1c1c1c;stroke:#1c1c1c;stroke-width:0.25px">Vehicle</text>
<rect x="167.9" y="840.15" width="15.6" height="4.8" fill="#fde0e0" stroke="#2e2e2e" stroke-width="1.1"/>
<text x="189.7" y="846.45" style="font-family:'Liberation Sans', sans-serif;font-size:11px;fill:#1c1c1c;stroke:#1c1c1c;stroke-width:0.25px">Glucagon</text>
<rect x="169" y="987.6" width="13.4" height="11.3" fill="#d6d6d6" stroke="#2e2e2e" stroke-width="1.2"/>
<rect x="184.9" y="896.6" width="13.4" height="102.3" fill="#fde0e0" stroke="#2e2e2e" stroke-width="1.2"/>
<rect x="206.8" y="984.62" width="13.4" height="14.28" fill="#d6d6d6" stroke="#2e2e2e" stroke-width="1.2"/>
<rect x="223" y="942.36" width="13.1" height="56.54" fill="#fde0e0" stroke="#2e2e2e" stroke-width="1.2"/>
<rect x="162.9" y="965.2" width="82" height="9.2" fill="#fff" stroke="none" stroke-width="1"/>
<line x1="175.5" y1="983.43" x2="175.5" y2="989.98" stroke="#1c1c1c" stroke-width="1.25"/>
<line x1="173" y1="983.43" x2="178" y2="983.43" stroke="#1c1c1c" stroke-width="1.25"/>
<line x1="173" y1="989.98" x2="178" y2="989.98" stroke="#1c1c1c" stroke-width="1.25"/>
<circle cx="171" cy="984.62" r="1.9" fill="none" stroke="#1c1c1c" stroke-width="1.15"/>
<circle cx="175.5" cy="984.02" r="1.9" fill="none" stroke="#1c1c1c" stroke-width="1.15"/>
<circle cx="180" cy="982.24" r="1.9" fill="none" stroke="#1c1c1c" stroke-width="1.15"/>
<circle cx="172" cy="987.6" r="1.9" fill="none" stroke="#1c1c1c" stroke-width="1.15"/>
<circle cx="177.5" cy="988.19" r="1.9" fill="none" stroke="#1c1c1c" stroke-width="1.15"/>
<circle cx="180.5" cy="992.36" r="1.9" fill="none" stroke="#1c1c1c" stroke-width="1.15"/>
<line x1="191.6" y1="882.3" x2="191.6" y2="909.15" stroke="#b81c26" stroke-width="1.25"/>
<line x1="188.6" y1="882.3" x2="194.6" y2="882.3" stroke="#b81c26" stroke-width="1.25"/>
<line x1="188.6" y1="909.15" x2="194.6" y2="909.15" stroke="#b81c26" stroke-width="1.25"/>
<circle cx="191.6" cy="879.01" r="1.9" fill="none" stroke="#b81c26" stroke-width="1.15"/>
<circle cx="188" cy="885.86" r="1.9" fill="none" stroke="#b81c26" stroke-width="1.15"/>
<circle cx="195.5" cy="889.15" r="1.9" fill="none" stroke="#b81c26" stroke-width="1.15"/>
<circle cx="191.6" cy="900.93" r="1.9" fill="none" stroke="#b81c26" stroke-width="1.15"/>
<circle cx="191.6" cy="907.51" r="1.9" fill="none" stroke="#b81c26" stroke-width="1.15"/>
<circle cx="191.6" cy="914.63" r="1.9" fill="none" stroke="#b81c26" stroke-width="1.15"/>
<line x1="213.5" y1="978.67" x2="213.5" y2="989.38" stroke="#1c1c1c" stroke-width="1.25"/>
<line x1="211" y1="978.67" x2="216" y2="978.67" stroke="#1c1c1c" stroke-width="1.25"/>
<line x1="211" y1="989.38" x2="216" y2="989.38" stroke="#1c1c1c" stroke-width="1.25"/>
<circle cx="213.5" cy="975.7" r="1.9" fill="none" stroke="#1c1c1c" stroke-width="1.15"/>
<circle cx="209.5" cy="979.86" r="1.9" fill="none" stroke="#1c1c1c" stroke-width="1.15"/>
<circle cx="217.5" cy="983.43" r="1.9" fill="none" stroke="#1c1c1c" stroke-width="1.15"/>
<circle cx="213.5" cy="985.81" r="1.9" fill="none" stroke="#1c1c1c" stroke-width="1.15"/>
<circle cx="210" cy="991.16" r="1.9" fill="none" stroke="#1c1c1c" stroke-width="1.15"/>
<circle cx="217" cy="991.16" r="1.9" fill="none" stroke="#1c1c1c" stroke-width="1.15"/>
<line x1="229.6" y1="930.25" x2="229.6" y2="952.99" stroke="#b81c26" stroke-width="1.25"/>
<line x1="226.6" y1="930.25" x2="232.6" y2="930.25" stroke="#b81c26" stroke-width="1.25"/>
<line x1="226.6" y1="952.99" x2="232.6" y2="952.99" stroke="#b81c26" stroke-width="1.25"/>
<circle cx="232.5" cy="928.88" r="1.9" fill="none" stroke="#b81c26" stroke-width="1.15"/>
<circle cx="226.5" cy="930.25" r="1.9" fill="none" stroke="#b81c26" stroke-width="1.15"/>
<circle cx="229.6" cy="939.02" r="1.9" fill="none" stroke="#b81c26" stroke-width="1.15"/>
<circle cx="226" cy="948.06" r="1.9" fill="none" stroke="#b81c26" stroke-width="1.15"/>
<circle cx="233" cy="948.61" r="1.9" fill="none" stroke="#b81c26" stroke-width="1.15"/>
<circle cx="229.6" cy="954.91" r="1.9" fill="none" stroke="#b81c26" stroke-width="1.15"/>
<line x1="161.9" y1="868.6" x2="161.9" y2="964.5" stroke="#2e2e2e" stroke-width="1.2"/>
<line x1="161.9" y1="975.1" x2="161.9" y2="998.9" stroke="#2e2e2e" stroke-width="1.2"/>
<line x1="157.9" y1="868.6" x2="161.9" y2="868.6" stroke="#2e2e2e" stroke-width="1.2"/>
<text x="156.2" y="872.6" text-anchor="end" style="font-family:'Liberation Sans', sans-serif;font-size:11.3px;fill:#1c1c1c;stroke:#1c1c1c;stroke-width:0.25px">400</text>
<line x1="157.9" y1="882.3" x2="161.9" y2="882.3" stroke="#2e2e2e" stroke-width="1.2"/>
<text x="156.2" y="886.3" text-anchor="end" style="font-family:'Liberation Sans', sans-serif;font-size:11.3px;fill:#1c1c1c;stroke:#1c1c1c;stroke-width:0.25px">350</text>
<line x1="157.9" y1="896" x2="161.9" y2="896" stroke="#2e2e2e" stroke-width="1.2"/>
<text x="156.2" y="900" text-anchor="end" style="font-family:'Liberation Sans', sans-serif;font-size:11.3px;fill:#1c1c1c;stroke:#1c1c1c;stroke-width:0.25px">300</text>
<line x1="157.9" y1="909.7" x2="161.9" y2="909.7" stroke="#2e2e2e" stroke-width="1.2"/>
<text x="156.2" y="913.7" text-anchor="end" style="font-family:'Liberation Sans', sans-serif;font-size:11.3px;fill:#1c1c1c;stroke:#1c1c1c;stroke-width:0.25px">250</text>
<line x1="157.9" y1="923.4" x2="161.9" y2="923.4" stroke="#2e2e2e" stroke-width="1.2"/>
<text x="156.2" y="927.4" text-anchor="end" style="font-family:'Liberation Sans', sans-serif;font-size:11.3px;fill:#1c1c1c;stroke:#1c1c1c;stroke-width:0.25px">200</text>
<line x1="157.9" y1="937.1" x2="161.9" y2="937.1" stroke="#2e2e2e" stroke-width="1.2"/>
<text x="156.2" y="941.1" text-anchor="end" style="font-family:'Liberation Sans', sans-serif;font-size:11.3px;fill:#1c1c1c;stroke:#1c1c1c;stroke-width:0.25px">150</text>
<line x1="157.9" y1="950.8" x2="161.9" y2="950.8" stroke="#2e2e2e" stroke-width="1.2"/>
<text x="156.2" y="954.8" text-anchor="end" style="font-family:'Liberation Sans', sans-serif;font-size:11.3px;fill:#1c1c1c;stroke:#1c1c1c;stroke-width:0.25px">100</text>
<line x1="157.9" y1="964.5" x2="166.4" y2="964.5" stroke="#2e2e2e" stroke-width="1.2"/>
<text x="156.2" y="968.5" text-anchor="end" style="font-family:'Liberation Sans', sans-serif;font-size:11.3px;fill:#1c1c1c;stroke:#1c1c1c;stroke-width:0.25px">50</text>
<line x1="157.9" y1="975.1" x2="166.4" y2="975.1" stroke="#2e2e2e" stroke-width="1.2"/>
<text x="156.2" y="979.1" text-anchor="end" style="font-family:'Liberation Sans', sans-serif;font-size:11.3px;fill:#1c1c1c;stroke:#1c1c1c;stroke-width:0.25px">2</text>
<line x1="157.9" y1="987" x2="161.9" y2="987" stroke="#2e2e2e" stroke-width="1.2"/>
<text x="156.2" y="991" text-anchor="end" style="font-family:'Liberation Sans', sans-serif;font-size:11.3px;fill:#1c1c1c;stroke:#1c1c1c;stroke-width:0.25px">1</text>
<line x1="157.9" y1="998.9" x2="161.9" y2="998.9" stroke="#2e2e2e" stroke-width="1.2"/>
<text x="156.2" y="1002.9" text-anchor="end" style="font-family:'Liberation Sans', sans-serif;font-size:11.3px;fill:#1c1c1c;stroke:#1c1c1c;stroke-width:0.25px">0</text>
<line x1="161.9" y1="998.9" x2="243.5" y2="998.9" stroke="#2e2e2e" stroke-width="1.2"/>
<line x1="183.5" y1="998.9" x2="183.5" y2="1004.6" stroke="#2e2e2e" stroke-width="1.2"/>
<line x1="221.6" y1="998.9" x2="221.6" y2="1004.6" stroke="#2e2e2e" stroke-width="1.2"/>
<text x="183" y="1014.8" text-anchor="middle" style="font-family:'Liberation Sans', sans-serif;font-size:11.2px;fill:#1c1c1c;stroke:#1c1c1c;stroke-width:0.25px">scRNA</text>
<text x="221.6" y="1014.8" text-anchor="middle" style="font-family:'Liberation Sans', sans-serif;font-size:11.2px;fill:#1c1c1c;stroke:#1c1c1c;stroke-width:0.25px">siPKC<tspan style="font-family:'Liberation Serif', serif">δ</tspan></text>
<text transform="translate(132,935) rotate(-90)" text-anchor="middle" style="font-family:'Liberation Sans', sans-serif;font-size:11.1px;fill:#1c1c1c;stroke:#1c1c1c;stroke-width:0.25px">Pck1 mRNA level</text>
<polyline points="174.6,875.5 174.6,869.5 189.5,869.5 189.5,875.5" stroke="#2e2e2e" stroke-width="1.1" fill="none" stroke-linejoin="miter"/>
<text x="182.05" y="869.3" text-anchor="middle" style="font-family:'Liberation Sans', sans-serif;font-size:13px;fill:#1c1c1c;stroke:#1c1c1c;stroke-width:0.25px">**</text>
<polyline points="191.6,875.5 191.6,869.5 230.9,869.5 230.9,875.5" stroke="#2e2e2e" stroke-width="1.1" fill="none" stroke-linejoin="miter"/>
<text x="211.25" y="869.3" text-anchor="middle" style="font-family:'Liberation Sans', sans-serif;font-size:13px;fill:#1c1c1c;stroke:#1c1c1c;stroke-width:0.25px">**</text>
<polyline points="215.1,923.5 215.1,917.8 230.5,917.8 230.5,923.5" stroke="#2e2e2e" stroke-width="1.1" fill="none" stroke-linejoin="miter"/>
<text x="222.8" y="917.6" text-anchor="middle" style="font-family:'Liberation Sans', sans-serif;font-size:13px;fill:#1c1c1c;stroke:#1c1c1c;stroke-width:0.25px">**</text>
<text x="286" y="702.6" style="font-family:'Liberation Sans', sans-serif;font-size:21px;fill:#000;stroke:#000;stroke-width:0.25px;font-weight:bold">k</text>
<text x="351.2" y="699.1" text-anchor="middle" style="font-family:'Liberation Sans', sans-serif;font-size:13.2px;fill:#1c1c1c;stroke:#1c1c1c;stroke-width:0.25px">OAG</text>
<line x1="315.3" y1="705.2" x2="385.4" y2="705.2" stroke="#333" stroke-width="0.9"/>
<text x="328" y="720.8" text-anchor="middle" style="font-family:'Liberation Sans', sans-serif;font-size:13px;fill:#1c1c1c;stroke:#1c1c1c;stroke-width:0.25px">0</text>
<text x="350" y="720.8" text-anchor="middle" style="font-family:'Liberation Sans', sans-serif;font-size:13px;fill:#1c1c1c;stroke:#1c1c1c;stroke-width:0.25px">10</text>
<text x="374" y="720.8" text-anchor="middle" style="font-family:'Liberation Sans', sans-serif;font-size:13px;fill:#1c1c1c;stroke:#1c1c1c;stroke-width:0.25px">20</text>
<text x="391.5" y="720.8" style="font-family:'Liberation Sans', sans-serif;font-size:13.2px;fill:#1c1c1c;stroke:#1c1c1c;stroke-width:0.25px">(sec)</text>
<rect x="314.5" y="727.1" width="74.3" height="20.8" fill="#e6e6e6" stroke="#1e1e1e" stroke-width="1.3"/>
<rect x="314.5" y="750.7" width="74.3" height="20.6" fill="#d2d2d2" stroke="#1e1e1e" stroke-width="1.3"/>
<rect x="314.5" y="774.1" width="74.3" height="20.6" fill="#e4e4e4" stroke="#1e1e1e" stroke-width="1.3"/>
<rect x="318.75" y="736.6" width="19.5" height="3.2" rx="1.6" fill="#666" opacity="0.85" filter="url(#bband)"/>
<rect x="342.9" y="736" width="19" height="3.6" rx="1.8" fill="#333" opacity="0.95" filter="url(#bband)"/>
<rect x="365.65" y="735.3" width="19.5" height="4.2" rx="2.1" fill="#111" opacity="1.0" filter="url(#bband)"/>
<rect x="319" y="759.4" width="19" height="4" rx="2" fill="#9a9a9a" opacity="0.7" filter="url(#bband2)"/>
<rect x="343.4" y="759.4" width="18" height="4" rx="2" fill="#a8a8a8" opacity="0.6" filter="url(#bband2)"/>
<rect x="366.4" y="759" width="18" height="4" rx="2" fill="#aaaaaa" opacity="0.55" filter="url(#bband2)"/>
<rect x="319.25" y="782.2" width="18.5" height="4.2" rx="2.1" fill="#080808" opacity="1.0" filter="url(#bband)"/>
<rect x="343.15" y="782.2" width="18.5" height="4.2" rx="2.1" fill="#080808" opacity="1.0" filter="url(#bband)"/>
<rect x="366.15" y="782.2" width="18.5" height="4.2" rx="2.1" fill="#080808" opacity="1.0" filter="url(#bband)"/>
<line x1="303.7" y1="737.2" x2="313.2" y2="737.2" stroke="#1e1e1e" stroke-width="1.2"/>
<text x="301.7" y="741.5" text-anchor="end" style="font-family:'Liberation Sans', sans-serif;font-size:11.8px;fill:#1c1c1c;stroke:#1c1c1c;stroke-width:0.25px">43</text>
<line x1="303.7" y1="762.6" x2="313.2" y2="762.6" stroke="#1e1e1e" stroke-width="1.2"/>
<text x="301.7" y="766.9" text-anchor="end" style="font-family:'Liberation Sans', sans-serif;font-size:11.8px;fill:#1c1c1c;stroke:#1c1c1c;stroke-width:0.25px">43</text>
<line x1="303.7" y1="783.7" x2="313.2" y2="783.7" stroke="#1e1e1e" stroke-width="1.2"/>
<text x="301.7" y="788" text-anchor="end" style="font-family:'Liberation Sans', sans-serif;font-size:11.8px;fill:#1c1c1c;stroke:#1c1c1c;stroke-width:0.25px">72</text>
<text x="392.5" y="741.6" style="font-family:'Liberation Sans', sans-serif;font-size:12.6px;fill:#1c1c1c;stroke:#1c1c1c;stroke-width:0.25px">pCx43</text>
<text x="392.5" y="765.4" style="font-family:'Liberation Sans', sans-serif;font-size:12.6px;fill:#1c1c1c;stroke:#1c1c1c;stroke-width:0.25px">Cx43</text>
<text x="392.5" y="788.1" style="font-family:'Liberation Sans', sans-serif;font-size:12.4px;fill:#1c1c1c;stroke:#1c1c1c;stroke-width:0.25px">Lamin B1</text>
<text x="351.9" y="808.8" text-anchor="middle" style="font-family:'Liberation Sans', sans-serif;font-size:13px;fill:#1c1c1c;stroke:#1c1c1c;stroke-width:0.25px">Isolated</text>
<text x="352.2" y="820.2" text-anchor="middle" style="font-family:'Liberation Sans', sans-serif;font-size:13px;fill:#1c1c1c;stroke:#1c1c1c;stroke-width:0.25px">nucleoplast</text>
<text x="505" y="745.3" style="font-family:'Liberation Sans', sans-serif;font-size:21px;fill:#000;stroke:#000;stroke-width:0.25px;font-weight:bold">m</text>
<text x="596.7" y="741.1" text-anchor="middle" style="font-family:'Liberation Sans', sans-serif;font-size:12.7px;fill:#1c1c1c;stroke:#1c1c1c;stroke-width:0.25px">scRNA</text>
<text x="645.2" y="741.1" text-anchor="middle" style="font-family:'Liberation Sans', sans-serif;font-size:12.7px;fill:#1c1c1c;stroke:#1c1c1c;stroke-width:0.25px">siPKCδ</text>
<rect x="577.8" y="749.2" width="85" height="21.8" fill="#d8d8d8" stroke="#1e1e1e" stroke-width="1.3"/>
<rect x="577.8" y="772.6" width="85" height="21.4" fill="#e2e2e2" stroke="#1e1e1e" stroke-width="1.3"/>
<rect x="589.2" y="759.6" width="25" height="3.8" rx="1.9" fill="#404040" opacity="0.95" filter="url(#bband)"/>
<rect x="624.2" y="760.3" width="25" height="3.2" rx="1.6" fill="#8a8a8a" opacity="0.85" filter="url(#bband2)"/>
<rect x="589" y="779.2" width="26" height="4.8" rx="2.4" fill="#080808" opacity="1.0" filter="url(#bband)"/>
<rect x="623.2" y="779.2" width="29" height="4.8" rx="2.4" fill="#080808" opacity="1.0" filter="url(#bband)"/>
<line x1="565.5" y1="758" x2="575.3" y2="758" stroke="#1e1e1e" stroke-width="1.2"/>
<text x="563.2" y="762.3" text-anchor="end" style="font-family:'Liberation Sans', sans-serif;font-size:11.8px;fill:#1c1c1c;stroke:#1c1c1c;stroke-width:0.25px">95</text>
<line x1="565.5" y1="780" x2="575.3" y2="780" stroke="#1e1e1e" stroke-width="1.2"/>
<text x="563.2" y="784.3" text-anchor="end" style="font-family:'Liberation Sans', sans-serif;font-size:11.8px;fill:#1c1c1c;stroke:#1c1c1c;stroke-width:0.25px">72</text>
<text x="668" y="764.4" style="font-family:'Liberation Sans', sans-serif;font-size:12.4px;fill:#1c1c1c;stroke:#1c1c1c;stroke-width:0.25px">PKCδ</text>
<text x="668" y="786.5" style="font-family:'Liberation Sans', sans-serif;font-size:12.4px;fill:#1c1c1c;stroke:#1c1c1c;stroke-width:0.25px">Lamin B1</text>
<text x="621.6" y="808.4" text-anchor="middle" style="font-family:'Liberation Sans', sans-serif;font-size:13px;fill:#1c1c1c;stroke:#1c1c1c;stroke-width:0.25px">Isolated</text>
<text x="621.6" y="821.4" text-anchor="middle" style="font-family:'Liberation Sans', sans-serif;font-size:13px;fill:#1c1c1c;stroke:#1c1c1c;stroke-width:0.25px">nucleoplast</text>
<text x="248.5" y="840.4" style="font-family:'Liberation Sans', sans-serif;font-size:21px;fill:#000;stroke:#000;stroke-width:0.25px;font-weight:bold">l</text>
<rect x="299.1" y="891.85" width="13.7" height="89.75" fill="#ffffff" stroke="#2e2e2e" stroke-width="1.2"/>
<rect x="314.7" y="934.64" width="15.1" height="46.96" fill="#b6b9f6" stroke="none" stroke-width="1"/>
<line x1="314.7" y1="935.24" x2="329.8" y2="935.24" stroke="#2e2e2e" stroke-width="1.2"/>
<line x1="315.2" y1="934.64" x2="315.2" y2="981.6" stroke="#3a3a3a" stroke-width="1"/>
<rect x="328.8" y="934.64" width="2.2" height="46.96" fill="#6e6e6e" stroke="none" stroke-width="1"/>
<rect x="332.3" y="896.23" width="13.7" height="85.37" fill="#ffffff" stroke="#2e2e2e" stroke-width="1.2"/>
<rect x="349" y="889.07" width="14.3" height="92.53" fill="#ffffff" stroke="#2e2e2e" stroke-width="1.2"/>
<line x1="305.95" y1="880.91" x2="305.95" y2="901.6" stroke="#1c1c1c" stroke-width="1.25"/>
<line x1="302.95" y1="880.91" x2="308.95" y2="880.91" stroke="#1c1c1c" stroke-width="1.25"/>
<line x1="302.95" y1="901.6" x2="308.95" y2="901.6" stroke="#1c1c1c" stroke-width="1.25"/>
<circle cx="305.95" cy="876.93" r="1.9" fill="none" stroke="#1c1c1c" stroke-width="1.15"/>
<circle cx="302.45" cy="884.89" r="1.9" fill="none" stroke="#1c1c1c" stroke-width="1.15"/>
<circle cx="309.45" cy="890.86" r="1.9" fill="none" stroke="#1c1c1c" stroke-width="1.15"/>
<circle cx="301.95" cy="896.03" r="1.9" fill="none" stroke="#1c1c1c" stroke-width="1.15"/>
<circle cx="309.95" cy="897.22" r="1.9" fill="none" stroke="#1c1c1c" stroke-width="1.15"/>
<circle cx="305.95" cy="904.79" r="1.9" fill="none" stroke="#1c1c1c" stroke-width="1.15"/>
<line x1="322.25" y1="925.48" x2="322.25" y2="943.79" stroke="#1a36f0" stroke-width="1.25"/>
<line x1="319.25" y1="925.48" x2="325.25" y2="925.48" stroke="#1a36f0" stroke-width="1.25"/>
<line x1="319.25" y1="943.79" x2="325.25" y2="943.79" stroke="#1a36f0" stroke-width="1.25"/>
<circle cx="322.25" cy="923.09" r="1.9" fill="none" stroke="#1a36f0" stroke-width="1.15"/>
<circle cx="318.75" cy="926.68" r="1.9" fill="none" stroke="#1a36f0" stroke-width="1.15"/>
<circle cx="325.75" cy="928.67" r="1.9" fill="none" stroke="#1a36f0" stroke-width="1.15"/>
<circle cx="322.25" cy="932.65" r="1.9" fill="none" stroke="#1a36f0" stroke-width="1.15"/>
<circle cx="318.75" cy="938.62" r="1.9" fill="none" stroke="#1a36f0" stroke-width="1.15"/>
<circle cx="325.75" cy="939.81" r="1.9" fill="none" stroke="#1a36f0" stroke-width="1.15"/>
<circle cx="322.25" cy="948.96" r="1.9" fill="none" stroke="#1a36f0" stroke-width="1.15"/>
<line x1="339.15" y1="882.9" x2="339.15" y2="908.37" stroke="#1c1c1c" stroke-width="1.25"/>
<line x1="336.15" y1="882.9" x2="342.15" y2="882.9" stroke="#1c1c1c" stroke-width="1.25"/>
<line x1="336.15" y1="908.37" x2="342.15" y2="908.37" stroke="#1c1c1c" stroke-width="1.25"/>
<circle cx="335.15" cy="884.09" r="1.9" fill="none" stroke="#1c1c1c" stroke-width="1.15"/>
<circle cx="343.15" cy="883.29" r="1.9" fill="none" stroke="#1c1c1c" stroke-width="1.15"/>
<circle cx="339.15" cy="890.06" r="1.9" fill="none" stroke="#1c1c1c" stroke-width="1.15"/>
<circle cx="337.15" cy="896.83" r="1.9" fill="none" stroke="#1c1c1c" stroke-width="1.15"/>
<circle cx="342.15" cy="898.02" r="1.9" fill="none" stroke="#1c1c1c" stroke-width="1.15"/>
<circle cx="339.15" cy="913.94" r="1.9" fill="none" stroke="#1c1c1c" stroke-width="1.15"/>
<line x1="356.15" y1="876.53" x2="356.15" y2="900.41" stroke="#1c1c1c" stroke-width="1.25"/>
<line x1="353.15" y1="876.53" x2="359.15" y2="876.53" stroke="#1c1c1c" stroke-width="1.25"/>
<line x1="353.15" y1="900.41" x2="359.15" y2="900.41" stroke="#1c1c1c" stroke-width="1.25"/>
<circle cx="356.15" cy="872.15" r="1.9" fill="none" stroke="#1c1c1c" stroke-width="1.15"/>
<circle cx="356.15" cy="878.12" r="1.9" fill="none" stroke="#1c1c1c" stroke-width="1.15"/>
<circle cx="352.15" cy="888.07" r="1.9" fill="none" stroke="#1c1c1c" stroke-width="1.15"/>
<circle cx="360.15" cy="890.06" r="1.9" fill="none" stroke="#1c1c1c" stroke-width="1.15"/>
<circle cx="353.15" cy="898.02" r="1.9" fill="none" stroke="#1c1c1c" stroke-width="1.15"/>
<circle cx="360.15" cy="899.21" r="1.9" fill="none" stroke="#1c1c1c" stroke-width="1.15"/>
<line x1="291.5" y1="862.2" x2="291.5" y2="981.6" stroke="#2e2e2e" stroke-width="1.2"/>
<line x1="286" y1="862.2" x2="291.5" y2="862.2" stroke="#2e2e2e" stroke-width="1.2"/>
<text x="284.8" y="866.5" text-anchor="end" style="font-family:'Liberation Sans', sans-serif;font-size:12.2px;fill:#1c1c1c;stroke:#1c1c1c;stroke-width:0.25px">650</text>
<line x1="286" y1="882.1" x2="291.5" y2="882.1" stroke="#2e2e2e" stroke-width="1.2"/>
<text x="284.8" y="886.4" text-anchor="end" style="font-family:'Liberation Sans', sans-serif;font-size:12.2px;fill:#1c1c1c;stroke:#1c1c1c;stroke-width:0.25px">600</text>
<line x1="286" y1="902" x2="291.5" y2="902" stroke="#2e2e2e" stroke-width="1.2"/>
<text x="284.8" y="906.3" text-anchor="end" style="font-family:'Liberation Sans', sans-serif;font-size:12.2px;fill:#1c1c1c;stroke:#1c1c1c;stroke-width:0.25px">550</text>
<line x1="286" y1="921.9" x2="291.5" y2="921.9" stroke="#2e2e2e" stroke-width="1.2"/>
<text x="284.8" y="926.2" text-anchor="end" style="font-family:'Liberation Sans', sans-serif;font-size:12.2px;fill:#1c1c1c;stroke:#1c1c1c;stroke-width:0.25px">500</text>
<line x1="286" y1="941.8" x2="291.5" y2="941.8" stroke="#2e2e2e" stroke-width="1.2"/>
<text x="284.8" y="946.1" text-anchor="end" style="font-family:'Liberation Sans', sans-serif;font-size:12.2px;fill:#1c1c1c;stroke:#1c1c1c;stroke-width:0.25px">450</text>
<line x1="286" y1="961.7" x2="291.5" y2="961.7" stroke="#2e2e2e" stroke-width="1.2"/>
<text x="284.8" y="966" text-anchor="end" style="font-family:'Liberation Sans', sans-serif;font-size:12.2px;fill:#1c1c1c;stroke:#1c1c1c;stroke-width:0.25px">400</text>
<line x1="286" y1="981.6" x2="291.5" y2="981.6" stroke="#2e2e2e" stroke-width="1.2"/>
<text x="284.8" y="985.9" text-anchor="end" style="font-family:'Liberation Sans', sans-serif;font-size:12.2px;fill:#1c1c1c;stroke:#1c1c1c;stroke-width:0.25px">350</text>
<line x1="291.5" y1="981.6" x2="370.5" y2="981.6" stroke="#2e2e2e" stroke-width="1.2"/>
<line x1="305.9" y1="981.6" x2="305.9" y2="987.6" stroke="#2e2e2e" stroke-width="1.2"/>
<line x1="322.2" y1="981.6" x2="322.2" y2="987.6" stroke="#2e2e2e" stroke-width="1.2"/>
<line x1="339.3" y1="981.6" x2="339.3" y2="987.6" stroke="#2e2e2e" stroke-width="1.2"/>
<line x1="356" y1="981.6" x2="356" y2="987.6" stroke="#2e2e2e" stroke-width="1.2"/>
<text x="305.9" y="998.2" text-anchor="middle" style="font-family:'Liberation Sans', sans-serif;font-size:12.5px;fill:#1c1c1c;stroke:#1c1c1c;stroke-width:0.25px">-</text>
<text x="322.2" y="998.2" text-anchor="middle" style="font-family:'Liberation Sans', sans-serif;font-size:12.5px;fill:#1c1c1c;stroke:#1c1c1c;stroke-width:0.25px">+</text>
<text x="339.3" y="998.2" text-anchor="middle" style="font-family:'Liberation Sans', sans-serif;font-size:12.5px;fill:#1c1c1c;stroke:#1c1c1c;stroke-width:0.25px">-</text>
<text x="356" y="998.2" text-anchor="middle" style="font-family:'Liberation Sans', sans-serif;font-size:12.5px;fill:#1c1c1c;stroke:#1c1c1c;stroke-width:0.25px">+</text>
<text x="293.2" y="1001.7" text-anchor="end" style="font-family:'Liberation Sans', sans-serif;font-size:11.8px;fill:#1c1c1c;stroke:#1c1c1c;stroke-width:0.25px">OAG</text>
<line x1="298" y1="1001.7" x2="328.7" y2="1001.7" stroke="#333" stroke-width="1"/>
<text x="311.2" y="1016.3" text-anchor="middle" style="font-family:'Liberation Sans', sans-serif;font-size:12px;fill:#1c1c1c;stroke:#1c1c1c;stroke-width:0.25px">Vehicle</text>
<line x1="332.2" y1="1001.7" x2="365.1" y2="1001.7" stroke="#333" stroke-width="1"/>
<text x="349.8" y="1016.3" text-anchor="middle" style="font-family:'Liberation Sans', sans-serif;font-size:12px;fill:#1c1c1c;stroke:#1c1c1c;stroke-width:0.25px">ara F</text>
<text x="329" y="842.6" text-anchor="middle" style="font-family:'Liberation Sans', sans-serif;font-size:11.2px;fill:#1c1c1c;stroke:#1c1c1c;stroke-width:0.25px">Nucleoplast</text>
<text transform="translate(258.6,921.9) rotate(-90)" text-anchor="middle" style="font-family:'Liberation Sans', sans-serif;font-size:11.3px;fill:#1c1c1c;stroke:#1c1c1c;stroke-width:0.25px">NAD level (pmol/mg)</text>
<polyline points="306.4,867.2 306.4,861.1 321.7,861.1 321.7,867.2" stroke="#2e2e2e" stroke-width="1.1" fill="none" stroke-linejoin="miter"/>
<text x="314.05" y="860.9" text-anchor="middle" style="font-family:'Liberation Sans', sans-serif;font-size:13px;fill:#1c1c1c;stroke:#1c1c1c;stroke-width:0.25px">***</text>
<polyline points="325.6,867.2 325.6,861.1 356.3,861.1 356.3,867.2" stroke="#2e2e2e" stroke-width="1.1" fill="none" stroke-linejoin="miter"/>
<text x="340.95" y="860.9" text-anchor="middle" style="font-family:'Liberation Sans', sans-serif;font-size:13px;fill:#1c1c1c;stroke:#1c1c1c;stroke-width:0.25px">***</text>
<rect x="422.8" y="931.18" width="14.2" height="49.42" fill="#ffffff" stroke="#2e2e2e" stroke-width="1.2"/>
<rect x="439.4" y="887.06" width="14.6" height="93.54" fill="#f57878" stroke="none" stroke-width="1"/>
<line x1="439.4" y1="887.66" x2="454" y2="887.66" stroke="#2e2e2e" stroke-width="1.2"/>
<line x1="439.9" y1="887.06" x2="439.9" y2="980.6" stroke="#3a3a3a" stroke-width="1"/>
<rect x="453" y="887.06" width="2.2" height="93.54" fill="#6e6e6e" stroke="none" stroke-width="1"/>
<rect x="456.3" y="927.33" width="13.6" height="53.27" fill="#ffffff" stroke="#2e2e2e" stroke-width="1.2"/>
<rect x="473" y="930.88" width="13.8" height="49.72" fill="#ffffff" stroke="#2e2e2e" stroke-width="1.2"/>
<line x1="429.9" y1="917.85" x2="429.9" y2="943.3" stroke="#1c1c1c" stroke-width="1.25"/>
<line x1="426.9" y1="917.85" x2="432.9" y2="917.85" stroke="#1c1c1c" stroke-width="1.25"/>
<line x1="426.9" y1="943.3" x2="432.9" y2="943.3" stroke="#1c1c1c" stroke-width="1.25"/>
<circle cx="429.9" cy="917.85" r="1.9" fill="none" stroke="#1c1c1c" stroke-width="1.15"/>
<circle cx="425.9" cy="921.99" r="1.9" fill="none" stroke="#1c1c1c" stroke-width="1.15"/>
<circle cx="433.9" cy="919.92" r="1.9" fill="none" stroke="#1c1c1c" stroke-width="1.15"/>
<circle cx="429.9" cy="924.36" r="1.9" fill="none" stroke="#1c1c1c" stroke-width="1.15"/>
<circle cx="426.9" cy="928.8" r="1.9" fill="none" stroke="#1c1c1c" stroke-width="1.15"/>
<circle cx="429.9" cy="951" r="1.9" fill="none" stroke="#1c1c1c" stroke-width="1.15"/>
<line x1="446.7" y1="869.3" x2="446.7" y2="904.82" stroke="#b81c26" stroke-width="1.25"/>
<line x1="443.7" y1="869.3" x2="449.7" y2="869.3" stroke="#b81c26" stroke-width="1.25"/>
<line x1="443.7" y1="904.82" x2="449.7" y2="904.82" stroke="#b81c26" stroke-width="1.25"/>
<circle cx="446.7" cy="865.16" r="1.9" fill="none" stroke="#b81c26" stroke-width="1.15"/>
<circle cx="442.7" cy="877" r="1.9" fill="none" stroke="#b81c26" stroke-width="1.15"/>
<circle cx="450.7" cy="880.85" r="1.9" fill="none" stroke="#b81c26" stroke-width="1.15"/>
<circle cx="446.7" cy="890.32" r="1.9" fill="none" stroke="#b81c26" stroke-width="1.15"/>
<circle cx="446.7" cy="899.79" r="1.9" fill="none" stroke="#b81c26" stroke-width="1.15"/>
<circle cx="446.7" cy="913.7" r="1.9" fill="none" stroke="#b81c26" stroke-width="1.15"/>
<line x1="463.1" y1="917.85" x2="463.1" y2="935.61" stroke="#1c1c1c" stroke-width="1.25"/>
<line x1="460.1" y1="917.85" x2="466.1" y2="917.85" stroke="#1c1c1c" stroke-width="1.25"/>
<line x1="460.1" y1="935.61" x2="466.1" y2="935.61" stroke="#1c1c1c" stroke-width="1.25"/>
<circle cx="459.1" cy="919.92" r="1.9" fill="none" stroke="#1c1c1c" stroke-width="1.15"/>
<circle cx="467.1" cy="916.07" r="1.9" fill="none" stroke="#1c1c1c" stroke-width="1.15"/>
<circle cx="463.1" cy="924.36" r="1.9" fill="none" stroke="#1c1c1c" stroke-width="1.15"/>
<circle cx="460.1" cy="927.91" r="1.9" fill="none" stroke="#1c1c1c" stroke-width="1.15"/>
<circle cx="467.1" cy="927.91" r="1.9" fill="none" stroke="#1c1c1c" stroke-width="1.15"/>
<circle cx="463.1" cy="940.34" r="1.9" fill="none" stroke="#1c1c1c" stroke-width="1.15"/>
<line x1="479.9" y1="922.88" x2="479.9" y2="937.68" stroke="#1c1c1c" stroke-width="1.25"/>
<line x1="476.9" y1="922.88" x2="482.9" y2="922.88" stroke="#1c1c1c" stroke-width="1.25"/>
<line x1="476.9" y1="937.68" x2="482.9" y2="937.68" stroke="#1c1c1c" stroke-width="1.25"/>
<circle cx="475.9" cy="925.84" r="1.9" fill="none" stroke="#1c1c1c" stroke-width="1.15"/>
<circle cx="483.9" cy="921.99" r="1.9" fill="none" stroke="#1c1c1c" stroke-width="1.15"/>
<circle cx="479.9" cy="927.32" r="1.9" fill="none" stroke="#1c1c1c" stroke-width="1.15"/>
<circle cx="483.9" cy="930.28" r="1.9" fill="none" stroke="#1c1c1c" stroke-width="1.15"/>
<circle cx="475.9" cy="930.87" r="1.9" fill="none" stroke="#1c1c1c" stroke-width="1.15"/>
<circle cx="479.9" cy="942.71" r="1.9" fill="none" stroke="#1c1c1c" stroke-width="1.15"/>
<line x1="416.2" y1="862.2" x2="416.2" y2="980.6" stroke="#2e2e2e" stroke-width="1.2"/>
<line x1="411.4" y1="862.2" x2="416.2" y2="862.2" stroke="#2e2e2e" stroke-width="1.2"/>
<text x="409.5" y="866.5" text-anchor="end" style="font-family:'Liberation Sans', sans-serif;font-size:12.2px;fill:#1c1c1c;stroke:#1c1c1c;stroke-width:0.25px">800</text>
<line x1="411.4" y1="891.8" x2="416.2" y2="891.8" stroke="#2e2e2e" stroke-width="1.2"/>
<text x="409.5" y="896.1" text-anchor="end" style="font-family:'Liberation Sans', sans-serif;font-size:12.2px;fill:#1c1c1c;stroke:#1c1c1c;stroke-width:0.25px">700</text>
<line x1="411.4" y1="921.4" x2="416.2" y2="921.4" stroke="#2e2e2e" stroke-width="1.2"/>
<text x="409.5" y="925.7" text-anchor="end" style="font-family:'Liberation Sans', sans-serif;font-size:12.2px;fill:#1c1c1c;stroke:#1c1c1c;stroke-width:0.25px">600</text>
<line x1="411.4" y1="951" x2="416.2" y2="951" stroke="#2e2e2e" stroke-width="1.2"/>
<text x="409.5" y="955.3" text-anchor="end" style="font-family:'Liberation Sans', sans-serif;font-size:12.2px;fill:#1c1c1c;stroke:#1c1c1c;stroke-width:0.25px">500</text>
<line x1="411.4" y1="980.6" x2="416.2" y2="980.6" stroke="#2e2e2e" stroke-width="1.2"/>
<text x="409.5" y="984.9" text-anchor="end" style="font-family:'Liberation Sans', sans-serif;font-size:12.2px;fill:#1c1c1c;stroke:#1c1c1c;stroke-width:0.25px">400</text>
<line x1="416.2" y1="980.6" x2="494.7" y2="980.6" stroke="#2e2e2e" stroke-width="1.2"/>
<line x1="430.1" y1="980.6" x2="430.1" y2="986.6" stroke="#2e2e2e" stroke-width="1.2"/>
<line x1="446.4" y1="980.6" x2="446.4" y2="986.6" stroke="#2e2e2e" stroke-width="1.2"/>
<line x1="463.1" y1="980.6" x2="463.1" y2="986.6" stroke="#2e2e2e" stroke-width="1.2"/>
<line x1="479.8" y1="980.6" x2="479.8" y2="986.6" stroke="#2e2e2e" stroke-width="1.2"/>
<text x="430.1" y="997" text-anchor="middle" style="font-family:'Liberation Sans', sans-serif;font-size:12.5px;fill:#1c1c1c;stroke:#1c1c1c;stroke-width:0.25px">-</text>
<text x="446.4" y="997" text-anchor="middle" style="font-family:'Liberation Sans', sans-serif;font-size:12.5px;fill:#1c1c1c;stroke:#1c1c1c;stroke-width:0.25px">+</text>
<text x="463.1" y="997" text-anchor="middle" style="font-family:'Liberation Sans', sans-serif;font-size:12.5px;fill:#1c1c1c;stroke:#1c1c1c;stroke-width:0.25px">-</text>
<text x="479.8" y="997" text-anchor="middle" style="font-family:'Liberation Sans', sans-serif;font-size:12.5px;fill:#1c1c1c;stroke:#1c1c1c;stroke-width:0.25px">+</text>
<text x="418" y="999.9" text-anchor="end" style="font-family:'Liberation Sans', sans-serif;font-size:11.8px;fill:#1c1c1c;stroke:#1c1c1c;stroke-width:0.25px">OAG</text>
<line x1="421.5" y1="1002.2" x2="451.7" y2="1002.2" stroke="#333" stroke-width="1"/>
<text x="435.6" y="1015.7" text-anchor="middle" style="font-family:'Liberation Sans', sans-serif;font-size:12px;fill:#1c1c1c;stroke:#1c1c1c;stroke-width:0.25px">Vehicle</text>
<line x1="457" y1="1002.2" x2="490" y2="1002.2" stroke="#333" stroke-width="1"/>
<text x="473.4" y="1015.7" text-anchor="middle" style="font-family:'Liberation Sans', sans-serif;font-size:12px;fill:#1c1c1c;stroke:#1c1c1c;stroke-width:0.25px">ara F</text>
<text x="452.6" y="842.3" text-anchor="middle" style="font-family:'Liberation Sans', sans-serif;font-size:11.2px;fill:#1c1c1c;stroke:#1c1c1c;stroke-width:0.25px">Nucleoplast</text>
<text transform="translate(384,921.4) rotate(-90)" text-anchor="middle" style="font-family:'Liberation Sans', sans-serif;font-size:11.3px;fill:#1c1c1c;stroke:#1c1c1c;stroke-width:0.25px">ADPR level (pmol/mg)</text>
<polyline points="429.7,861.6 429.7,855.1 446.8,855.1 446.8,861.6" stroke="#2e2e2e" stroke-width="1.1" fill="none" stroke-linejoin="miter"/>
<text x="438.25" y="854.9" text-anchor="middle" style="font-family:'Liberation Sans', sans-serif;font-size:13px;fill:#1c1c1c;stroke:#1c1c1c;stroke-width:0.25px">***</text>
<polyline points="449.4,861.6 449.4,855.1 480.3,855.1 480.3,861.6" stroke="#2e2e2e" stroke-width="1.1" fill="none" stroke-linejoin="miter"/>
<text x="464.85" y="854.9" text-anchor="middle" style="font-family:'Liberation Sans', sans-serif;font-size:13px;fill:#1c1c1c;stroke:#1c1c1c;stroke-width:0.25px">***</text>
<rect x="546.5" y="900.84" width="13.7" height="80.66" fill="#ffffff" stroke="#2e2e2e" stroke-width="1.2"/>
<rect x="562.4" y="932.11" width="14.9" height="49.39" fill="#b6b9f6" stroke="none" stroke-width="1"/>
<line x1="562.4" y1="932.71" x2="577.3" y2="932.71" stroke="#2e2e2e" stroke-width="1.2"/>
<line x1="562.9" y1="932.11" x2="562.9" y2="981.5" stroke="#3a3a3a" stroke-width="1"/>
<rect x="576.3" y="932.11" width="2.2" height="49.39" fill="#6e6e6e" stroke="none" stroke-width="1"/>
<rect x="579.8" y="895.26" width="14.1" height="86.24" fill="#ffffff" stroke="#2e2e2e" stroke-width="1.2"/>
<rect x="596.5" y="900.04" width="13.8" height="81.46" fill="#ffffff" stroke="#2e2e2e" stroke-width="1.2"/>
<line x1="553.35" y1="887.49" x2="553.35" y2="912.99" stroke="#1c1c1c" stroke-width="1.25"/>
<line x1="550.35" y1="887.49" x2="556.35" y2="887.49" stroke="#1c1c1c" stroke-width="1.25"/>
<line x1="550.35" y1="912.99" x2="556.35" y2="912.99" stroke="#1c1c1c" stroke-width="1.25"/>
<circle cx="553.35" cy="877.14" r="1.9" fill="none" stroke="#1c1c1c" stroke-width="1.15"/>
<circle cx="553.35" cy="897.45" r="1.9" fill="none" stroke="#1c1c1c" stroke-width="1.15"/>
<circle cx="549.35" cy="903.43" r="1.9" fill="none" stroke="#1c1c1c" stroke-width="1.15"/>
<circle cx="557.35" cy="903.43" r="1.9" fill="none" stroke="#1c1c1c" stroke-width="1.15"/>
<circle cx="553.35" cy="905.82" r="1.9" fill="none" stroke="#1c1c1c" stroke-width="1.15"/>
<circle cx="553.35" cy="913.38" r="1.9" fill="none" stroke="#1c1c1c" stroke-width="1.15"/>
<line x1="569.85" y1="928.12" x2="569.85" y2="936.09" stroke="#1a36f0" stroke-width="1.25"/>
<line x1="566.85" y1="928.12" x2="572.85" y2="928.12" stroke="#1a36f0" stroke-width="1.25"/>
<line x1="566.85" y1="936.09" x2="572.85" y2="936.09" stroke="#1a36f0" stroke-width="1.25"/>
<circle cx="565.85" cy="927.73" r="1.9" fill="none" stroke="#1a36f0" stroke-width="1.15"/>
<circle cx="569.85" cy="926.53" r="1.9" fill="none" stroke="#1a36f0" stroke-width="1.15"/>
<circle cx="573.85" cy="931.71" r="1.9" fill="none" stroke="#1a36f0" stroke-width="1.15"/>
<circle cx="565.85" cy="933.7" r="1.9" fill="none" stroke="#1a36f0" stroke-width="1.15"/>
<circle cx="573.85" cy="934.5" r="1.9" fill="none" stroke="#1a36f0" stroke-width="1.15"/>
<circle cx="569.85" cy="936.89" r="1.9" fill="none" stroke="#1a36f0" stroke-width="1.15"/>
<line x1="586.85" y1="885.9" x2="586.85" y2="903.43" stroke="#1c1c1c" stroke-width="1.25"/>
<line x1="583.85" y1="885.9" x2="589.85" y2="885.9" stroke="#1c1c1c" stroke-width="1.25"/>
<line x1="583.85" y1="903.43" x2="589.85" y2="903.43" stroke="#1c1c1c" stroke-width="1.25"/>
<circle cx="586.85" cy="878.73" r="1.9" fill="none" stroke="#1c1c1c" stroke-width="1.15"/>
<circle cx="582.85" cy="891.88" r="1.9" fill="none" stroke="#1c1c1c" stroke-width="1.15"/>
<circle cx="590.85" cy="893.07" r="1.9" fill="none" stroke="#1c1c1c" stroke-width="1.15"/>
<circle cx="586.85" cy="895.06" r="1.9" fill="none" stroke="#1c1c1c" stroke-width="1.15"/>
<circle cx="583.85" cy="898.65" r="1.9" fill="none" stroke="#1c1c1c" stroke-width="1.15"/>
<circle cx="589.85" cy="900.64" r="1.9" fill="none" stroke="#1c1c1c" stroke-width="1.15"/>
<line x1="603.4" y1="889.09" x2="603.4" y2="909.8" stroke="#1c1c1c" stroke-width="1.25"/>
<line x1="600.4" y1="889.09" x2="606.4" y2="889.09" stroke="#1c1c1c" stroke-width="1.25"/>
<line x1="600.4" y1="909.8" x2="606.4" y2="909.8" stroke="#1c1c1c" stroke-width="1.25"/>
<circle cx="603.4" cy="881.12" r="1.9" fill="none" stroke="#1c1c1c" stroke-width="1.15"/>
<circle cx="603.4" cy="895.86" r="1.9" fill="none" stroke="#1c1c1c" stroke-width="1.15"/>
<circle cx="599.4" cy="897.85" r="1.9" fill="none" stroke="#1c1c1c" stroke-width="1.15"/>
<circle cx="607.4" cy="903.83" r="1.9" fill="none" stroke="#1c1c1c" stroke-width="1.15"/>
<circle cx="599.4" cy="905.82" r="1.9" fill="none" stroke="#1c1c1c" stroke-width="1.15"/>
<circle cx="607.4" cy="907.81" r="1.9" fill="none" stroke="#1c1c1c" stroke-width="1.15"/>
<line x1="538.8" y1="862" x2="538.8" y2="981.5" stroke="#2e2e2e" stroke-width="1.2"/>
<line x1="533.3" y1="862" x2="538.8" y2="862" stroke="#2e2e2e" stroke-width="1.2"/>
<text x="532.2" y="866.3" text-anchor="end" style="font-family:'Liberation Sans', sans-serif;font-size:12.2px;fill:#1c1c1c;stroke:#1c1c1c;stroke-width:0.25px">650</text>
<line x1="533.3" y1="881.92" x2="538.8" y2="881.92" stroke="#2e2e2e" stroke-width="1.2"/>
<text x="532.2" y="886.22" text-anchor="end" style="font-family:'Liberation Sans', sans-serif;font-size:12.2px;fill:#1c1c1c;stroke:#1c1c1c;stroke-width:0.25px">600</text>
<line x1="533.3" y1="901.83" x2="538.8" y2="901.83" stroke="#2e2e2e" stroke-width="1.2"/>
<text x="532.2" y="906.13" text-anchor="end" style="font-family:'Liberation Sans', sans-serif;font-size:12.2px;fill:#1c1c1c;stroke:#1c1c1c;stroke-width:0.25px">550</text>
<line x1="533.3" y1="921.75" x2="538.8" y2="921.75" stroke="#2e2e2e" stroke-width="1.2"/>
<text x="532.2" y="926.05" text-anchor="end" style="font-family:'Liberation Sans', sans-serif;font-size:12.2px;fill:#1c1c1c;stroke:#1c1c1c;stroke-width:0.25px">500</text>
<line x1="533.3" y1="941.67" x2="538.8" y2="941.67" stroke="#2e2e2e" stroke-width="1.2"/>
<text x="532.2" y="945.97" text-anchor="end" style="font-family:'Liberation Sans', sans-serif;font-size:12.2px;fill:#1c1c1c;stroke:#1c1c1c;stroke-width:0.25px">450</text>
<line x1="533.3" y1="961.58" x2="538.8" y2="961.58" stroke="#2e2e2e" stroke-width="1.2"/>
<text x="532.2" y="965.88" text-anchor="end" style="font-family:'Liberation Sans', sans-serif;font-size:12.2px;fill:#1c1c1c;stroke:#1c1c1c;stroke-width:0.25px">400</text>
<line x1="533.3" y1="981.5" x2="538.8" y2="981.5" stroke="#2e2e2e" stroke-width="1.2"/>
<text x="532.2" y="985.8" text-anchor="end" style="font-family:'Liberation Sans', sans-serif;font-size:12.2px;fill:#1c1c1c;stroke:#1c1c1c;stroke-width:0.25px">350</text>
<line x1="538.8" y1="981.5" x2="618.2" y2="981.5" stroke="#2e2e2e" stroke-width="1.2"/>
<line x1="553.2" y1="981.5" x2="553.2" y2="987.5" stroke="#2e2e2e" stroke-width="1.2"/>
<line x1="569.9" y1="981.5" x2="569.9" y2="987.5" stroke="#2e2e2e" stroke-width="1.2"/>
<line x1="586.3" y1="981.5" x2="586.3" y2="987.5" stroke="#2e2e2e" stroke-width="1.2"/>
<line x1="603.3" y1="981.5" x2="603.3" y2="987.5" stroke="#2e2e2e" stroke-width="1.2"/>
<text x="553.2" y="998.2" text-anchor="middle" style="font-family:'Liberation Sans', sans-serif;font-size:12.5px;fill:#1c1c1c;stroke:#1c1c1c;stroke-width:0.25px">-</text>
<text x="569.9" y="998.2" text-anchor="middle" style="font-family:'Liberation Sans', sans-serif;font-size:12.5px;fill:#1c1c1c;stroke:#1c1c1c;stroke-width:0.25px">+</text>
<text x="586.3" y="998.2" text-anchor="middle" style="font-family:'Liberation Sans', sans-serif;font-size:12.5px;fill:#1c1c1c;stroke:#1c1c1c;stroke-width:0.25px">-</text>
<text x="603.3" y="998.2" text-anchor="middle" style="font-family:'Liberation Sans', sans-serif;font-size:12.5px;fill:#1c1c1c;stroke:#1c1c1c;stroke-width:0.25px">+</text>
<text x="541" y="1001.7" text-anchor="end" style="font-family:'Liberation Sans', sans-serif;font-size:11.8px;fill:#1c1c1c;stroke:#1c1c1c;stroke-width:0.25px">OAG</text>
<line x1="545.9" y1="1001.7" x2="576.4" y2="1001.7" stroke="#333" stroke-width="1"/>
<text x="555" y="1016.3" text-anchor="middle" style="font-family:'Liberation Sans', sans-serif;font-size:12px;fill:#1c1c1c;stroke:#1c1c1c;stroke-width:0.25px">scRNA</text>
<line x1="579.6" y1="1001.7" x2="612.5" y2="1001.7" stroke="#333" stroke-width="1"/>
<text x="595.5" y="1016.3" text-anchor="middle" style="font-family:'Liberation Sans', sans-serif;font-size:12px;fill:#1c1c1c;stroke:#1c1c1c;stroke-width:0.25px">siPKC<tspan style="font-family:'Liberation Serif', serif">δ</tspan></text>
<text x="576.2" y="842.6" text-anchor="middle" style="font-family:'Liberation Sans', sans-serif;font-size:11.2px;fill:#1c1c1c;stroke:#1c1c1c;stroke-width:0.25px">Nucleoplast</text>
<text transform="translate(505.2,921.75) rotate(-90)" text-anchor="middle" style="font-family:'Liberation Sans', sans-serif;font-size:11.3px;fill:#1c1c1c;stroke:#1c1c1c;stroke-width:0.25px">NAD level (pmol/mg)</text>
<polyline points="553.8,867.2 553.8,860.7 569.4,860.7 569.4,867.2" stroke="#2e2e2e" stroke-width="1.1" fill="none" stroke-linejoin="miter"/>
<text x="561.6" y="860.5" text-anchor="middle" style="font-family:'Liberation Sans', sans-serif;font-size:13px;fill:#1c1c1c;stroke:#1c1c1c;stroke-width:0.25px">***</text>
<polyline points="572.6,867.2 572.6,860.7 603.8,860.7 603.8,867.2" stroke="#2e2e2e" stroke-width="1.1" fill="none" stroke-linejoin="miter"/>
<text x="588.2" y="860.5" text-anchor="middle" style="font-family:'Liberation Sans', sans-serif;font-size:13px;fill:#1c1c1c;stroke:#1c1c1c;stroke-width:0.25px">***</text>
<rect x="668" y="924.84" width="14.3" height="54.66" fill="#ffffff" stroke="#2e2e2e" stroke-width="1.2"/>
<rect x="684.7" y="883.17" width="14.5" height="96.33" fill="#f57878" stroke="none" stroke-width="1"/>
<line x1="684.7" y1="883.77" x2="699.2" y2="883.77" stroke="#2e2e2e" stroke-width="1.2"/>
<line x1="685.2" y1="883.17" x2="685.2" y2="979.5" stroke="#3a3a3a" stroke-width="1"/>
<rect x="698.2" y="883.17" width="2.2" height="96.33" fill="#6e6e6e" stroke="none" stroke-width="1"/>
<rect x="701.6" y="921.59" width="13.2" height="57.91" fill="#ffffff" stroke="#2e2e2e" stroke-width="1.2"/>
<rect x="717.8" y="909.77" width="14.1" height="69.73" fill="#ffffff" stroke="#2e2e2e" stroke-width="1.2"/>
<line x1="675.15" y1="915.38" x2="675.15" y2="933.11" stroke="#1c1c1c" stroke-width="1.25"/>
<line x1="672.15" y1="915.38" x2="678.15" y2="915.38" stroke="#1c1c1c" stroke-width="1.25"/>
<line x1="672.15" y1="933.11" x2="678.15" y2="933.11" stroke="#1c1c1c" stroke-width="1.25"/>
<circle cx="675.15" cy="913.01" r="1.9" fill="none" stroke="#1c1c1c" stroke-width="1.15"/>
<circle cx="671.15" cy="916.85" r="1.9" fill="none" stroke="#1c1c1c" stroke-width="1.15"/>
<circle cx="679.15" cy="918.92" r="1.9" fill="none" stroke="#1c1c1c" stroke-width="1.15"/>
<circle cx="675.15" cy="924.83" r="1.9" fill="none" stroke="#1c1c1c" stroke-width="1.15"/>
<circle cx="671.15" cy="930.15" r="1.9" fill="none" stroke="#1c1c1c" stroke-width="1.15"/>
<circle cx="679.15" cy="931.63" r="1.9" fill="none" stroke="#1c1c1c" stroke-width="1.15"/>
<line x1="691.95" y1="869.28" x2="691.95" y2="897.06" stroke="#b81c26" stroke-width="1.25"/>
<line x1="688.95" y1="869.28" x2="694.95" y2="869.28" stroke="#b81c26" stroke-width="1.25"/>
<line x1="688.95" y1="897.06" x2="694.95" y2="897.06" stroke="#b81c26" stroke-width="1.25"/>
<circle cx="691.95" cy="862.78" r="1.9" fill="none" stroke="#b81c26" stroke-width="1.15"/>
<circle cx="691.95" cy="869.28" r="1.9" fill="none" stroke="#b81c26" stroke-width="1.15"/>
<circle cx="691.95" cy="883.46" r="1.9" fill="none" stroke="#b81c26" stroke-width="1.15"/>
<circle cx="687.95" cy="893.8" r="1.9" fill="none" stroke="#b81c26" stroke-width="1.15"/>
<circle cx="691.95" cy="892.33" r="1.9" fill="none" stroke="#b81c26" stroke-width="1.15"/>
<circle cx="695.95" cy="897.65" r="1.9" fill="none" stroke="#b81c26" stroke-width="1.15"/>
<line x1="708.2" y1="914.49" x2="708.2" y2="927.49" stroke="#1c1c1c" stroke-width="1.25"/>
<line x1="705.2" y1="914.49" x2="711.2" y2="914.49" stroke="#1c1c1c" stroke-width="1.25"/>
<line x1="705.2" y1="927.49" x2="711.2" y2="927.49" stroke="#1c1c1c" stroke-width="1.25"/>
<circle cx="708.2" cy="908.58" r="1.9" fill="none" stroke="#1c1c1c" stroke-width="1.15"/>
<circle cx="704.2" cy="918.92" r="1.9" fill="none" stroke="#1c1c1c" stroke-width="1.15"/>
<circle cx="712.2" cy="920.99" r="1.9" fill="none" stroke="#1c1c1c" stroke-width="1.15"/>
<circle cx="705.2" cy="923.36" r="1.9" fill="none" stroke="#1c1c1c" stroke-width="1.15"/>
<circle cx="711.2" cy="923.95" r="1.9" fill="none" stroke="#1c1c1c" stroke-width="1.15"/>
<circle cx="708.2" cy="926.31" r="1.9" fill="none" stroke="#1c1c1c" stroke-width="1.15"/>
<line x1="724.85" y1="897.94" x2="724.85" y2="920.4" stroke="#1c1c1c" stroke-width="1.25"/>
<line x1="721.85" y1="897.94" x2="727.85" y2="897.94" stroke="#1c1c1c" stroke-width="1.25"/>
<line x1="721.85" y1="920.4" x2="727.85" y2="920.4" stroke="#1c1c1c" stroke-width="1.25"/>
<circle cx="721.85" cy="897.35" r="1.9" fill="none" stroke="#1c1c1c" stroke-width="1.15"/>
<circle cx="728.85" cy="896.76" r="1.9" fill="none" stroke="#1c1c1c" stroke-width="1.15"/>
<circle cx="721.85" cy="902.67" r="1.9" fill="none" stroke="#1c1c1c" stroke-width="1.15"/>
<circle cx="728.85" cy="905.03" r="1.9" fill="none" stroke="#1c1c1c" stroke-width="1.15"/>
<circle cx="720.85" cy="917.44" r="1.9" fill="none" stroke="#1c1c1c" stroke-width="1.15"/>
<circle cx="728.85" cy="920.99" r="1.9" fill="none" stroke="#1c1c1c" stroke-width="1.15"/>
<line x1="661.3" y1="861.3" x2="661.3" y2="979.5" stroke="#2e2e2e" stroke-width="1.2"/>
<line x1="656.3" y1="861.3" x2="661.3" y2="861.3" stroke="#2e2e2e" stroke-width="1.2"/>
<text x="654.8" y="865.6" text-anchor="end" style="font-family:'Liberation Sans', sans-serif;font-size:12.2px;fill:#1c1c1c;stroke:#1c1c1c;stroke-width:0.25px">800</text>
<line x1="656.3" y1="890.85" x2="661.3" y2="890.85" stroke="#2e2e2e" stroke-width="1.2"/>
<text x="654.8" y="895.15" text-anchor="end" style="font-family:'Liberation Sans', sans-serif;font-size:12.2px;fill:#1c1c1c;stroke:#1c1c1c;stroke-width:0.25px">700</text>
<line x1="656.3" y1="920.4" x2="661.3" y2="920.4" stroke="#2e2e2e" stroke-width="1.2"/>
<text x="654.8" y="924.7" text-anchor="end" style="font-family:'Liberation Sans', sans-serif;font-size:12.2px;fill:#1c1c1c;stroke:#1c1c1c;stroke-width:0.25px">600</text>
<line x1="656.3" y1="949.95" x2="661.3" y2="949.95" stroke="#2e2e2e" stroke-width="1.2"/>
<text x="654.8" y="954.25" text-anchor="end" style="font-family:'Liberation Sans', sans-serif;font-size:12.2px;fill:#1c1c1c;stroke:#1c1c1c;stroke-width:0.25px">500</text>
<line x1="656.3" y1="979.5" x2="661.3" y2="979.5" stroke="#2e2e2e" stroke-width="1.2"/>
<text x="654.8" y="983.8" text-anchor="end" style="font-family:'Liberation Sans', sans-serif;font-size:12.2px;fill:#1c1c1c;stroke:#1c1c1c;stroke-width:0.25px">400</text>
<line x1="661.3" y1="979.5" x2="740" y2="979.5" stroke="#2e2e2e" stroke-width="1.2"/>
<line x1="675.3" y1="979.5" x2="675.3" y2="985.5" stroke="#2e2e2e" stroke-width="1.2"/>
<line x1="692.1" y1="979.5" x2="692.1" y2="985.5" stroke="#2e2e2e" stroke-width="1.2"/>
<line x1="708.4" y1="979.5" x2="708.4" y2="985.5" stroke="#2e2e2e" stroke-width="1.2"/>
<line x1="724.9" y1="979.5" x2="724.9" y2="985.5" stroke="#2e2e2e" stroke-width="1.2"/>
<text x="675.3" y="996.5" text-anchor="middle" style="font-family:'Liberation Sans', sans-serif;font-size:12.5px;fill:#1c1c1c;stroke:#1c1c1c;stroke-width:0.25px">-</text>
<text x="692.1" y="996.5" text-anchor="middle" style="font-family:'Liberation Sans', sans-serif;font-size:12.5px;fill:#1c1c1c;stroke:#1c1c1c;stroke-width:0.25px">+</text>
<text x="708.4" y="996.5" text-anchor="middle" style="font-family:'Liberation Sans', sans-serif;font-size:12.5px;fill:#1c1c1c;stroke:#1c1c1c;stroke-width:0.25px">-</text>
<text x="724.9" y="996.5" text-anchor="middle" style="font-family:'Liberation Sans', sans-serif;font-size:12.5px;fill:#1c1c1c;stroke:#1c1c1c;stroke-width:0.25px">+</text>
<text x="663.4" y="999.3" text-anchor="end" style="font-family:'Liberation Sans', sans-serif;font-size:11.8px;fill:#1c1c1c;stroke:#1c1c1c;stroke-width:0.25px">OAG</text>
<line x1="666.2" y1="1001.2" x2="697" y2="1001.2" stroke="#333" stroke-width="1"/>
<text x="678.9" y="1014.5" text-anchor="middle" style="font-family:'Liberation Sans', sans-serif;font-size:11.5px;fill:#1c1c1c;stroke:#1c1c1c;stroke-width:0.25px">scRNA</text>
<line x1="702.2" y1="1001.2" x2="734.7" y2="1001.2" stroke="#333" stroke-width="1"/>
<text x="718" y="1014.5" text-anchor="middle" style="font-family:'Liberation Sans', sans-serif;font-size:11.5px;fill:#1c1c1c;stroke:#1c1c1c;stroke-width:0.25px">siPKC<tspan style="font-family:'Liberation Serif', serif">δ</tspan></text>
<text x="697.8" y="841.4" text-anchor="middle" style="font-family:'Liberation Sans', sans-serif;font-size:11.2px;fill:#1c1c1c;stroke:#1c1c1c;stroke-width:0.25px">Nucleoplast</text>
<text transform="translate(630,920.4) rotate(-90)" text-anchor="middle" style="font-family:'Liberation Sans', sans-serif;font-size:11.3px;fill:#1c1c1c;stroke:#1c1c1c;stroke-width:0.25px">ADPR level (pmol/mg)</text>
<polyline points="674.7,860.2 674.7,854.2 691.7,854.2 691.7,860.2" stroke="#2e2e2e" stroke-width="1.1" fill="none" stroke-linejoin="miter"/>
<text x="683.2" y="854" text-anchor="middle" style="font-family:'Liberation Sans', sans-serif;font-size:13px;fill:#1c1c1c;stroke:#1c1c1c;stroke-width:0.25px">***</text>
<polyline points="694.3,860.2 694.3,854.2 725.4,854.2 725.4,860.2" stroke="#2e2e2e" stroke-width="1.1" fill="none" stroke-linejoin="miter"/>
<text x="709.85" y="854" text-anchor="middle" style="font-family:'Liberation Sans', sans-serif;font-size:13px;fill:#1c1c1c;stroke:#1c1c1c;stroke-width:0.25px">**</text>
</svg>
</body></html>
